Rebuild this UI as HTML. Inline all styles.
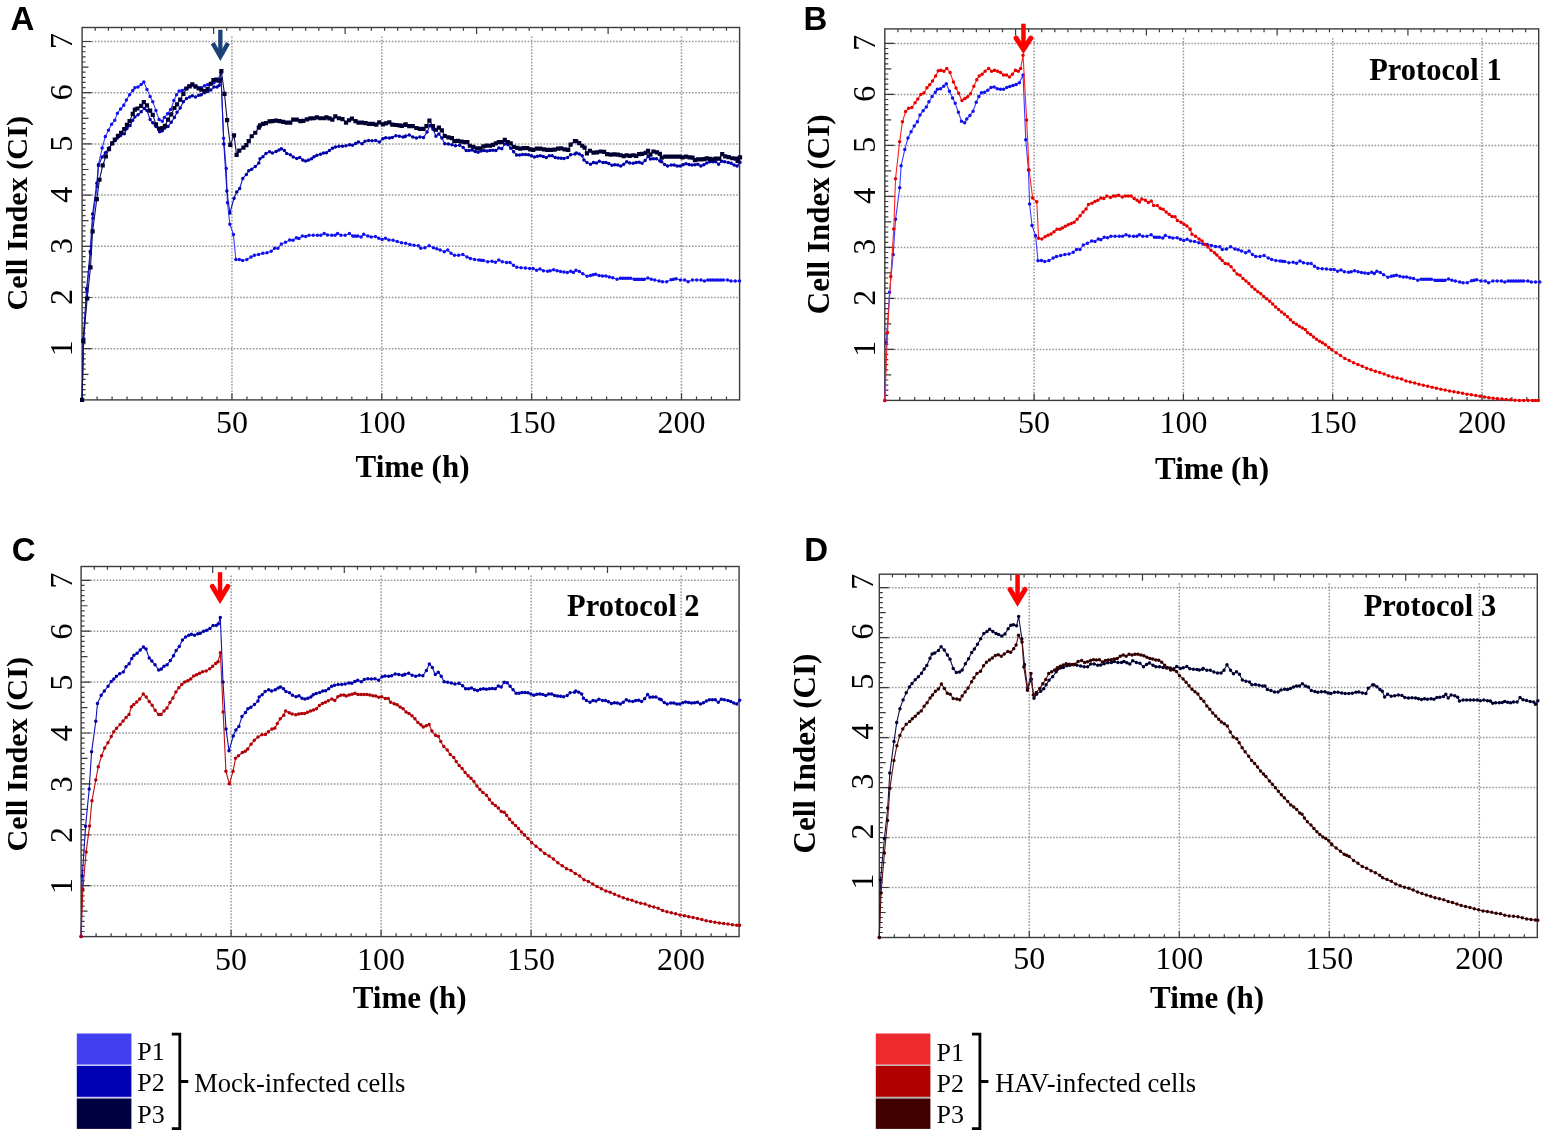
<!DOCTYPE html>
<html><head><meta charset="utf-8"><title>Cell Index</title>
<style>
html,body{margin:0;padding:0;background:#fff;width:1547px;height:1138px;overflow:hidden}
svg{display:block}
.tl{font-family:'Liberation Serif','Times New Roman',serif;fill:#000}
.al{font-family:'Liberation Serif','Times New Roman',serif;font-weight:bold;fill:#000}
.pl{font-family:'Liberation Sans',Arial,sans-serif;font-weight:bold;fill:#000}
.lg{font-family:'Liberation Serif','Times New Roman',serif;fill:#000}
</style></head><body>
<svg width="1547" height="1138" viewBox="0 0 1547 1138">
<rect width="1547" height="1138" fill="#fff"/>
<path d="M82.1 348.7H739.6M82.1 297.5H739.6M82.1 246.3H739.6M82.1 195.1H739.6M82.1 143.9H739.6M82.1 92.7H739.6M82.1 41.5H739.6M231.95 36.5V399.9M381.8 36.5V399.9M531.65 36.5V399.9M681.5 36.5V399.9" stroke="#989898" stroke-width="1.5" stroke-dasharray="1.6 1.56" fill="none"/>
<path d="M97.08 399.9v-3.3M112.07 399.9v-3.3M127.05 399.9v-3.3M142.04 399.9v-3.3M157.02 399.9v-3.3M172.01 399.9v-3.3M187 399.9v-3.3M201.98 399.9v-3.3M216.97 399.9v-3.3M231.95 399.9v-6.6M246.93 399.9v-3.3M261.92 399.9v-3.3M276.9 399.9v-3.3M291.89 399.9v-3.3M306.88 399.9v-3.3M321.86 399.9v-3.3M336.85 399.9v-3.3M351.83 399.9v-3.3M366.81 399.9v-3.3M381.8 399.9v-6.6M396.78 399.9v-3.3M411.77 399.9v-3.3M426.75 399.9v-3.3M441.74 399.9v-3.3M456.73 399.9v-3.3M471.71 399.9v-3.3M486.69 399.9v-3.3M501.68 399.9v-3.3M516.66 399.9v-3.3M531.65 399.9v-6.6M546.63 399.9v-3.3M561.62 399.9v-3.3M576.61 399.9v-3.3M591.59 399.9v-3.3M606.58 399.9v-3.3M621.56 399.9v-3.3M636.54 399.9v-3.3M651.53 399.9v-3.3M666.51 399.9v-3.3M681.5 399.9v-6.6M696.49 399.9v-3.3M711.47 399.9v-3.3M726.46 399.9v-3.3M82.1 394.78h3.5M82.1 389.66h3.5M82.1 384.54h3.5M82.1 379.42h3.5M82.1 374.3h6.4M82.1 369.18h3.5M82.1 364.06h3.5M82.1 358.94h3.5M82.1 353.82h3.5M82.1 348.7h9.5M82.1 343.58h3.5M82.1 338.46h3.5M82.1 333.34h3.5M82.1 328.22h3.5M82.1 323.1h6.4M82.1 317.98h3.5M82.1 312.86h3.5M82.1 307.74h3.5M82.1 302.62h3.5M82.1 297.5h9.5M82.1 292.38h3.5M82.1 287.26h3.5M82.1 282.14h3.5M82.1 277.02h3.5M82.1 271.9h6.4M82.1 266.78h3.5M82.1 261.66h3.5M82.1 256.54h3.5M82.1 251.42h3.5M82.1 246.3h9.5M82.1 241.18h3.5M82.1 236.06h3.5M82.1 230.94h3.5M82.1 225.82h3.5M82.1 220.7h6.4M82.1 215.58h3.5M82.1 210.46h3.5M82.1 205.34h3.5M82.1 200.22h3.5M82.1 195.1h9.5M82.1 189.98h3.5M82.1 184.86h3.5M82.1 179.74h3.5M82.1 174.62h3.5M82.1 169.5h6.4M82.1 164.38h3.5M82.1 159.26h3.5M82.1 154.14h3.5M82.1 149.02h3.5M82.1 143.9h9.5M82.1 138.78h3.5M82.1 133.66h3.5M82.1 128.54h3.5M82.1 123.42h3.5M82.1 118.3h6.4M82.1 113.18h3.5M82.1 108.06h3.5M82.1 102.94h3.5M82.1 97.82h3.5M82.1 92.7h9.5M82.1 87.58h3.5M82.1 82.46h3.5M82.1 77.34h3.5M82.1 72.22h3.5M82.1 67.1h6.4M82.1 61.98h3.5M82.1 56.86h3.5M82.1 51.74h3.5M82.1 46.62h3.5M82.1 41.5h9.5M95.25 27.5v3.3M108.4 27.5v3.3M121.55 27.5v3.3M134.7 27.5v3.3M147.85 27.5v3.3M161 27.5v3.3M174.15 27.5v3.3M187.3 27.5v3.3M200.45 27.5v3.3M213.6 27.5v6.6M226.75 27.5v3.3M239.9 27.5v3.3M253.05 27.5v3.3M266.2 27.5v3.3M279.35 27.5v3.3M292.5 27.5v3.3M305.65 27.5v3.3M318.8 27.5v3.3M331.95 27.5v3.3M345.1 27.5v6.6M358.25 27.5v3.3M371.4 27.5v3.3M384.55 27.5v3.3M397.7 27.5v3.3M410.85 27.5v3.3M424 27.5v3.3M437.15 27.5v3.3M450.3 27.5v3.3M463.45 27.5v3.3M476.6 27.5v6.6M489.75 27.5v3.3M502.9 27.5v3.3M516.05 27.5v3.3M529.2 27.5v3.3M542.35 27.5v3.3M555.5 27.5v3.3M568.65 27.5v3.3M581.8 27.5v3.3M594.95 27.5v3.3M608.1 27.5v6.6M621.25 27.5v3.3M634.4 27.5v3.3M647.55 27.5v3.3M660.7 27.5v3.3M673.85 27.5v3.3M687 27.5v3.3M700.15 27.5v3.3M713.3 27.5v3.3M726.45 27.5v3.3" stroke="#3a3a3a" stroke-width="1.2" fill="none"/>
<rect x="82.1" y="27.5" width="657.5" height="372.4" fill="none" stroke="#3c3c3c" stroke-width="1.4"/>
<polyline points="82.1,399.9 83.6,341.53 86.9,291.36 90.49,253.47 92.89,218.14 97.08,186.4 98.46,164.43 102.15,148.05 105.33,136.48 108.47,130.13 111.65,124.34 114.8,120.14 117.43,113.28 120.61,109.03 123.76,105.35 126.4,100.07 129.57,94.8 132.75,90.6 134.85,87.63 138.02,86.91 141.17,84.46 143.81,81.95 146.99,89.53 150.13,96.39 152.77,101.66 155.95,110.62 159.09,119.58 162.27,121.17 164.37,117.48 167.54,113.79 170.69,109.6 173.87,100.58 176.51,94.8 179.14,91.11 182.32,90.6 185.47,88.5 188.64,85.84 191.79,85.33 194.97,86.91 198.11,87.43 201.29,87.63 204.47,85.84 207.61,84.76 210.79,83.74 213.94,82.66 217.11,81.08 220.86,73.24 223.56,138.27 226.26,168.48 227.45,202.78 229.85,224.28 233.45,234.52 235.85,259.61 239.29,259.56 242.65,260.43 246.85,259.56 251.04,257.05 254.4,255.36 258.62,254.54 262.82,253.37 267.01,252.85 271.21,251.16 274.57,248.3 277.95,248.3 281.31,243.94 285.51,242.26 289.7,239.9 293.06,240.26 296.42,237.75 298.96,238.57 302.32,236.06 305.68,236.57 309.03,235.19 313.23,235.19 317.42,235.19 320.81,235.19 324.17,233.55 327.52,234.88 331.72,235.19 335.08,235.19 337.59,233.55 340.98,235.19 345.18,235.19 349.37,233.55 352.73,236.06 357.76,236.06 361.12,236.88 363.67,234.37 367.86,236.06 371.22,236.88 375.42,236.57 378.77,238.21 382.13,239.39 385.52,238.21 388.87,239.9 393.07,240.26 397.26,241.59 401.46,242.77 405.69,243.28 409.88,244.46 414.08,245.28 418.27,245.63 420.79,248.3 424.99,247.84 429.21,245.63 433.41,247.84 436.76,248.66 440.12,249.99 444.32,251.68 447.7,249.99 451.06,253.37 454.42,255.36 458.61,255.36 462.81,254.54 467,257.05 470.39,258.38 474.59,259.56 478.78,260.07 483.43,260.48 487.71,261.71 492,261.2 495.42,262.22 498.83,259.97 502.28,261.71 506.57,262.53 509.98,262.53 513.4,265.14 516.81,267.34 521.1,267.7 525.39,268.01 529.67,268.52 533.09,268.52 536.54,270.26 539.95,269.03 543.37,270.77 547.65,271.13 550.23,270.77 553.65,269.75 557.09,270.77 560.51,271.44 563.93,271.95 567.37,272.46 570.79,271.13 573.37,272.46 575.92,270.26 579.36,271.44 582.78,273.69 587.06,276.25 590.48,275.38 595.64,274.2 599.05,275.38 602.47,275.89 605.92,275.89 609.33,277.12 612.75,277.63 617.03,279.32 620.45,278.3 625.61,278.3 630.73,278.3 634.18,279.32 639.3,279.32 644.46,279.32 647.87,277.94 651.29,279.32 654.74,280.04 659.02,281.06 662.44,281.73 666.72,281.73 671.01,279.68 676.14,278.81 680.42,280.04 684.71,280.04 688.12,281.73 692.41,280.04 696.69,280.04 700.98,280.04 704.4,281.06 707.81,280.04 712.97,280.04 718.09,280.04 723.25,280.04 727.53,280.04 730.95,281.06 735.24,281.06 739.52,281.06" fill="none" stroke="#3a3aff" stroke-width="1.1" stroke-linejoin="round"/>
<path d="M80.35 399.9a1.75 1.75 0 1 0 3.5 0a1.75 1.75 0 1 0 -3.5 0zM81.85 341.53a1.75 1.75 0 1 0 3.5 0a1.75 1.75 0 1 0 -3.5 0zM85.15 291.36a1.75 1.75 0 1 0 3.5 0a1.75 1.75 0 1 0 -3.5 0zM88.74 253.47a1.75 1.75 0 1 0 3.5 0a1.75 1.75 0 1 0 -3.5 0zM91.14 218.14a1.75 1.75 0 1 0 3.5 0a1.75 1.75 0 1 0 -3.5 0zM95.33 186.4a1.75 1.75 0 1 0 3.5 0a1.75 1.75 0 1 0 -3.5 0zM96.71 164.43a1.75 1.75 0 1 0 3.5 0a1.75 1.75 0 1 0 -3.5 0zM100.4 148.05a1.75 1.75 0 1 0 3.5 0a1.75 1.75 0 1 0 -3.5 0zM103.58 136.48a1.75 1.75 0 1 0 3.5 0a1.75 1.75 0 1 0 -3.5 0zM106.72 130.13a1.75 1.75 0 1 0 3.5 0a1.75 1.75 0 1 0 -3.5 0zM109.9 124.34a1.75 1.75 0 1 0 3.5 0a1.75 1.75 0 1 0 -3.5 0zM113.05 120.14a1.75 1.75 0 1 0 3.5 0a1.75 1.75 0 1 0 -3.5 0zM115.68 113.28a1.75 1.75 0 1 0 3.5 0a1.75 1.75 0 1 0 -3.5 0zM118.86 109.03a1.75 1.75 0 1 0 3.5 0a1.75 1.75 0 1 0 -3.5 0zM122.01 105.35a1.75 1.75 0 1 0 3.5 0a1.75 1.75 0 1 0 -3.5 0zM124.65 100.07a1.75 1.75 0 1 0 3.5 0a1.75 1.75 0 1 0 -3.5 0zM127.82 94.8a1.75 1.75 0 1 0 3.5 0a1.75 1.75 0 1 0 -3.5 0zM131 90.6a1.75 1.75 0 1 0 3.5 0a1.75 1.75 0 1 0 -3.5 0zM133.1 87.63a1.75 1.75 0 1 0 3.5 0a1.75 1.75 0 1 0 -3.5 0zM136.27 86.91a1.75 1.75 0 1 0 3.5 0a1.75 1.75 0 1 0 -3.5 0zM139.42 84.46a1.75 1.75 0 1 0 3.5 0a1.75 1.75 0 1 0 -3.5 0zM142.06 81.95a1.75 1.75 0 1 0 3.5 0a1.75 1.75 0 1 0 -3.5 0zM145.24 89.53a1.75 1.75 0 1 0 3.5 0a1.75 1.75 0 1 0 -3.5 0zM148.38 96.39a1.75 1.75 0 1 0 3.5 0a1.75 1.75 0 1 0 -3.5 0zM151.02 101.66a1.75 1.75 0 1 0 3.5 0a1.75 1.75 0 1 0 -3.5 0zM154.2 110.62a1.75 1.75 0 1 0 3.5 0a1.75 1.75 0 1 0 -3.5 0zM157.34 119.58a1.75 1.75 0 1 0 3.5 0a1.75 1.75 0 1 0 -3.5 0zM160.52 121.17a1.75 1.75 0 1 0 3.5 0a1.75 1.75 0 1 0 -3.5 0zM162.62 117.48a1.75 1.75 0 1 0 3.5 0a1.75 1.75 0 1 0 -3.5 0zM165.79 113.79a1.75 1.75 0 1 0 3.5 0a1.75 1.75 0 1 0 -3.5 0zM168.94 109.6a1.75 1.75 0 1 0 3.5 0a1.75 1.75 0 1 0 -3.5 0zM172.12 100.58a1.75 1.75 0 1 0 3.5 0a1.75 1.75 0 1 0 -3.5 0zM174.76 94.8a1.75 1.75 0 1 0 3.5 0a1.75 1.75 0 1 0 -3.5 0zM177.39 91.11a1.75 1.75 0 1 0 3.5 0a1.75 1.75 0 1 0 -3.5 0zM180.57 90.6a1.75 1.75 0 1 0 3.5 0a1.75 1.75 0 1 0 -3.5 0zM183.72 88.5a1.75 1.75 0 1 0 3.5 0a1.75 1.75 0 1 0 -3.5 0zM186.89 85.84a1.75 1.75 0 1 0 3.5 0a1.75 1.75 0 1 0 -3.5 0zM190.04 85.33a1.75 1.75 0 1 0 3.5 0a1.75 1.75 0 1 0 -3.5 0zM193.22 86.91a1.75 1.75 0 1 0 3.5 0a1.75 1.75 0 1 0 -3.5 0zM196.36 87.43a1.75 1.75 0 1 0 3.5 0a1.75 1.75 0 1 0 -3.5 0zM199.54 87.63a1.75 1.75 0 1 0 3.5 0a1.75 1.75 0 1 0 -3.5 0zM202.72 85.84a1.75 1.75 0 1 0 3.5 0a1.75 1.75 0 1 0 -3.5 0zM205.86 84.76a1.75 1.75 0 1 0 3.5 0a1.75 1.75 0 1 0 -3.5 0zM209.04 83.74a1.75 1.75 0 1 0 3.5 0a1.75 1.75 0 1 0 -3.5 0zM212.19 82.66a1.75 1.75 0 1 0 3.5 0a1.75 1.75 0 1 0 -3.5 0zM215.36 81.08a1.75 1.75 0 1 0 3.5 0a1.75 1.75 0 1 0 -3.5 0zM219.11 73.24a1.75 1.75 0 1 0 3.5 0a1.75 1.75 0 1 0 -3.5 0zM221.81 138.27a1.75 1.75 0 1 0 3.5 0a1.75 1.75 0 1 0 -3.5 0zM224.51 168.48a1.75 1.75 0 1 0 3.5 0a1.75 1.75 0 1 0 -3.5 0zM225.7 202.78a1.75 1.75 0 1 0 3.5 0a1.75 1.75 0 1 0 -3.5 0zM228.1 224.28a1.75 1.75 0 1 0 3.5 0a1.75 1.75 0 1 0 -3.5 0zM231.7 234.52a1.75 1.75 0 1 0 3.5 0a1.75 1.75 0 1 0 -3.5 0zM234.1 259.61a1.75 1.75 0 1 0 3.5 0a1.75 1.75 0 1 0 -3.5 0zM237.54 259.56a1.75 1.75 0 1 0 3.5 0a1.75 1.75 0 1 0 -3.5 0zM240.9 260.43a1.75 1.75 0 1 0 3.5 0a1.75 1.75 0 1 0 -3.5 0zM245.1 259.56a1.75 1.75 0 1 0 3.5 0a1.75 1.75 0 1 0 -3.5 0zM249.29 257.05a1.75 1.75 0 1 0 3.5 0a1.75 1.75 0 1 0 -3.5 0zM252.65 255.36a1.75 1.75 0 1 0 3.5 0a1.75 1.75 0 1 0 -3.5 0zM256.87 254.54a1.75 1.75 0 1 0 3.5 0a1.75 1.75 0 1 0 -3.5 0zM261.07 253.37a1.75 1.75 0 1 0 3.5 0a1.75 1.75 0 1 0 -3.5 0zM265.26 252.85a1.75 1.75 0 1 0 3.5 0a1.75 1.75 0 1 0 -3.5 0zM269.46 251.16a1.75 1.75 0 1 0 3.5 0a1.75 1.75 0 1 0 -3.5 0zM272.82 248.3a1.75 1.75 0 1 0 3.5 0a1.75 1.75 0 1 0 -3.5 0zM276.2 248.3a1.75 1.75 0 1 0 3.5 0a1.75 1.75 0 1 0 -3.5 0zM279.56 243.94a1.75 1.75 0 1 0 3.5 0a1.75 1.75 0 1 0 -3.5 0zM283.76 242.26a1.75 1.75 0 1 0 3.5 0a1.75 1.75 0 1 0 -3.5 0zM287.95 239.9a1.75 1.75 0 1 0 3.5 0a1.75 1.75 0 1 0 -3.5 0zM291.31 240.26a1.75 1.75 0 1 0 3.5 0a1.75 1.75 0 1 0 -3.5 0zM294.67 237.75a1.75 1.75 0 1 0 3.5 0a1.75 1.75 0 1 0 -3.5 0zM297.21 238.57a1.75 1.75 0 1 0 3.5 0a1.75 1.75 0 1 0 -3.5 0zM300.57 236.06a1.75 1.75 0 1 0 3.5 0a1.75 1.75 0 1 0 -3.5 0zM303.93 236.57a1.75 1.75 0 1 0 3.5 0a1.75 1.75 0 1 0 -3.5 0zM307.28 235.19a1.75 1.75 0 1 0 3.5 0a1.75 1.75 0 1 0 -3.5 0zM311.48 235.19a1.75 1.75 0 1 0 3.5 0a1.75 1.75 0 1 0 -3.5 0zM315.67 235.19a1.75 1.75 0 1 0 3.5 0a1.75 1.75 0 1 0 -3.5 0zM319.06 235.19a1.75 1.75 0 1 0 3.5 0a1.75 1.75 0 1 0 -3.5 0zM322.42 233.55a1.75 1.75 0 1 0 3.5 0a1.75 1.75 0 1 0 -3.5 0zM325.77 234.88a1.75 1.75 0 1 0 3.5 0a1.75 1.75 0 1 0 -3.5 0zM329.97 235.19a1.75 1.75 0 1 0 3.5 0a1.75 1.75 0 1 0 -3.5 0zM333.33 235.19a1.75 1.75 0 1 0 3.5 0a1.75 1.75 0 1 0 -3.5 0zM335.84 233.55a1.75 1.75 0 1 0 3.5 0a1.75 1.75 0 1 0 -3.5 0zM339.23 235.19a1.75 1.75 0 1 0 3.5 0a1.75 1.75 0 1 0 -3.5 0zM343.43 235.19a1.75 1.75 0 1 0 3.5 0a1.75 1.75 0 1 0 -3.5 0zM347.62 233.55a1.75 1.75 0 1 0 3.5 0a1.75 1.75 0 1 0 -3.5 0zM350.98 236.06a1.75 1.75 0 1 0 3.5 0a1.75 1.75 0 1 0 -3.5 0zM353.5 236.06a1.75 1.75 0 1 0 3.5 0a1.75 1.75 0 1 0 -3.5 0zM356.01 236.06a1.75 1.75 0 1 0 3.5 0a1.75 1.75 0 1 0 -3.5 0zM359.37 236.88a1.75 1.75 0 1 0 3.5 0a1.75 1.75 0 1 0 -3.5 0zM361.92 234.37a1.75 1.75 0 1 0 3.5 0a1.75 1.75 0 1 0 -3.5 0zM366.11 236.06a1.75 1.75 0 1 0 3.5 0a1.75 1.75 0 1 0 -3.5 0zM369.47 236.88a1.75 1.75 0 1 0 3.5 0a1.75 1.75 0 1 0 -3.5 0zM373.67 236.57a1.75 1.75 0 1 0 3.5 0a1.75 1.75 0 1 0 -3.5 0zM377.02 238.21a1.75 1.75 0 1 0 3.5 0a1.75 1.75 0 1 0 -3.5 0zM380.38 239.39a1.75 1.75 0 1 0 3.5 0a1.75 1.75 0 1 0 -3.5 0zM383.77 238.21a1.75 1.75 0 1 0 3.5 0a1.75 1.75 0 1 0 -3.5 0zM387.12 239.9a1.75 1.75 0 1 0 3.5 0a1.75 1.75 0 1 0 -3.5 0zM391.32 240.26a1.75 1.75 0 1 0 3.5 0a1.75 1.75 0 1 0 -3.5 0zM395.51 241.59a1.75 1.75 0 1 0 3.5 0a1.75 1.75 0 1 0 -3.5 0zM399.71 242.77a1.75 1.75 0 1 0 3.5 0a1.75 1.75 0 1 0 -3.5 0zM403.94 243.28a1.75 1.75 0 1 0 3.5 0a1.75 1.75 0 1 0 -3.5 0zM408.13 244.46a1.75 1.75 0 1 0 3.5 0a1.75 1.75 0 1 0 -3.5 0zM412.33 245.28a1.75 1.75 0 1 0 3.5 0a1.75 1.75 0 1 0 -3.5 0zM416.52 245.63a1.75 1.75 0 1 0 3.5 0a1.75 1.75 0 1 0 -3.5 0zM419.04 248.3a1.75 1.75 0 1 0 3.5 0a1.75 1.75 0 1 0 -3.5 0zM423.24 247.84a1.75 1.75 0 1 0 3.5 0a1.75 1.75 0 1 0 -3.5 0zM427.46 245.63a1.75 1.75 0 1 0 3.5 0a1.75 1.75 0 1 0 -3.5 0zM431.66 247.84a1.75 1.75 0 1 0 3.5 0a1.75 1.75 0 1 0 -3.5 0zM435.01 248.66a1.75 1.75 0 1 0 3.5 0a1.75 1.75 0 1 0 -3.5 0zM438.37 249.99a1.75 1.75 0 1 0 3.5 0a1.75 1.75 0 1 0 -3.5 0zM442.57 251.68a1.75 1.75 0 1 0 3.5 0a1.75 1.75 0 1 0 -3.5 0zM445.95 249.99a1.75 1.75 0 1 0 3.5 0a1.75 1.75 0 1 0 -3.5 0zM449.31 253.37a1.75 1.75 0 1 0 3.5 0a1.75 1.75 0 1 0 -3.5 0zM452.67 255.36a1.75 1.75 0 1 0 3.5 0a1.75 1.75 0 1 0 -3.5 0zM456.86 255.36a1.75 1.75 0 1 0 3.5 0a1.75 1.75 0 1 0 -3.5 0zM461.06 254.54a1.75 1.75 0 1 0 3.5 0a1.75 1.75 0 1 0 -3.5 0zM465.25 257.05a1.75 1.75 0 1 0 3.5 0a1.75 1.75 0 1 0 -3.5 0zM468.64 258.38a1.75 1.75 0 1 0 3.5 0a1.75 1.75 0 1 0 -3.5 0zM472.84 259.56a1.75 1.75 0 1 0 3.5 0a1.75 1.75 0 1 0 -3.5 0zM477.03 260.07a1.75 1.75 0 1 0 3.5 0a1.75 1.75 0 1 0 -3.5 0zM479.36 260.28a1.75 1.75 0 1 0 3.5 0a1.75 1.75 0 1 0 -3.5 0zM481.68 260.48a1.75 1.75 0 1 0 3.5 0a1.75 1.75 0 1 0 -3.5 0zM485.96 261.71a1.75 1.75 0 1 0 3.5 0a1.75 1.75 0 1 0 -3.5 0zM490.25 261.2a1.75 1.75 0 1 0 3.5 0a1.75 1.75 0 1 0 -3.5 0zM493.67 262.22a1.75 1.75 0 1 0 3.5 0a1.75 1.75 0 1 0 -3.5 0zM497.08 259.97a1.75 1.75 0 1 0 3.5 0a1.75 1.75 0 1 0 -3.5 0zM500.53 261.71a1.75 1.75 0 1 0 3.5 0a1.75 1.75 0 1 0 -3.5 0zM504.82 262.53a1.75 1.75 0 1 0 3.5 0a1.75 1.75 0 1 0 -3.5 0zM508.23 262.53a1.75 1.75 0 1 0 3.5 0a1.75 1.75 0 1 0 -3.5 0zM511.65 265.14a1.75 1.75 0 1 0 3.5 0a1.75 1.75 0 1 0 -3.5 0zM515.06 267.34a1.75 1.75 0 1 0 3.5 0a1.75 1.75 0 1 0 -3.5 0zM519.35 267.7a1.75 1.75 0 1 0 3.5 0a1.75 1.75 0 1 0 -3.5 0zM523.64 268.01a1.75 1.75 0 1 0 3.5 0a1.75 1.75 0 1 0 -3.5 0zM527.92 268.52a1.75 1.75 0 1 0 3.5 0a1.75 1.75 0 1 0 -3.5 0zM531.34 268.52a1.75 1.75 0 1 0 3.5 0a1.75 1.75 0 1 0 -3.5 0zM534.79 270.26a1.75 1.75 0 1 0 3.5 0a1.75 1.75 0 1 0 -3.5 0zM538.2 269.03a1.75 1.75 0 1 0 3.5 0a1.75 1.75 0 1 0 -3.5 0zM541.62 270.77a1.75 1.75 0 1 0 3.5 0a1.75 1.75 0 1 0 -3.5 0zM545.9 271.13a1.75 1.75 0 1 0 3.5 0a1.75 1.75 0 1 0 -3.5 0zM548.48 270.77a1.75 1.75 0 1 0 3.5 0a1.75 1.75 0 1 0 -3.5 0zM551.9 269.75a1.75 1.75 0 1 0 3.5 0a1.75 1.75 0 1 0 -3.5 0zM555.34 270.77a1.75 1.75 0 1 0 3.5 0a1.75 1.75 0 1 0 -3.5 0zM558.76 271.44a1.75 1.75 0 1 0 3.5 0a1.75 1.75 0 1 0 -3.5 0zM562.18 271.95a1.75 1.75 0 1 0 3.5 0a1.75 1.75 0 1 0 -3.5 0zM565.62 272.46a1.75 1.75 0 1 0 3.5 0a1.75 1.75 0 1 0 -3.5 0zM569.04 271.13a1.75 1.75 0 1 0 3.5 0a1.75 1.75 0 1 0 -3.5 0zM571.62 272.46a1.75 1.75 0 1 0 3.5 0a1.75 1.75 0 1 0 -3.5 0zM574.17 270.26a1.75 1.75 0 1 0 3.5 0a1.75 1.75 0 1 0 -3.5 0zM577.61 271.44a1.75 1.75 0 1 0 3.5 0a1.75 1.75 0 1 0 -3.5 0zM581.03 273.69a1.75 1.75 0 1 0 3.5 0a1.75 1.75 0 1 0 -3.5 0zM585.31 276.25a1.75 1.75 0 1 0 3.5 0a1.75 1.75 0 1 0 -3.5 0zM588.73 275.38a1.75 1.75 0 1 0 3.5 0a1.75 1.75 0 1 0 -3.5 0zM591.31 274.79a1.75 1.75 0 1 0 3.5 0a1.75 1.75 0 1 0 -3.5 0zM593.89 274.2a1.75 1.75 0 1 0 3.5 0a1.75 1.75 0 1 0 -3.5 0zM597.3 275.38a1.75 1.75 0 1 0 3.5 0a1.75 1.75 0 1 0 -3.5 0zM600.72 275.89a1.75 1.75 0 1 0 3.5 0a1.75 1.75 0 1 0 -3.5 0zM604.17 275.89a1.75 1.75 0 1 0 3.5 0a1.75 1.75 0 1 0 -3.5 0zM607.58 277.12a1.75 1.75 0 1 0 3.5 0a1.75 1.75 0 1 0 -3.5 0zM611 277.63a1.75 1.75 0 1 0 3.5 0a1.75 1.75 0 1 0 -3.5 0zM615.28 279.32a1.75 1.75 0 1 0 3.5 0a1.75 1.75 0 1 0 -3.5 0zM618.7 278.3a1.75 1.75 0 1 0 3.5 0a1.75 1.75 0 1 0 -3.5 0zM621.28 278.3a1.75 1.75 0 1 0 3.5 0a1.75 1.75 0 1 0 -3.5 0zM623.86 278.3a1.75 1.75 0 1 0 3.5 0a1.75 1.75 0 1 0 -3.5 0zM626.42 278.3a1.75 1.75 0 1 0 3.5 0a1.75 1.75 0 1 0 -3.5 0zM628.98 278.3a1.75 1.75 0 1 0 3.5 0a1.75 1.75 0 1 0 -3.5 0zM632.43 279.32a1.75 1.75 0 1 0 3.5 0a1.75 1.75 0 1 0 -3.5 0zM634.99 279.32a1.75 1.75 0 1 0 3.5 0a1.75 1.75 0 1 0 -3.5 0zM637.55 279.32a1.75 1.75 0 1 0 3.5 0a1.75 1.75 0 1 0 -3.5 0zM640.13 279.32a1.75 1.75 0 1 0 3.5 0a1.75 1.75 0 1 0 -3.5 0zM642.71 279.32a1.75 1.75 0 1 0 3.5 0a1.75 1.75 0 1 0 -3.5 0zM646.12 277.94a1.75 1.75 0 1 0 3.5 0a1.75 1.75 0 1 0 -3.5 0zM649.54 279.32a1.75 1.75 0 1 0 3.5 0a1.75 1.75 0 1 0 -3.5 0zM652.99 280.04a1.75 1.75 0 1 0 3.5 0a1.75 1.75 0 1 0 -3.5 0zM657.27 281.06a1.75 1.75 0 1 0 3.5 0a1.75 1.75 0 1 0 -3.5 0zM660.69 281.73a1.75 1.75 0 1 0 3.5 0a1.75 1.75 0 1 0 -3.5 0zM664.97 281.73a1.75 1.75 0 1 0 3.5 0a1.75 1.75 0 1 0 -3.5 0zM669.26 279.68a1.75 1.75 0 1 0 3.5 0a1.75 1.75 0 1 0 -3.5 0zM671.82 279.25a1.75 1.75 0 1 0 3.5 0a1.75 1.75 0 1 0 -3.5 0zM674.39 278.81a1.75 1.75 0 1 0 3.5 0a1.75 1.75 0 1 0 -3.5 0zM678.67 280.04a1.75 1.75 0 1 0 3.5 0a1.75 1.75 0 1 0 -3.5 0zM682.96 280.04a1.75 1.75 0 1 0 3.5 0a1.75 1.75 0 1 0 -3.5 0zM686.37 281.73a1.75 1.75 0 1 0 3.5 0a1.75 1.75 0 1 0 -3.5 0zM690.66 280.04a1.75 1.75 0 1 0 3.5 0a1.75 1.75 0 1 0 -3.5 0zM694.94 280.04a1.75 1.75 0 1 0 3.5 0a1.75 1.75 0 1 0 -3.5 0zM699.23 280.04a1.75 1.75 0 1 0 3.5 0a1.75 1.75 0 1 0 -3.5 0zM702.65 281.06a1.75 1.75 0 1 0 3.5 0a1.75 1.75 0 1 0 -3.5 0zM706.06 280.04a1.75 1.75 0 1 0 3.5 0a1.75 1.75 0 1 0 -3.5 0zM708.64 280.04a1.75 1.75 0 1 0 3.5 0a1.75 1.75 0 1 0 -3.5 0zM711.22 280.04a1.75 1.75 0 1 0 3.5 0a1.75 1.75 0 1 0 -3.5 0zM713.78 280.04a1.75 1.75 0 1 0 3.5 0a1.75 1.75 0 1 0 -3.5 0zM716.34 280.04a1.75 1.75 0 1 0 3.5 0a1.75 1.75 0 1 0 -3.5 0zM718.92 280.04a1.75 1.75 0 1 0 3.5 0a1.75 1.75 0 1 0 -3.5 0zM721.5 280.04a1.75 1.75 0 1 0 3.5 0a1.75 1.75 0 1 0 -3.5 0zM725.78 280.04a1.75 1.75 0 1 0 3.5 0a1.75 1.75 0 1 0 -3.5 0zM729.2 281.06a1.75 1.75 0 1 0 3.5 0a1.75 1.75 0 1 0 -3.5 0zM733.49 281.06a1.75 1.75 0 1 0 3.5 0a1.75 1.75 0 1 0 -3.5 0zM737.77 281.06a1.75 1.75 0 1 0 3.5 0a1.75 1.75 0 1 0 -3.5 0z" fill="#1010f0"/>
<polyline points="82.1,399.9 83.3,338.97 86.6,288.8 90.19,251.42 92.59,214.04 96.79,183.32 98.46,165.46 102.15,157.06 105.33,152.81 109.01,148.05 112.16,143.34 114.8,140.67 117.43,138.06 120.61,135.4 124.3,133.81 126.94,128.54 130.11,125.42 132.75,120.14 134.85,116.97 138.02,114.87 141.17,111.7 144.35,108.52 146.99,110.62 150.13,119.58 152.77,122.75 155.95,126.44 159.63,131.71 162.27,130.69 164.91,128.03 168.05,126.44 171.23,122.24 174.41,117.48 177.04,112.21 180.19,108.01 183.37,101.66 186.52,98.49 189.69,96.9 192.33,95.87 195.48,96.9 198.65,95.31 201.29,94.8 204.47,92.7 207.61,91.62 210.79,90.04 213.94,86.91 217.11,86.91 219.21,85.33 221.16,78.88 223.86,143.9 226.86,191 229.85,213.02 234.05,198.17 236.75,192.03 239.74,188.44 242.8,178.41 246.37,174.47 248.73,170.68 251.7,169.24 255.27,166.53 258.8,163 260,158.8 262.97,156.7 265.94,153.47 269.5,151.68 272.47,152.91 276.04,151.48 279,149.94 281.37,148.71 284.34,150.5 286.71,153.47 290.27,154.65 293.24,157.06 296.78,158.59 299.74,157.62 302.71,160.03 305.68,160.95 308.64,160.03 311.61,158.8 313.98,156.7 316.94,155.27 320.51,154.29 323.48,152.91 326.45,152.66 329.41,150.5 332.38,148.15 335.35,146.97 338.91,146.36 342.48,146.36 346.02,145.74 349.58,144.82 352.55,145.18 355.52,143.39 358.48,141.95 362.05,143.64 365.02,141.24 368.58,140.42 372.12,140.78 375.69,140.42 379.25,141.95 382.82,138.63 385.79,137.7 389.35,138.06 392.29,137.45 395.86,135.66 399.42,136.27 402.99,136.89 405,136.53 405.69,136.02 409.25,135.09 412.79,136.89 416.36,138.06 419.92,136.89 423.49,137.45 427.02,132.12 429.99,125.62 432.96,129.15 435.93,136.27 438.89,133.92 441.86,138.06 444.83,143.64 448.39,144 451.96,144.82 455.53,145.74 459.66,145.18 463.23,147.54 466.2,150.5 469.16,150.5 472.13,149.94 475.1,151.48 478.06,152.3 481.03,151.12 484,150.5 486.96,151.12 489.93,150.5 492.9,150.3 495.87,150.5 498.83,147.89 501.8,148.71 504.77,144 507.73,144.57 510.7,148.15 513.67,151.68 516.64,155.01 519.6,155.01 522.57,154.45 525.51,154.45 528.47,154.65 531.44,155.83 534.41,157.06 537.37,156.19 540.34,155.83 543.31,156.44 546.28,157.42 549.24,155.83 552.21,155.83 555.18,157.42 558.14,157.88 561.11,158.24 564.08,158.59 567.64,157.42 570.61,154.65 574.99,154.09 576.28,152.91 579.24,154.09 582.21,155.83 583.98,160.03 586.94,162.38 590.51,164.18 593.48,162.38 596.45,163 599.41,161.21 602.98,162.38 605.95,162.38 608.91,163.56 611.88,165.35 614.85,164.74 617.81,164.99 620.78,165.92 623.75,164.18 626.71,161.77 629.68,163 633.22,163.3 636.19,162.38 639.15,162.13 642.12,163.3 645.09,160.59 648.05,156.44 650.42,159.06 653.39,158.8 656.36,158.8 659.92,160.95 661.69,161.77 664.66,164.53 667.62,165.92 671.19,164.99 674.16,164.99 677.12,165.92 680.09,165.92 683.06,164.74 686.03,163.82 688.99,164.53 691.96,164.99 694.93,164.74 697.89,164.18 700.86,165.92 703.83,164.74 706.79,163 709.76,161.77 712.73,161.77 715.7,161.77 718.66,164.18 721.63,161.21 724.6,161.77 728.16,162.38 731.13,163.3 734.1,164.99 737.06,165.92 740.03,162.13" fill="none" stroke="#1010c0" stroke-width="1.1" stroke-linejoin="round"/>
<path d="M80.35 399.9a1.75 1.75 0 1 0 3.5 0a1.75 1.75 0 1 0 -3.5 0zM81.55 338.97a1.75 1.75 0 1 0 3.5 0a1.75 1.75 0 1 0 -3.5 0zM84.85 288.8a1.75 1.75 0 1 0 3.5 0a1.75 1.75 0 1 0 -3.5 0zM88.44 251.42a1.75 1.75 0 1 0 3.5 0a1.75 1.75 0 1 0 -3.5 0zM90.84 214.04a1.75 1.75 0 1 0 3.5 0a1.75 1.75 0 1 0 -3.5 0zM95.04 183.32a1.75 1.75 0 1 0 3.5 0a1.75 1.75 0 1 0 -3.5 0zM96.71 165.46a1.75 1.75 0 1 0 3.5 0a1.75 1.75 0 1 0 -3.5 0zM100.4 157.06a1.75 1.75 0 1 0 3.5 0a1.75 1.75 0 1 0 -3.5 0zM103.58 152.81a1.75 1.75 0 1 0 3.5 0a1.75 1.75 0 1 0 -3.5 0zM107.26 148.05a1.75 1.75 0 1 0 3.5 0a1.75 1.75 0 1 0 -3.5 0zM110.41 143.34a1.75 1.75 0 1 0 3.5 0a1.75 1.75 0 1 0 -3.5 0zM113.05 140.67a1.75 1.75 0 1 0 3.5 0a1.75 1.75 0 1 0 -3.5 0zM115.68 138.06a1.75 1.75 0 1 0 3.5 0a1.75 1.75 0 1 0 -3.5 0zM118.86 135.4a1.75 1.75 0 1 0 3.5 0a1.75 1.75 0 1 0 -3.5 0zM122.55 133.81a1.75 1.75 0 1 0 3.5 0a1.75 1.75 0 1 0 -3.5 0zM125.19 128.54a1.75 1.75 0 1 0 3.5 0a1.75 1.75 0 1 0 -3.5 0zM128.36 125.42a1.75 1.75 0 1 0 3.5 0a1.75 1.75 0 1 0 -3.5 0zM131 120.14a1.75 1.75 0 1 0 3.5 0a1.75 1.75 0 1 0 -3.5 0zM133.1 116.97a1.75 1.75 0 1 0 3.5 0a1.75 1.75 0 1 0 -3.5 0zM136.27 114.87a1.75 1.75 0 1 0 3.5 0a1.75 1.75 0 1 0 -3.5 0zM139.42 111.7a1.75 1.75 0 1 0 3.5 0a1.75 1.75 0 1 0 -3.5 0zM142.6 108.52a1.75 1.75 0 1 0 3.5 0a1.75 1.75 0 1 0 -3.5 0zM145.24 110.62a1.75 1.75 0 1 0 3.5 0a1.75 1.75 0 1 0 -3.5 0zM148.38 119.58a1.75 1.75 0 1 0 3.5 0a1.75 1.75 0 1 0 -3.5 0zM151.02 122.75a1.75 1.75 0 1 0 3.5 0a1.75 1.75 0 1 0 -3.5 0zM154.2 126.44a1.75 1.75 0 1 0 3.5 0a1.75 1.75 0 1 0 -3.5 0zM157.88 131.71a1.75 1.75 0 1 0 3.5 0a1.75 1.75 0 1 0 -3.5 0zM160.52 130.69a1.75 1.75 0 1 0 3.5 0a1.75 1.75 0 1 0 -3.5 0zM163.16 128.03a1.75 1.75 0 1 0 3.5 0a1.75 1.75 0 1 0 -3.5 0zM166.3 126.44a1.75 1.75 0 1 0 3.5 0a1.75 1.75 0 1 0 -3.5 0zM169.48 122.24a1.75 1.75 0 1 0 3.5 0a1.75 1.75 0 1 0 -3.5 0zM172.66 117.48a1.75 1.75 0 1 0 3.5 0a1.75 1.75 0 1 0 -3.5 0zM175.29 112.21a1.75 1.75 0 1 0 3.5 0a1.75 1.75 0 1 0 -3.5 0zM178.44 108.01a1.75 1.75 0 1 0 3.5 0a1.75 1.75 0 1 0 -3.5 0zM181.62 101.66a1.75 1.75 0 1 0 3.5 0a1.75 1.75 0 1 0 -3.5 0zM184.77 98.49a1.75 1.75 0 1 0 3.5 0a1.75 1.75 0 1 0 -3.5 0zM187.94 96.9a1.75 1.75 0 1 0 3.5 0a1.75 1.75 0 1 0 -3.5 0zM190.58 95.87a1.75 1.75 0 1 0 3.5 0a1.75 1.75 0 1 0 -3.5 0zM193.73 96.9a1.75 1.75 0 1 0 3.5 0a1.75 1.75 0 1 0 -3.5 0zM196.9 95.31a1.75 1.75 0 1 0 3.5 0a1.75 1.75 0 1 0 -3.5 0zM199.54 94.8a1.75 1.75 0 1 0 3.5 0a1.75 1.75 0 1 0 -3.5 0zM202.72 92.7a1.75 1.75 0 1 0 3.5 0a1.75 1.75 0 1 0 -3.5 0zM205.86 91.62a1.75 1.75 0 1 0 3.5 0a1.75 1.75 0 1 0 -3.5 0zM209.04 90.04a1.75 1.75 0 1 0 3.5 0a1.75 1.75 0 1 0 -3.5 0zM212.19 86.91a1.75 1.75 0 1 0 3.5 0a1.75 1.75 0 1 0 -3.5 0zM215.36 86.91a1.75 1.75 0 1 0 3.5 0a1.75 1.75 0 1 0 -3.5 0zM217.46 85.33a1.75 1.75 0 1 0 3.5 0a1.75 1.75 0 1 0 -3.5 0zM219.41 78.88a1.75 1.75 0 1 0 3.5 0a1.75 1.75 0 1 0 -3.5 0zM222.11 143.9a1.75 1.75 0 1 0 3.5 0a1.75 1.75 0 1 0 -3.5 0zM225.11 191a1.75 1.75 0 1 0 3.5 0a1.75 1.75 0 1 0 -3.5 0zM228.1 213.02a1.75 1.75 0 1 0 3.5 0a1.75 1.75 0 1 0 -3.5 0zM232.3 198.17a1.75 1.75 0 1 0 3.5 0a1.75 1.75 0 1 0 -3.5 0zM235 192.03a1.75 1.75 0 1 0 3.5 0a1.75 1.75 0 1 0 -3.5 0zM237.99 188.44a1.75 1.75 0 1 0 3.5 0a1.75 1.75 0 1 0 -3.5 0zM241.05 178.41a1.75 1.75 0 1 0 3.5 0a1.75 1.75 0 1 0 -3.5 0zM244.62 174.47a1.75 1.75 0 1 0 3.5 0a1.75 1.75 0 1 0 -3.5 0zM246.98 170.68a1.75 1.75 0 1 0 3.5 0a1.75 1.75 0 1 0 -3.5 0zM249.95 169.24a1.75 1.75 0 1 0 3.5 0a1.75 1.75 0 1 0 -3.5 0zM253.52 166.53a1.75 1.75 0 1 0 3.5 0a1.75 1.75 0 1 0 -3.5 0zM257.05 163a1.75 1.75 0 1 0 3.5 0a1.75 1.75 0 1 0 -3.5 0zM258.25 158.8a1.75 1.75 0 1 0 3.5 0a1.75 1.75 0 1 0 -3.5 0zM261.22 156.7a1.75 1.75 0 1 0 3.5 0a1.75 1.75 0 1 0 -3.5 0zM264.19 153.47a1.75 1.75 0 1 0 3.5 0a1.75 1.75 0 1 0 -3.5 0zM267.75 151.68a1.75 1.75 0 1 0 3.5 0a1.75 1.75 0 1 0 -3.5 0zM270.72 152.91a1.75 1.75 0 1 0 3.5 0a1.75 1.75 0 1 0 -3.5 0zM274.29 151.48a1.75 1.75 0 1 0 3.5 0a1.75 1.75 0 1 0 -3.5 0zM277.25 149.94a1.75 1.75 0 1 0 3.5 0a1.75 1.75 0 1 0 -3.5 0zM279.62 148.71a1.75 1.75 0 1 0 3.5 0a1.75 1.75 0 1 0 -3.5 0zM282.59 150.5a1.75 1.75 0 1 0 3.5 0a1.75 1.75 0 1 0 -3.5 0zM284.96 153.47a1.75 1.75 0 1 0 3.5 0a1.75 1.75 0 1 0 -3.5 0zM288.52 154.65a1.75 1.75 0 1 0 3.5 0a1.75 1.75 0 1 0 -3.5 0zM291.49 157.06a1.75 1.75 0 1 0 3.5 0a1.75 1.75 0 1 0 -3.5 0zM295.03 158.59a1.75 1.75 0 1 0 3.5 0a1.75 1.75 0 1 0 -3.5 0zM297.99 157.62a1.75 1.75 0 1 0 3.5 0a1.75 1.75 0 1 0 -3.5 0zM300.96 160.03a1.75 1.75 0 1 0 3.5 0a1.75 1.75 0 1 0 -3.5 0zM303.93 160.95a1.75 1.75 0 1 0 3.5 0a1.75 1.75 0 1 0 -3.5 0zM306.89 160.03a1.75 1.75 0 1 0 3.5 0a1.75 1.75 0 1 0 -3.5 0zM309.86 158.8a1.75 1.75 0 1 0 3.5 0a1.75 1.75 0 1 0 -3.5 0zM312.23 156.7a1.75 1.75 0 1 0 3.5 0a1.75 1.75 0 1 0 -3.5 0zM315.19 155.27a1.75 1.75 0 1 0 3.5 0a1.75 1.75 0 1 0 -3.5 0zM318.76 154.29a1.75 1.75 0 1 0 3.5 0a1.75 1.75 0 1 0 -3.5 0zM321.73 152.91a1.75 1.75 0 1 0 3.5 0a1.75 1.75 0 1 0 -3.5 0zM324.7 152.66a1.75 1.75 0 1 0 3.5 0a1.75 1.75 0 1 0 -3.5 0zM327.66 150.5a1.75 1.75 0 1 0 3.5 0a1.75 1.75 0 1 0 -3.5 0zM330.63 148.15a1.75 1.75 0 1 0 3.5 0a1.75 1.75 0 1 0 -3.5 0zM333.6 146.97a1.75 1.75 0 1 0 3.5 0a1.75 1.75 0 1 0 -3.5 0zM337.16 146.36a1.75 1.75 0 1 0 3.5 0a1.75 1.75 0 1 0 -3.5 0zM340.73 146.36a1.75 1.75 0 1 0 3.5 0a1.75 1.75 0 1 0 -3.5 0zM344.27 145.74a1.75 1.75 0 1 0 3.5 0a1.75 1.75 0 1 0 -3.5 0zM347.83 144.82a1.75 1.75 0 1 0 3.5 0a1.75 1.75 0 1 0 -3.5 0zM350.8 145.18a1.75 1.75 0 1 0 3.5 0a1.75 1.75 0 1 0 -3.5 0zM353.77 143.39a1.75 1.75 0 1 0 3.5 0a1.75 1.75 0 1 0 -3.5 0zM356.73 141.95a1.75 1.75 0 1 0 3.5 0a1.75 1.75 0 1 0 -3.5 0zM360.3 143.64a1.75 1.75 0 1 0 3.5 0a1.75 1.75 0 1 0 -3.5 0zM363.27 141.24a1.75 1.75 0 1 0 3.5 0a1.75 1.75 0 1 0 -3.5 0zM366.83 140.42a1.75 1.75 0 1 0 3.5 0a1.75 1.75 0 1 0 -3.5 0zM370.37 140.78a1.75 1.75 0 1 0 3.5 0a1.75 1.75 0 1 0 -3.5 0zM373.94 140.42a1.75 1.75 0 1 0 3.5 0a1.75 1.75 0 1 0 -3.5 0zM377.5 141.95a1.75 1.75 0 1 0 3.5 0a1.75 1.75 0 1 0 -3.5 0zM381.07 138.63a1.75 1.75 0 1 0 3.5 0a1.75 1.75 0 1 0 -3.5 0zM384.04 137.7a1.75 1.75 0 1 0 3.5 0a1.75 1.75 0 1 0 -3.5 0zM387.6 138.06a1.75 1.75 0 1 0 3.5 0a1.75 1.75 0 1 0 -3.5 0zM390.54 137.45a1.75 1.75 0 1 0 3.5 0a1.75 1.75 0 1 0 -3.5 0zM394.11 135.66a1.75 1.75 0 1 0 3.5 0a1.75 1.75 0 1 0 -3.5 0zM397.67 136.27a1.75 1.75 0 1 0 3.5 0a1.75 1.75 0 1 0 -3.5 0zM401.24 136.89a1.75 1.75 0 1 0 3.5 0a1.75 1.75 0 1 0 -3.5 0zM403.25 136.53a1.75 1.75 0 1 0 3.5 0a1.75 1.75 0 1 0 -3.5 0zM403.94 136.02a1.75 1.75 0 1 0 3.5 0a1.75 1.75 0 1 0 -3.5 0zM407.5 135.09a1.75 1.75 0 1 0 3.5 0a1.75 1.75 0 1 0 -3.5 0zM411.04 136.89a1.75 1.75 0 1 0 3.5 0a1.75 1.75 0 1 0 -3.5 0zM414.61 138.06a1.75 1.75 0 1 0 3.5 0a1.75 1.75 0 1 0 -3.5 0zM418.17 136.89a1.75 1.75 0 1 0 3.5 0a1.75 1.75 0 1 0 -3.5 0zM421.74 137.45a1.75 1.75 0 1 0 3.5 0a1.75 1.75 0 1 0 -3.5 0zM425.27 132.12a1.75 1.75 0 1 0 3.5 0a1.75 1.75 0 1 0 -3.5 0zM428.24 125.62a1.75 1.75 0 1 0 3.5 0a1.75 1.75 0 1 0 -3.5 0zM431.21 129.15a1.75 1.75 0 1 0 3.5 0a1.75 1.75 0 1 0 -3.5 0zM434.18 136.27a1.75 1.75 0 1 0 3.5 0a1.75 1.75 0 1 0 -3.5 0zM437.14 133.92a1.75 1.75 0 1 0 3.5 0a1.75 1.75 0 1 0 -3.5 0zM440.11 138.06a1.75 1.75 0 1 0 3.5 0a1.75 1.75 0 1 0 -3.5 0zM443.08 143.64a1.75 1.75 0 1 0 3.5 0a1.75 1.75 0 1 0 -3.5 0zM446.64 144a1.75 1.75 0 1 0 3.5 0a1.75 1.75 0 1 0 -3.5 0zM450.21 144.82a1.75 1.75 0 1 0 3.5 0a1.75 1.75 0 1 0 -3.5 0zM453.78 145.74a1.75 1.75 0 1 0 3.5 0a1.75 1.75 0 1 0 -3.5 0zM457.91 145.18a1.75 1.75 0 1 0 3.5 0a1.75 1.75 0 1 0 -3.5 0zM461.48 147.54a1.75 1.75 0 1 0 3.5 0a1.75 1.75 0 1 0 -3.5 0zM464.45 150.5a1.75 1.75 0 1 0 3.5 0a1.75 1.75 0 1 0 -3.5 0zM467.41 150.5a1.75 1.75 0 1 0 3.5 0a1.75 1.75 0 1 0 -3.5 0zM470.38 149.94a1.75 1.75 0 1 0 3.5 0a1.75 1.75 0 1 0 -3.5 0zM473.35 151.48a1.75 1.75 0 1 0 3.5 0a1.75 1.75 0 1 0 -3.5 0zM476.31 152.3a1.75 1.75 0 1 0 3.5 0a1.75 1.75 0 1 0 -3.5 0zM479.28 151.12a1.75 1.75 0 1 0 3.5 0a1.75 1.75 0 1 0 -3.5 0zM482.25 150.5a1.75 1.75 0 1 0 3.5 0a1.75 1.75 0 1 0 -3.5 0zM485.21 151.12a1.75 1.75 0 1 0 3.5 0a1.75 1.75 0 1 0 -3.5 0zM488.18 150.5a1.75 1.75 0 1 0 3.5 0a1.75 1.75 0 1 0 -3.5 0zM491.15 150.3a1.75 1.75 0 1 0 3.5 0a1.75 1.75 0 1 0 -3.5 0zM494.12 150.5a1.75 1.75 0 1 0 3.5 0a1.75 1.75 0 1 0 -3.5 0zM497.08 147.89a1.75 1.75 0 1 0 3.5 0a1.75 1.75 0 1 0 -3.5 0zM500.05 148.71a1.75 1.75 0 1 0 3.5 0a1.75 1.75 0 1 0 -3.5 0zM503.02 144a1.75 1.75 0 1 0 3.5 0a1.75 1.75 0 1 0 -3.5 0zM505.98 144.57a1.75 1.75 0 1 0 3.5 0a1.75 1.75 0 1 0 -3.5 0zM508.95 148.15a1.75 1.75 0 1 0 3.5 0a1.75 1.75 0 1 0 -3.5 0zM511.92 151.68a1.75 1.75 0 1 0 3.5 0a1.75 1.75 0 1 0 -3.5 0zM514.89 155.01a1.75 1.75 0 1 0 3.5 0a1.75 1.75 0 1 0 -3.5 0zM517.85 155.01a1.75 1.75 0 1 0 3.5 0a1.75 1.75 0 1 0 -3.5 0zM520.82 154.45a1.75 1.75 0 1 0 3.5 0a1.75 1.75 0 1 0 -3.5 0zM523.76 154.45a1.75 1.75 0 1 0 3.5 0a1.75 1.75 0 1 0 -3.5 0zM526.72 154.65a1.75 1.75 0 1 0 3.5 0a1.75 1.75 0 1 0 -3.5 0zM529.69 155.83a1.75 1.75 0 1 0 3.5 0a1.75 1.75 0 1 0 -3.5 0zM532.66 157.06a1.75 1.75 0 1 0 3.5 0a1.75 1.75 0 1 0 -3.5 0zM535.62 156.19a1.75 1.75 0 1 0 3.5 0a1.75 1.75 0 1 0 -3.5 0zM538.59 155.83a1.75 1.75 0 1 0 3.5 0a1.75 1.75 0 1 0 -3.5 0zM541.56 156.44a1.75 1.75 0 1 0 3.5 0a1.75 1.75 0 1 0 -3.5 0zM544.53 157.42a1.75 1.75 0 1 0 3.5 0a1.75 1.75 0 1 0 -3.5 0zM547.49 155.83a1.75 1.75 0 1 0 3.5 0a1.75 1.75 0 1 0 -3.5 0zM550.46 155.83a1.75 1.75 0 1 0 3.5 0a1.75 1.75 0 1 0 -3.5 0zM553.43 157.42a1.75 1.75 0 1 0 3.5 0a1.75 1.75 0 1 0 -3.5 0zM556.39 157.88a1.75 1.75 0 1 0 3.5 0a1.75 1.75 0 1 0 -3.5 0zM559.36 158.24a1.75 1.75 0 1 0 3.5 0a1.75 1.75 0 1 0 -3.5 0zM562.33 158.59a1.75 1.75 0 1 0 3.5 0a1.75 1.75 0 1 0 -3.5 0zM565.89 157.42a1.75 1.75 0 1 0 3.5 0a1.75 1.75 0 1 0 -3.5 0zM568.86 154.65a1.75 1.75 0 1 0 3.5 0a1.75 1.75 0 1 0 -3.5 0zM573.24 154.09a1.75 1.75 0 1 0 3.5 0a1.75 1.75 0 1 0 -3.5 0zM574.53 152.91a1.75 1.75 0 1 0 3.5 0a1.75 1.75 0 1 0 -3.5 0zM577.49 154.09a1.75 1.75 0 1 0 3.5 0a1.75 1.75 0 1 0 -3.5 0zM580.46 155.83a1.75 1.75 0 1 0 3.5 0a1.75 1.75 0 1 0 -3.5 0zM582.23 160.03a1.75 1.75 0 1 0 3.5 0a1.75 1.75 0 1 0 -3.5 0zM585.19 162.38a1.75 1.75 0 1 0 3.5 0a1.75 1.75 0 1 0 -3.5 0zM588.76 164.18a1.75 1.75 0 1 0 3.5 0a1.75 1.75 0 1 0 -3.5 0zM591.73 162.38a1.75 1.75 0 1 0 3.5 0a1.75 1.75 0 1 0 -3.5 0zM594.7 163a1.75 1.75 0 1 0 3.5 0a1.75 1.75 0 1 0 -3.5 0zM597.66 161.21a1.75 1.75 0 1 0 3.5 0a1.75 1.75 0 1 0 -3.5 0zM601.23 162.38a1.75 1.75 0 1 0 3.5 0a1.75 1.75 0 1 0 -3.5 0zM604.2 162.38a1.75 1.75 0 1 0 3.5 0a1.75 1.75 0 1 0 -3.5 0zM607.16 163.56a1.75 1.75 0 1 0 3.5 0a1.75 1.75 0 1 0 -3.5 0zM610.13 165.35a1.75 1.75 0 1 0 3.5 0a1.75 1.75 0 1 0 -3.5 0zM613.1 164.74a1.75 1.75 0 1 0 3.5 0a1.75 1.75 0 1 0 -3.5 0zM616.06 164.99a1.75 1.75 0 1 0 3.5 0a1.75 1.75 0 1 0 -3.5 0zM619.03 165.92a1.75 1.75 0 1 0 3.5 0a1.75 1.75 0 1 0 -3.5 0zM622 164.18a1.75 1.75 0 1 0 3.5 0a1.75 1.75 0 1 0 -3.5 0zM624.96 161.77a1.75 1.75 0 1 0 3.5 0a1.75 1.75 0 1 0 -3.5 0zM627.93 163a1.75 1.75 0 1 0 3.5 0a1.75 1.75 0 1 0 -3.5 0zM631.47 163.3a1.75 1.75 0 1 0 3.5 0a1.75 1.75 0 1 0 -3.5 0zM634.44 162.38a1.75 1.75 0 1 0 3.5 0a1.75 1.75 0 1 0 -3.5 0zM637.4 162.13a1.75 1.75 0 1 0 3.5 0a1.75 1.75 0 1 0 -3.5 0zM640.37 163.3a1.75 1.75 0 1 0 3.5 0a1.75 1.75 0 1 0 -3.5 0zM643.34 160.59a1.75 1.75 0 1 0 3.5 0a1.75 1.75 0 1 0 -3.5 0zM646.3 156.44a1.75 1.75 0 1 0 3.5 0a1.75 1.75 0 1 0 -3.5 0zM648.67 159.06a1.75 1.75 0 1 0 3.5 0a1.75 1.75 0 1 0 -3.5 0zM651.64 158.8a1.75 1.75 0 1 0 3.5 0a1.75 1.75 0 1 0 -3.5 0zM654.61 158.8a1.75 1.75 0 1 0 3.5 0a1.75 1.75 0 1 0 -3.5 0zM658.17 160.95a1.75 1.75 0 1 0 3.5 0a1.75 1.75 0 1 0 -3.5 0zM659.94 161.77a1.75 1.75 0 1 0 3.5 0a1.75 1.75 0 1 0 -3.5 0zM662.91 164.53a1.75 1.75 0 1 0 3.5 0a1.75 1.75 0 1 0 -3.5 0zM665.87 165.92a1.75 1.75 0 1 0 3.5 0a1.75 1.75 0 1 0 -3.5 0zM669.44 164.99a1.75 1.75 0 1 0 3.5 0a1.75 1.75 0 1 0 -3.5 0zM672.41 164.99a1.75 1.75 0 1 0 3.5 0a1.75 1.75 0 1 0 -3.5 0zM675.37 165.92a1.75 1.75 0 1 0 3.5 0a1.75 1.75 0 1 0 -3.5 0zM678.34 165.92a1.75 1.75 0 1 0 3.5 0a1.75 1.75 0 1 0 -3.5 0zM681.31 164.74a1.75 1.75 0 1 0 3.5 0a1.75 1.75 0 1 0 -3.5 0zM684.28 163.82a1.75 1.75 0 1 0 3.5 0a1.75 1.75 0 1 0 -3.5 0zM687.24 164.53a1.75 1.75 0 1 0 3.5 0a1.75 1.75 0 1 0 -3.5 0zM690.21 164.99a1.75 1.75 0 1 0 3.5 0a1.75 1.75 0 1 0 -3.5 0zM693.18 164.74a1.75 1.75 0 1 0 3.5 0a1.75 1.75 0 1 0 -3.5 0zM696.14 164.18a1.75 1.75 0 1 0 3.5 0a1.75 1.75 0 1 0 -3.5 0zM699.11 165.92a1.75 1.75 0 1 0 3.5 0a1.75 1.75 0 1 0 -3.5 0zM702.08 164.74a1.75 1.75 0 1 0 3.5 0a1.75 1.75 0 1 0 -3.5 0zM705.04 163a1.75 1.75 0 1 0 3.5 0a1.75 1.75 0 1 0 -3.5 0zM708.01 161.77a1.75 1.75 0 1 0 3.5 0a1.75 1.75 0 1 0 -3.5 0zM710.98 161.77a1.75 1.75 0 1 0 3.5 0a1.75 1.75 0 1 0 -3.5 0zM713.95 161.77a1.75 1.75 0 1 0 3.5 0a1.75 1.75 0 1 0 -3.5 0zM716.91 164.18a1.75 1.75 0 1 0 3.5 0a1.75 1.75 0 1 0 -3.5 0zM719.88 161.21a1.75 1.75 0 1 0 3.5 0a1.75 1.75 0 1 0 -3.5 0zM722.85 161.77a1.75 1.75 0 1 0 3.5 0a1.75 1.75 0 1 0 -3.5 0zM726.41 162.38a1.75 1.75 0 1 0 3.5 0a1.75 1.75 0 1 0 -3.5 0zM729.38 163.3a1.75 1.75 0 1 0 3.5 0a1.75 1.75 0 1 0 -3.5 0zM732.35 164.99a1.75 1.75 0 1 0 3.5 0a1.75 1.75 0 1 0 -3.5 0zM735.31 165.92a1.75 1.75 0 1 0 3.5 0a1.75 1.75 0 1 0 -3.5 0zM738.28 162.13a1.75 1.75 0 1 0 3.5 0a1.75 1.75 0 1 0 -3.5 0z" fill="#0000a8"/>
<polyline points="82.1,399.9 83.3,341.02 87.19,298.52 90.49,267.29 92.59,231.45 96.79,199.2 99.48,179.74 102.69,165.46 105.84,156.5 109.01,149.12 112.16,143.34 114.8,139.65 117.97,135.96 121.12,132.79 124.3,129.1 126.94,124.85 129.57,121.17 132.75,113.79 134.85,109.6 137.48,108.52 141.17,105.86 143.81,102.17 146.99,105.35 150.13,110.62 152.77,114.87 155.95,124.34 159.09,128.54 162.27,128.03 164.91,125.93 168.05,119.58 171.23,114.31 174.41,108.01 177.04,104.32 180.19,99.56 183.37,93.78 186.52,88.5 189.69,86.35 192.33,84.25 195.48,86.35 198.65,88.5 201.29,89.53 204.47,91.11 207.61,89.01 210.79,83.74 213.43,80.05 216.07,79.49 219.21,80.57 221.34,71.09 224.49,93.78 227.12,120.14 230.3,144.92 233.99,135.4 236.63,154.91 239.26,150.71 243.4,147.54 246.37,145.18 248.73,141.03 251.7,136.27 255.27,132.74 258.8,127.72 260,125.37 262.97,123.83 265.94,123.22 269.5,121.42 272.47,121.06 276.04,120.6 279.57,121.06 283.14,121.78 286.71,122.65 290.27,122.65 293.24,119.68 296.78,119.68 300.34,121.06 303.31,120.86 306.88,119.43 310.44,118.45 313.98,118.25 316.94,117.28 320.51,118.25 324.08,118.25 326.45,117.28 329.41,118.45 332.38,119.68 335.35,116.35 338.91,118.25 342.48,119.07 346.02,122.65 348.98,120.25 351.95,118.71 355.52,121.06 358.48,122.65 362.05,122.65 365.62,123.22 369.15,123.83 372.72,123.83 376.29,124.65 379.25,122.29 382.82,124.39 385.79,123.47 389.35,122.29 392.29,124.65 395.86,125.01 399.42,125.37 401.79,125.93 405,125.01 405.69,124.39 409.25,126.18 412.79,126.18 416.36,127.98 419.92,128.9 423.49,128.9 426.46,126.18 429.42,120.6 432.96,126.18 435.93,129.77 438.89,127.72 441.86,130.33 444.83,136.02 448.39,137.45 451.96,138.06 454.33,141.03 457.89,140.78 461.46,141.6 465,142.21 467.39,142.21 469.76,145.74 473.3,146.97 476.86,148.35 480.43,148.35 483.4,146.36 486.96,145.54 489.93,145.74 492.9,144.82 495.87,143.39 498.83,142.21 501.8,142.21 504.77,139.86 507.73,142.21 510.7,143.39 513.67,146.97 517.2,147.89 520.17,148.71 523.74,148.15 527.3,148.15 530.27,149.33 533.24,149.94 536.8,148.71 540.34,148.71 543.91,149.33 547.47,149.94 551.04,149.94 554.58,149.58 558.14,148.71 561.11,148.35 564.68,149.33 568.24,149.94 570.61,144.57 574.99,141.03 576.28,141.24 579.24,143.13 582.21,145.74 584.58,147.54 586.94,153.47 589.91,150.76 593.48,152.66 597.04,152.3 600.61,151.48 604.15,151.94 607.11,154.09 610.68,154.65 614.25,154.29 617.81,154.65 620.78,155.27 623.75,156.19 626.71,155.27 629.68,155.83 633.22,155.27 636.19,155.83 639.15,154.09 642.12,153.83 645.69,152.91 648.05,150.76 650.42,154.65 653.39,151.48 656.95,152.3 659.92,153.83 661.69,157.62 665.26,156.7 668.82,156.7 672.39,156.7 675.96,156.7 679.49,156.7 682.46,157.42 686.03,156.7 689.59,157.42 692.56,157.62 694.93,160.03 697.89,159.41 701.46,159.41 704.43,159.06 706.79,158.24 709.76,158.8 712.73,159.41 715.7,158.59 719.26,158.59 722.23,154.09 725.2,156.44 728.73,157.06 732.3,158.24 735.87,158.59 737.63,160.95 740.03,157.42" fill="none" stroke="#10104a" stroke-width="1.1" stroke-linejoin="round"/>
<path d="M80 397.8h4.2v4.2h-4.2zM81.2 338.92h4.2v4.2h-4.2zM85.09 296.42h4.2v4.2h-4.2zM88.39 265.19h4.2v4.2h-4.2zM90.49 229.35h4.2v4.2h-4.2zM94.69 197.1h4.2v4.2h-4.2zM97.38 177.64h4.2v4.2h-4.2zM100.59 163.36h4.2v4.2h-4.2zM103.74 154.4h4.2v4.2h-4.2zM106.91 147.02h4.2v4.2h-4.2zM110.06 141.24h4.2v4.2h-4.2zM112.7 137.55h4.2v4.2h-4.2zM115.87 133.86h4.2v4.2h-4.2zM119.02 130.69h4.2v4.2h-4.2zM122.2 127h4.2v4.2h-4.2zM124.84 122.75h4.2v4.2h-4.2zM127.47 119.07h4.2v4.2h-4.2zM130.65 111.69h4.2v4.2h-4.2zM132.75 107.5h4.2v4.2h-4.2zM135.38 106.42h4.2v4.2h-4.2zM139.07 103.76h4.2v4.2h-4.2zM141.71 100.07h4.2v4.2h-4.2zM144.89 103.25h4.2v4.2h-4.2zM148.03 108.52h4.2v4.2h-4.2zM150.67 112.77h4.2v4.2h-4.2zM153.85 122.24h4.2v4.2h-4.2zM156.99 126.44h4.2v4.2h-4.2zM160.17 125.93h4.2v4.2h-4.2zM162.81 123.83h4.2v4.2h-4.2zM165.95 117.48h4.2v4.2h-4.2zM169.13 112.21h4.2v4.2h-4.2zM172.31 105.91h4.2v4.2h-4.2zM174.94 102.22h4.2v4.2h-4.2zM178.09 97.46h4.2v4.2h-4.2zM181.27 91.68h4.2v4.2h-4.2zM184.42 86.4h4.2v4.2h-4.2zM187.59 84.25h4.2v4.2h-4.2zM190.23 82.15h4.2v4.2h-4.2zM193.38 84.25h4.2v4.2h-4.2zM196.55 86.4h4.2v4.2h-4.2zM199.19 87.43h4.2v4.2h-4.2zM202.37 89.01h4.2v4.2h-4.2zM205.51 86.91h4.2v4.2h-4.2zM208.69 81.64h4.2v4.2h-4.2zM211.33 77.95h4.2v4.2h-4.2zM213.97 77.39h4.2v4.2h-4.2zM217.11 78.47h4.2v4.2h-4.2zM219.24 68.99h4.2v4.2h-4.2zM222.39 91.68h4.2v4.2h-4.2zM225.02 118.04h4.2v4.2h-4.2zM228.2 142.82h4.2v4.2h-4.2zM231.89 133.3h4.2v4.2h-4.2zM234.53 152.81h4.2v4.2h-4.2zM237.16 148.61h4.2v4.2h-4.2zM241.3 145.44h4.2v4.2h-4.2zM244.27 143.08h4.2v4.2h-4.2zM246.63 138.93h4.2v4.2h-4.2zM249.6 134.17h4.2v4.2h-4.2zM253.17 130.64h4.2v4.2h-4.2zM256.7 125.62h4.2v4.2h-4.2zM257.9 123.27h4.2v4.2h-4.2zM260.87 121.73h4.2v4.2h-4.2zM263.84 121.12h4.2v4.2h-4.2zM267.4 119.32h4.2v4.2h-4.2zM270.37 118.96h4.2v4.2h-4.2zM273.94 118.5h4.2v4.2h-4.2zM277.47 118.96h4.2v4.2h-4.2zM281.04 119.68h4.2v4.2h-4.2zM284.61 120.55h4.2v4.2h-4.2zM288.17 120.55h4.2v4.2h-4.2zM291.14 117.58h4.2v4.2h-4.2zM294.68 117.58h4.2v4.2h-4.2zM298.24 118.96h4.2v4.2h-4.2zM301.21 118.76h4.2v4.2h-4.2zM304.77 117.33h4.2v4.2h-4.2zM308.34 116.35h4.2v4.2h-4.2zM311.88 116.15h4.2v4.2h-4.2zM314.84 115.18h4.2v4.2h-4.2zM318.41 116.15h4.2v4.2h-4.2zM321.98 116.15h4.2v4.2h-4.2zM324.35 115.18h4.2v4.2h-4.2zM327.31 116.35h4.2v4.2h-4.2zM330.28 117.58h4.2v4.2h-4.2zM333.25 114.25h4.2v4.2h-4.2zM336.81 116.15h4.2v4.2h-4.2zM340.38 116.97h4.2v4.2h-4.2zM343.92 120.55h4.2v4.2h-4.2zM346.88 118.15h4.2v4.2h-4.2zM349.85 116.61h4.2v4.2h-4.2zM353.42 118.96h4.2v4.2h-4.2zM356.38 120.55h4.2v4.2h-4.2zM359.95 120.55h4.2v4.2h-4.2zM363.52 121.12h4.2v4.2h-4.2zM367.05 121.73h4.2v4.2h-4.2zM370.62 121.73h4.2v4.2h-4.2zM374.19 122.55h4.2v4.2h-4.2zM377.15 120.19h4.2v4.2h-4.2zM380.72 122.29h4.2v4.2h-4.2zM383.69 121.37h4.2v4.2h-4.2zM387.25 120.19h4.2v4.2h-4.2zM390.19 122.55h4.2v4.2h-4.2zM393.76 122.91h4.2v4.2h-4.2zM397.32 123.27h4.2v4.2h-4.2zM399.69 123.83h4.2v4.2h-4.2zM402.9 122.91h4.2v4.2h-4.2zM403.59 122.29h4.2v4.2h-4.2zM407.15 124.08h4.2v4.2h-4.2zM410.69 124.08h4.2v4.2h-4.2zM414.26 125.88h4.2v4.2h-4.2zM417.82 126.8h4.2v4.2h-4.2zM421.39 126.8h4.2v4.2h-4.2zM424.36 124.08h4.2v4.2h-4.2zM427.32 118.5h4.2v4.2h-4.2zM430.86 124.08h4.2v4.2h-4.2zM433.83 127.67h4.2v4.2h-4.2zM436.79 125.62h4.2v4.2h-4.2zM439.76 128.23h4.2v4.2h-4.2zM442.73 133.92h4.2v4.2h-4.2zM446.29 135.35h4.2v4.2h-4.2zM449.86 135.96h4.2v4.2h-4.2zM452.23 138.93h4.2v4.2h-4.2zM455.79 138.68h4.2v4.2h-4.2zM459.36 139.5h4.2v4.2h-4.2zM462.9 140.11h4.2v4.2h-4.2zM465.29 140.11h4.2v4.2h-4.2zM467.66 143.64h4.2v4.2h-4.2zM471.2 144.87h4.2v4.2h-4.2zM474.76 146.25h4.2v4.2h-4.2zM478.33 146.25h4.2v4.2h-4.2zM481.3 144.26h4.2v4.2h-4.2zM484.86 143.44h4.2v4.2h-4.2zM487.83 143.64h4.2v4.2h-4.2zM490.8 142.72h4.2v4.2h-4.2zM493.77 141.29h4.2v4.2h-4.2zM496.73 140.11h4.2v4.2h-4.2zM499.7 140.11h4.2v4.2h-4.2zM502.67 137.76h4.2v4.2h-4.2zM505.63 140.11h4.2v4.2h-4.2zM508.6 141.29h4.2v4.2h-4.2zM511.57 144.87h4.2v4.2h-4.2zM515.1 145.79h4.2v4.2h-4.2zM518.07 146.61h4.2v4.2h-4.2zM521.64 146.05h4.2v4.2h-4.2zM525.2 146.05h4.2v4.2h-4.2zM528.17 147.23h4.2v4.2h-4.2zM531.14 147.84h4.2v4.2h-4.2zM534.7 146.61h4.2v4.2h-4.2zM538.24 146.61h4.2v4.2h-4.2zM541.81 147.23h4.2v4.2h-4.2zM545.37 147.84h4.2v4.2h-4.2zM548.94 147.84h4.2v4.2h-4.2zM552.48 147.48h4.2v4.2h-4.2zM556.04 146.61h4.2v4.2h-4.2zM559.01 146.25h4.2v4.2h-4.2zM562.58 147.23h4.2v4.2h-4.2zM566.14 147.84h4.2v4.2h-4.2zM568.51 142.47h4.2v4.2h-4.2zM572.89 138.93h4.2v4.2h-4.2zM574.18 139.14h4.2v4.2h-4.2zM577.14 141.03h4.2v4.2h-4.2zM580.11 143.64h4.2v4.2h-4.2zM582.48 145.44h4.2v4.2h-4.2zM584.84 151.37h4.2v4.2h-4.2zM587.81 148.66h4.2v4.2h-4.2zM591.38 150.56h4.2v4.2h-4.2zM594.94 150.2h4.2v4.2h-4.2zM598.51 149.38h4.2v4.2h-4.2zM602.05 149.84h4.2v4.2h-4.2zM605.01 151.99h4.2v4.2h-4.2zM608.58 152.55h4.2v4.2h-4.2zM612.15 152.19h4.2v4.2h-4.2zM615.71 152.55h4.2v4.2h-4.2zM618.68 153.17h4.2v4.2h-4.2zM621.65 154.09h4.2v4.2h-4.2zM624.61 153.17h4.2v4.2h-4.2zM627.58 153.73h4.2v4.2h-4.2zM631.12 153.17h4.2v4.2h-4.2zM634.09 153.73h4.2v4.2h-4.2zM637.05 151.99h4.2v4.2h-4.2zM640.02 151.73h4.2v4.2h-4.2zM643.59 150.81h4.2v4.2h-4.2zM645.95 148.66h4.2v4.2h-4.2zM648.32 152.55h4.2v4.2h-4.2zM651.29 149.38h4.2v4.2h-4.2zM654.85 150.2h4.2v4.2h-4.2zM657.82 151.73h4.2v4.2h-4.2zM659.59 155.52h4.2v4.2h-4.2zM663.16 154.6h4.2v4.2h-4.2zM666.72 154.6h4.2v4.2h-4.2zM670.29 154.6h4.2v4.2h-4.2zM673.86 154.6h4.2v4.2h-4.2zM677.39 154.6h4.2v4.2h-4.2zM680.36 155.32h4.2v4.2h-4.2zM683.93 154.6h4.2v4.2h-4.2zM687.49 155.32h4.2v4.2h-4.2zM690.46 155.52h4.2v4.2h-4.2zM692.83 157.93h4.2v4.2h-4.2zM695.79 157.31h4.2v4.2h-4.2zM699.36 157.31h4.2v4.2h-4.2zM702.33 156.96h4.2v4.2h-4.2zM704.69 156.14h4.2v4.2h-4.2zM707.66 156.7h4.2v4.2h-4.2zM710.63 157.31h4.2v4.2h-4.2zM713.6 156.49h4.2v4.2h-4.2zM717.16 156.49h4.2v4.2h-4.2zM720.13 151.99h4.2v4.2h-4.2zM723.1 154.34h4.2v4.2h-4.2zM726.63 154.96h4.2v4.2h-4.2zM730.2 156.14h4.2v4.2h-4.2zM733.77 156.49h4.2v4.2h-4.2zM735.53 158.85h4.2v4.2h-4.2zM737.93 155.32h4.2v4.2h-4.2z" fill="#000030"/>
<path d="M220.35 29.75V56.49" stroke="#1a4278" stroke-width="4.3" fill="none"/><path d="M212.69 43.19L220.35 56.49L228.01 43.19" stroke="#1a4278" stroke-width="4.4" fill="none" stroke-linejoin="miter" stroke-miterlimit="20" stroke-linecap="butt"/>
<path d="M884.8 349.4H1538.7M884.8 298.4H1538.7M884.8 247.4H1538.7M884.8 196.4H1538.7M884.8 145.4H1538.7M884.8 94.4H1538.7M884.8 43.4H1538.7M1034.1 37.9V400.4M1183.4 37.9V400.4M1332.7 37.9V400.4M1482 37.9V400.4" stroke="#989898" stroke-width="1.5" stroke-dasharray="1.6 1.56" fill="none"/>
<path d="M899.73 400.4v-3.3M914.66 400.4v-3.3M929.59 400.4v-3.3M944.52 400.4v-3.3M959.45 400.4v-3.3M974.38 400.4v-3.3M989.31 400.4v-3.3M1004.24 400.4v-3.3M1019.17 400.4v-3.3M1034.1 400.4v-6.6M1049.03 400.4v-3.3M1063.96 400.4v-3.3M1078.89 400.4v-3.3M1093.82 400.4v-3.3M1108.75 400.4v-3.3M1123.68 400.4v-3.3M1138.61 400.4v-3.3M1153.54 400.4v-3.3M1168.47 400.4v-3.3M1183.4 400.4v-6.6M1198.33 400.4v-3.3M1213.26 400.4v-3.3M1228.19 400.4v-3.3M1243.12 400.4v-3.3M1258.05 400.4v-3.3M1272.98 400.4v-3.3M1287.91 400.4v-3.3M1302.84 400.4v-3.3M1317.77 400.4v-3.3M1332.7 400.4v-6.6M1347.63 400.4v-3.3M1362.56 400.4v-3.3M1377.49 400.4v-3.3M1392.42 400.4v-3.3M1407.35 400.4v-3.3M1422.28 400.4v-3.3M1437.21 400.4v-3.3M1452.14 400.4v-3.3M1467.07 400.4v-3.3M1482 400.4v-6.6M1496.93 400.4v-3.3M1511.86 400.4v-3.3M1526.79 400.4v-3.3M884.8 395.3h3.5M884.8 390.2h3.5M884.8 385.1h3.5M884.8 380h3.5M884.8 374.9h6.4M884.8 369.8h3.5M884.8 364.7h3.5M884.8 359.6h3.5M884.8 354.5h3.5M884.8 349.4h9.5M884.8 344.3h3.5M884.8 339.2h3.5M884.8 334.1h3.5M884.8 329h3.5M884.8 323.9h6.4M884.8 318.8h3.5M884.8 313.7h3.5M884.8 308.6h3.5M884.8 303.5h3.5M884.8 298.4h9.5M884.8 293.3h3.5M884.8 288.2h3.5M884.8 283.1h3.5M884.8 278h3.5M884.8 272.9h6.4M884.8 267.8h3.5M884.8 262.7h3.5M884.8 257.6h3.5M884.8 252.5h3.5M884.8 247.4h9.5M884.8 242.3h3.5M884.8 237.2h3.5M884.8 232.1h3.5M884.8 227h3.5M884.8 221.9h6.4M884.8 216.8h3.5M884.8 211.7h3.5M884.8 206.6h3.5M884.8 201.5h3.5M884.8 196.4h9.5M884.8 191.3h3.5M884.8 186.2h3.5M884.8 181.1h3.5M884.8 176h3.5M884.8 170.9h6.4M884.8 165.8h3.5M884.8 160.7h3.5M884.8 155.6h3.5M884.8 150.5h3.5M884.8 145.4h9.5M884.8 140.3h3.5M884.8 135.2h3.5M884.8 130.1h3.5M884.8 125h3.5M884.8 119.9h6.4M884.8 114.8h3.5M884.8 109.7h3.5M884.8 104.6h3.5M884.8 99.5h3.5M884.8 94.4h9.5M884.8 89.3h3.5M884.8 84.2h3.5M884.8 79.1h3.5M884.8 74h3.5M884.8 68.9h6.4M884.8 63.8h3.5M884.8 58.7h3.5M884.8 53.6h3.5M884.8 48.5h3.5M884.8 43.4h9.5M897.88 28.9v3.3M910.96 28.9v3.3M924.03 28.9v3.3M937.11 28.9v3.3M950.19 28.9v3.3M963.27 28.9v3.3M976.35 28.9v3.3M989.42 28.9v3.3M1002.5 28.9v3.3M1015.58 28.9v6.6M1028.66 28.9v3.3M1041.74 28.9v3.3M1054.81 28.9v3.3M1067.89 28.9v3.3M1080.97 28.9v3.3M1094.05 28.9v3.3M1107.13 28.9v3.3M1120.2 28.9v3.3M1133.28 28.9v3.3M1146.36 28.9v6.6M1159.44 28.9v3.3M1172.52 28.9v3.3M1185.59 28.9v3.3M1198.67 28.9v3.3M1211.75 28.9v3.3M1224.83 28.9v3.3M1237.91 28.9v3.3M1250.98 28.9v3.3M1264.06 28.9v3.3M1277.14 28.9v6.6M1290.22 28.9v3.3M1303.3 28.9v3.3M1316.37 28.9v3.3M1329.45 28.9v3.3M1342.53 28.9v3.3M1355.61 28.9v3.3M1368.69 28.9v3.3M1381.76 28.9v3.3M1394.84 28.9v3.3M1407.92 28.9v6.6M1421 28.9v3.3M1434.08 28.9v3.3M1447.15 28.9v3.3M1460.23 28.9v3.3M1473.31 28.9v3.3M1486.39 28.9v3.3M1499.47 28.9v3.3M1512.54 28.9v3.3M1525.62 28.9v3.3" stroke="#3a3a3a" stroke-width="1.2" fill="none"/>
<rect x="884.8" y="28.9" width="653.9" height="371.5" fill="none" stroke="#3c3c3c" stroke-width="1.4"/>
<polyline points="884.8,400.4 886.29,342.26 889.58,292.28 893.16,254.54 895.55,219.35 899.73,187.73 901.1,165.85 904.78,149.53 907.94,138 911.08,131.68 914.24,125.92 917.38,121.74 920,114.9 923.17,110.67 926.31,107 928.93,101.74 932.1,96.49 935.26,92.31 937.35,89.35 940.52,88.64 943.65,86.19 946.28,83.69 949.45,91.24 952.58,98.07 955.21,103.32 958.38,112.25 961.51,121.18 964.68,122.76 966.77,119.08 969.93,115.41 973.07,111.23 976.23,102.25 978.86,96.49 981.49,92.82 984.65,92.31 987.79,90.22 990.95,87.57 994.09,87.06 997.25,88.64 1000.39,89.15 1003.55,89.35 1006.72,87.57 1009.85,86.49 1013.02,85.47 1016.15,84.4 1019.32,82.82 1023.05,75.02 1025.74,139.79 1028.43,169.88 1029.62,204.05 1032.01,225.47 1035.59,235.67 1037.98,260.66 1041.42,260.61 1044.76,261.48 1048.94,260.61 1053.12,258.11 1056.47,256.43 1060.68,255.61 1064.86,254.44 1069.04,253.93 1073.22,252.24 1076.56,249.39 1079.94,249.39 1083.28,245.05 1087.46,243.37 1091.64,241.02 1094.98,241.38 1098.33,238.88 1100.87,239.7 1104.21,237.2 1107.56,237.71 1110.9,236.33 1115.08,236.33 1119.26,236.33 1122.63,236.33 1125.98,234.7 1129.32,236.03 1133.5,236.33 1136.85,236.33 1139.36,234.7 1142.73,236.33 1146.91,236.33 1151.09,234.7 1154.44,237.2 1159.45,237.2 1162.8,238.02 1165.33,235.52 1169.52,237.2 1172.86,238.02 1177.04,237.71 1180.38,239.34 1183.73,240.51 1187.1,239.34 1190.45,241.02 1194.63,241.38 1198.81,242.71 1202.99,243.88 1207.2,244.39 1211.38,245.56 1215.56,246.38 1219.74,246.74 1222.25,249.39 1226.43,248.93 1230.64,246.74 1234.82,248.93 1238.16,249.75 1241.51,251.07 1245.69,252.75 1249.06,251.07 1252.41,254.44 1255.75,256.43 1259.93,256.43 1264.11,255.61 1268.29,258.11 1271.67,259.44 1275.85,260.61 1280.03,261.12 1284.66,261.53 1288.93,262.75 1293.2,262.24 1296.6,263.26 1300,261.02 1303.44,262.75 1307.71,263.57 1311.11,263.57 1314.52,266.17 1317.92,268.36 1322.19,268.72 1326.46,269.02 1330.73,269.53 1334.13,269.53 1337.57,271.27 1340.97,270.04 1344.38,271.78 1348.65,272.13 1351.21,271.78 1354.62,270.76 1358.05,271.78 1361.46,272.44 1364.86,272.95 1368.29,273.46 1371.7,272.13 1374.27,273.46 1376.8,271.27 1380.24,272.44 1383.64,274.69 1387.91,277.23 1391.32,276.37 1396.45,275.19 1399.86,276.37 1403.26,276.88 1406.69,276.88 1410.1,278.1 1413.5,278.61 1417.77,280.29 1421.18,279.27 1426.31,279.27 1431.42,279.27 1434.85,280.29 1439.96,280.29 1445.09,280.29 1448.5,278.92 1451.9,280.29 1455.34,281.01 1459.61,282.03 1463.01,282.69 1467.28,282.69 1471.55,280.65 1476.66,279.78 1480.93,281.01 1485.2,281.01 1488.6,282.69 1492.87,281.01 1497.14,281.01 1501.41,281.01 1504.81,282.03 1508.22,281.01 1513.35,281.01 1518.46,281.01 1523.59,281.01 1527.86,281.01 1531.27,282.03 1535.54,282.03 1539.81,282.03" fill="none" stroke="#3a3aff" stroke-width="1.1" stroke-linejoin="round"/>
<path d="M883.05 400.4a1.75 1.75 0 1 0 3.5 0a1.75 1.75 0 1 0 -3.5 0zM884.54 342.26a1.75 1.75 0 1 0 3.5 0a1.75 1.75 0 1 0 -3.5 0zM887.83 292.28a1.75 1.75 0 1 0 3.5 0a1.75 1.75 0 1 0 -3.5 0zM891.41 254.54a1.75 1.75 0 1 0 3.5 0a1.75 1.75 0 1 0 -3.5 0zM893.8 219.35a1.75 1.75 0 1 0 3.5 0a1.75 1.75 0 1 0 -3.5 0zM897.98 187.73a1.75 1.75 0 1 0 3.5 0a1.75 1.75 0 1 0 -3.5 0zM899.35 165.85a1.75 1.75 0 1 0 3.5 0a1.75 1.75 0 1 0 -3.5 0zM903.03 149.53a1.75 1.75 0 1 0 3.5 0a1.75 1.75 0 1 0 -3.5 0zM906.19 138a1.75 1.75 0 1 0 3.5 0a1.75 1.75 0 1 0 -3.5 0zM909.33 131.68a1.75 1.75 0 1 0 3.5 0a1.75 1.75 0 1 0 -3.5 0zM912.49 125.92a1.75 1.75 0 1 0 3.5 0a1.75 1.75 0 1 0 -3.5 0zM915.63 121.74a1.75 1.75 0 1 0 3.5 0a1.75 1.75 0 1 0 -3.5 0zM918.25 114.9a1.75 1.75 0 1 0 3.5 0a1.75 1.75 0 1 0 -3.5 0zM921.42 110.67a1.75 1.75 0 1 0 3.5 0a1.75 1.75 0 1 0 -3.5 0zM924.56 107a1.75 1.75 0 1 0 3.5 0a1.75 1.75 0 1 0 -3.5 0zM927.18 101.74a1.75 1.75 0 1 0 3.5 0a1.75 1.75 0 1 0 -3.5 0zM930.35 96.49a1.75 1.75 0 1 0 3.5 0a1.75 1.75 0 1 0 -3.5 0zM933.51 92.31a1.75 1.75 0 1 0 3.5 0a1.75 1.75 0 1 0 -3.5 0zM935.6 89.35a1.75 1.75 0 1 0 3.5 0a1.75 1.75 0 1 0 -3.5 0zM938.77 88.64a1.75 1.75 0 1 0 3.5 0a1.75 1.75 0 1 0 -3.5 0zM941.9 86.19a1.75 1.75 0 1 0 3.5 0a1.75 1.75 0 1 0 -3.5 0zM944.53 83.69a1.75 1.75 0 1 0 3.5 0a1.75 1.75 0 1 0 -3.5 0zM947.7 91.24a1.75 1.75 0 1 0 3.5 0a1.75 1.75 0 1 0 -3.5 0zM950.83 98.07a1.75 1.75 0 1 0 3.5 0a1.75 1.75 0 1 0 -3.5 0zM953.46 103.32a1.75 1.75 0 1 0 3.5 0a1.75 1.75 0 1 0 -3.5 0zM956.63 112.25a1.75 1.75 0 1 0 3.5 0a1.75 1.75 0 1 0 -3.5 0zM959.76 121.18a1.75 1.75 0 1 0 3.5 0a1.75 1.75 0 1 0 -3.5 0zM962.93 122.76a1.75 1.75 0 1 0 3.5 0a1.75 1.75 0 1 0 -3.5 0zM965.02 119.08a1.75 1.75 0 1 0 3.5 0a1.75 1.75 0 1 0 -3.5 0zM968.18 115.41a1.75 1.75 0 1 0 3.5 0a1.75 1.75 0 1 0 -3.5 0zM971.32 111.23a1.75 1.75 0 1 0 3.5 0a1.75 1.75 0 1 0 -3.5 0zM974.48 102.25a1.75 1.75 0 1 0 3.5 0a1.75 1.75 0 1 0 -3.5 0zM977.11 96.49a1.75 1.75 0 1 0 3.5 0a1.75 1.75 0 1 0 -3.5 0zM979.74 92.82a1.75 1.75 0 1 0 3.5 0a1.75 1.75 0 1 0 -3.5 0zM982.9 92.31a1.75 1.75 0 1 0 3.5 0a1.75 1.75 0 1 0 -3.5 0zM986.04 90.22a1.75 1.75 0 1 0 3.5 0a1.75 1.75 0 1 0 -3.5 0zM989.2 87.57a1.75 1.75 0 1 0 3.5 0a1.75 1.75 0 1 0 -3.5 0zM992.34 87.06a1.75 1.75 0 1 0 3.5 0a1.75 1.75 0 1 0 -3.5 0zM995.5 88.64a1.75 1.75 0 1 0 3.5 0a1.75 1.75 0 1 0 -3.5 0zM998.64 89.15a1.75 1.75 0 1 0 3.5 0a1.75 1.75 0 1 0 -3.5 0zM1001.8 89.35a1.75 1.75 0 1 0 3.5 0a1.75 1.75 0 1 0 -3.5 0zM1004.97 87.57a1.75 1.75 0 1 0 3.5 0a1.75 1.75 0 1 0 -3.5 0zM1008.1 86.49a1.75 1.75 0 1 0 3.5 0a1.75 1.75 0 1 0 -3.5 0zM1011.27 85.47a1.75 1.75 0 1 0 3.5 0a1.75 1.75 0 1 0 -3.5 0zM1014.4 84.4a1.75 1.75 0 1 0 3.5 0a1.75 1.75 0 1 0 -3.5 0zM1017.57 82.82a1.75 1.75 0 1 0 3.5 0a1.75 1.75 0 1 0 -3.5 0zM1021.3 75.02a1.75 1.75 0 1 0 3.5 0a1.75 1.75 0 1 0 -3.5 0zM1023.99 139.79a1.75 1.75 0 1 0 3.5 0a1.75 1.75 0 1 0 -3.5 0zM1026.68 169.88a1.75 1.75 0 1 0 3.5 0a1.75 1.75 0 1 0 -3.5 0zM1027.87 204.05a1.75 1.75 0 1 0 3.5 0a1.75 1.75 0 1 0 -3.5 0zM1030.26 225.47a1.75 1.75 0 1 0 3.5 0a1.75 1.75 0 1 0 -3.5 0zM1033.84 235.67a1.75 1.75 0 1 0 3.5 0a1.75 1.75 0 1 0 -3.5 0zM1036.23 260.66a1.75 1.75 0 1 0 3.5 0a1.75 1.75 0 1 0 -3.5 0zM1039.67 260.61a1.75 1.75 0 1 0 3.5 0a1.75 1.75 0 1 0 -3.5 0zM1043.01 261.48a1.75 1.75 0 1 0 3.5 0a1.75 1.75 0 1 0 -3.5 0zM1047.19 260.61a1.75 1.75 0 1 0 3.5 0a1.75 1.75 0 1 0 -3.5 0zM1051.37 258.11a1.75 1.75 0 1 0 3.5 0a1.75 1.75 0 1 0 -3.5 0zM1054.72 256.43a1.75 1.75 0 1 0 3.5 0a1.75 1.75 0 1 0 -3.5 0zM1058.93 255.61a1.75 1.75 0 1 0 3.5 0a1.75 1.75 0 1 0 -3.5 0zM1063.11 254.44a1.75 1.75 0 1 0 3.5 0a1.75 1.75 0 1 0 -3.5 0zM1067.29 253.93a1.75 1.75 0 1 0 3.5 0a1.75 1.75 0 1 0 -3.5 0zM1071.47 252.24a1.75 1.75 0 1 0 3.5 0a1.75 1.75 0 1 0 -3.5 0zM1074.81 249.39a1.75 1.75 0 1 0 3.5 0a1.75 1.75 0 1 0 -3.5 0zM1078.19 249.39a1.75 1.75 0 1 0 3.5 0a1.75 1.75 0 1 0 -3.5 0zM1081.53 245.05a1.75 1.75 0 1 0 3.5 0a1.75 1.75 0 1 0 -3.5 0zM1085.71 243.37a1.75 1.75 0 1 0 3.5 0a1.75 1.75 0 1 0 -3.5 0zM1089.89 241.02a1.75 1.75 0 1 0 3.5 0a1.75 1.75 0 1 0 -3.5 0zM1093.23 241.38a1.75 1.75 0 1 0 3.5 0a1.75 1.75 0 1 0 -3.5 0zM1096.58 238.88a1.75 1.75 0 1 0 3.5 0a1.75 1.75 0 1 0 -3.5 0zM1099.12 239.7a1.75 1.75 0 1 0 3.5 0a1.75 1.75 0 1 0 -3.5 0zM1102.46 237.2a1.75 1.75 0 1 0 3.5 0a1.75 1.75 0 1 0 -3.5 0zM1105.81 237.71a1.75 1.75 0 1 0 3.5 0a1.75 1.75 0 1 0 -3.5 0zM1109.15 236.33a1.75 1.75 0 1 0 3.5 0a1.75 1.75 0 1 0 -3.5 0zM1113.33 236.33a1.75 1.75 0 1 0 3.5 0a1.75 1.75 0 1 0 -3.5 0zM1117.51 236.33a1.75 1.75 0 1 0 3.5 0a1.75 1.75 0 1 0 -3.5 0zM1120.88 236.33a1.75 1.75 0 1 0 3.5 0a1.75 1.75 0 1 0 -3.5 0zM1124.23 234.7a1.75 1.75 0 1 0 3.5 0a1.75 1.75 0 1 0 -3.5 0zM1127.57 236.03a1.75 1.75 0 1 0 3.5 0a1.75 1.75 0 1 0 -3.5 0zM1131.75 236.33a1.75 1.75 0 1 0 3.5 0a1.75 1.75 0 1 0 -3.5 0zM1135.1 236.33a1.75 1.75 0 1 0 3.5 0a1.75 1.75 0 1 0 -3.5 0zM1137.61 234.7a1.75 1.75 0 1 0 3.5 0a1.75 1.75 0 1 0 -3.5 0zM1140.98 236.33a1.75 1.75 0 1 0 3.5 0a1.75 1.75 0 1 0 -3.5 0zM1145.16 236.33a1.75 1.75 0 1 0 3.5 0a1.75 1.75 0 1 0 -3.5 0zM1149.34 234.7a1.75 1.75 0 1 0 3.5 0a1.75 1.75 0 1 0 -3.5 0zM1152.69 237.2a1.75 1.75 0 1 0 3.5 0a1.75 1.75 0 1 0 -3.5 0zM1155.19 237.2a1.75 1.75 0 1 0 3.5 0a1.75 1.75 0 1 0 -3.5 0zM1157.7 237.2a1.75 1.75 0 1 0 3.5 0a1.75 1.75 0 1 0 -3.5 0zM1161.05 238.02a1.75 1.75 0 1 0 3.5 0a1.75 1.75 0 1 0 -3.5 0zM1163.58 235.52a1.75 1.75 0 1 0 3.5 0a1.75 1.75 0 1 0 -3.5 0zM1167.77 237.2a1.75 1.75 0 1 0 3.5 0a1.75 1.75 0 1 0 -3.5 0zM1171.11 238.02a1.75 1.75 0 1 0 3.5 0a1.75 1.75 0 1 0 -3.5 0zM1175.29 237.71a1.75 1.75 0 1 0 3.5 0a1.75 1.75 0 1 0 -3.5 0zM1178.63 239.34a1.75 1.75 0 1 0 3.5 0a1.75 1.75 0 1 0 -3.5 0zM1181.98 240.51a1.75 1.75 0 1 0 3.5 0a1.75 1.75 0 1 0 -3.5 0zM1185.35 239.34a1.75 1.75 0 1 0 3.5 0a1.75 1.75 0 1 0 -3.5 0zM1188.7 241.02a1.75 1.75 0 1 0 3.5 0a1.75 1.75 0 1 0 -3.5 0zM1192.88 241.38a1.75 1.75 0 1 0 3.5 0a1.75 1.75 0 1 0 -3.5 0zM1197.06 242.71a1.75 1.75 0 1 0 3.5 0a1.75 1.75 0 1 0 -3.5 0zM1201.24 243.88a1.75 1.75 0 1 0 3.5 0a1.75 1.75 0 1 0 -3.5 0zM1205.45 244.39a1.75 1.75 0 1 0 3.5 0a1.75 1.75 0 1 0 -3.5 0zM1209.63 245.56a1.75 1.75 0 1 0 3.5 0a1.75 1.75 0 1 0 -3.5 0zM1213.81 246.38a1.75 1.75 0 1 0 3.5 0a1.75 1.75 0 1 0 -3.5 0zM1217.99 246.74a1.75 1.75 0 1 0 3.5 0a1.75 1.75 0 1 0 -3.5 0zM1220.5 249.39a1.75 1.75 0 1 0 3.5 0a1.75 1.75 0 1 0 -3.5 0zM1224.68 248.93a1.75 1.75 0 1 0 3.5 0a1.75 1.75 0 1 0 -3.5 0zM1228.89 246.74a1.75 1.75 0 1 0 3.5 0a1.75 1.75 0 1 0 -3.5 0zM1233.07 248.93a1.75 1.75 0 1 0 3.5 0a1.75 1.75 0 1 0 -3.5 0zM1236.41 249.75a1.75 1.75 0 1 0 3.5 0a1.75 1.75 0 1 0 -3.5 0zM1239.76 251.07a1.75 1.75 0 1 0 3.5 0a1.75 1.75 0 1 0 -3.5 0zM1243.94 252.75a1.75 1.75 0 1 0 3.5 0a1.75 1.75 0 1 0 -3.5 0zM1247.31 251.07a1.75 1.75 0 1 0 3.5 0a1.75 1.75 0 1 0 -3.5 0zM1250.66 254.44a1.75 1.75 0 1 0 3.5 0a1.75 1.75 0 1 0 -3.5 0zM1254 256.43a1.75 1.75 0 1 0 3.5 0a1.75 1.75 0 1 0 -3.5 0zM1258.18 256.43a1.75 1.75 0 1 0 3.5 0a1.75 1.75 0 1 0 -3.5 0zM1262.36 255.61a1.75 1.75 0 1 0 3.5 0a1.75 1.75 0 1 0 -3.5 0zM1266.54 258.11a1.75 1.75 0 1 0 3.5 0a1.75 1.75 0 1 0 -3.5 0zM1269.92 259.44a1.75 1.75 0 1 0 3.5 0a1.75 1.75 0 1 0 -3.5 0zM1274.1 260.61a1.75 1.75 0 1 0 3.5 0a1.75 1.75 0 1 0 -3.5 0zM1278.28 261.12a1.75 1.75 0 1 0 3.5 0a1.75 1.75 0 1 0 -3.5 0zM1280.59 261.32a1.75 1.75 0 1 0 3.5 0a1.75 1.75 0 1 0 -3.5 0zM1282.91 261.53a1.75 1.75 0 1 0 3.5 0a1.75 1.75 0 1 0 -3.5 0zM1287.18 262.75a1.75 1.75 0 1 0 3.5 0a1.75 1.75 0 1 0 -3.5 0zM1291.45 262.24a1.75 1.75 0 1 0 3.5 0a1.75 1.75 0 1 0 -3.5 0zM1294.85 263.26a1.75 1.75 0 1 0 3.5 0a1.75 1.75 0 1 0 -3.5 0zM1298.25 261.02a1.75 1.75 0 1 0 3.5 0a1.75 1.75 0 1 0 -3.5 0zM1301.69 262.75a1.75 1.75 0 1 0 3.5 0a1.75 1.75 0 1 0 -3.5 0zM1305.96 263.57a1.75 1.75 0 1 0 3.5 0a1.75 1.75 0 1 0 -3.5 0zM1309.36 263.57a1.75 1.75 0 1 0 3.5 0a1.75 1.75 0 1 0 -3.5 0zM1312.77 266.17a1.75 1.75 0 1 0 3.5 0a1.75 1.75 0 1 0 -3.5 0zM1316.17 268.36a1.75 1.75 0 1 0 3.5 0a1.75 1.75 0 1 0 -3.5 0zM1320.44 268.72a1.75 1.75 0 1 0 3.5 0a1.75 1.75 0 1 0 -3.5 0zM1324.71 269.02a1.75 1.75 0 1 0 3.5 0a1.75 1.75 0 1 0 -3.5 0zM1328.98 269.53a1.75 1.75 0 1 0 3.5 0a1.75 1.75 0 1 0 -3.5 0zM1332.38 269.53a1.75 1.75 0 1 0 3.5 0a1.75 1.75 0 1 0 -3.5 0zM1335.82 271.27a1.75 1.75 0 1 0 3.5 0a1.75 1.75 0 1 0 -3.5 0zM1339.22 270.04a1.75 1.75 0 1 0 3.5 0a1.75 1.75 0 1 0 -3.5 0zM1342.63 271.78a1.75 1.75 0 1 0 3.5 0a1.75 1.75 0 1 0 -3.5 0zM1346.9 272.13a1.75 1.75 0 1 0 3.5 0a1.75 1.75 0 1 0 -3.5 0zM1349.46 271.78a1.75 1.75 0 1 0 3.5 0a1.75 1.75 0 1 0 -3.5 0zM1352.87 270.76a1.75 1.75 0 1 0 3.5 0a1.75 1.75 0 1 0 -3.5 0zM1356.3 271.78a1.75 1.75 0 1 0 3.5 0a1.75 1.75 0 1 0 -3.5 0zM1359.71 272.44a1.75 1.75 0 1 0 3.5 0a1.75 1.75 0 1 0 -3.5 0zM1363.11 272.95a1.75 1.75 0 1 0 3.5 0a1.75 1.75 0 1 0 -3.5 0zM1366.54 273.46a1.75 1.75 0 1 0 3.5 0a1.75 1.75 0 1 0 -3.5 0zM1369.95 272.13a1.75 1.75 0 1 0 3.5 0a1.75 1.75 0 1 0 -3.5 0zM1372.52 273.46a1.75 1.75 0 1 0 3.5 0a1.75 1.75 0 1 0 -3.5 0zM1375.05 271.27a1.75 1.75 0 1 0 3.5 0a1.75 1.75 0 1 0 -3.5 0zM1378.49 272.44a1.75 1.75 0 1 0 3.5 0a1.75 1.75 0 1 0 -3.5 0zM1381.89 274.69a1.75 1.75 0 1 0 3.5 0a1.75 1.75 0 1 0 -3.5 0zM1386.16 277.23a1.75 1.75 0 1 0 3.5 0a1.75 1.75 0 1 0 -3.5 0zM1389.57 276.37a1.75 1.75 0 1 0 3.5 0a1.75 1.75 0 1 0 -3.5 0zM1392.13 275.78a1.75 1.75 0 1 0 3.5 0a1.75 1.75 0 1 0 -3.5 0zM1394.7 275.19a1.75 1.75 0 1 0 3.5 0a1.75 1.75 0 1 0 -3.5 0zM1398.11 276.37a1.75 1.75 0 1 0 3.5 0a1.75 1.75 0 1 0 -3.5 0zM1401.51 276.88a1.75 1.75 0 1 0 3.5 0a1.75 1.75 0 1 0 -3.5 0zM1404.94 276.88a1.75 1.75 0 1 0 3.5 0a1.75 1.75 0 1 0 -3.5 0zM1408.35 278.1a1.75 1.75 0 1 0 3.5 0a1.75 1.75 0 1 0 -3.5 0zM1411.75 278.61a1.75 1.75 0 1 0 3.5 0a1.75 1.75 0 1 0 -3.5 0zM1416.02 280.29a1.75 1.75 0 1 0 3.5 0a1.75 1.75 0 1 0 -3.5 0zM1419.43 279.27a1.75 1.75 0 1 0 3.5 0a1.75 1.75 0 1 0 -3.5 0zM1421.99 279.27a1.75 1.75 0 1 0 3.5 0a1.75 1.75 0 1 0 -3.5 0zM1424.56 279.27a1.75 1.75 0 1 0 3.5 0a1.75 1.75 0 1 0 -3.5 0zM1427.11 279.27a1.75 1.75 0 1 0 3.5 0a1.75 1.75 0 1 0 -3.5 0zM1429.67 279.27a1.75 1.75 0 1 0 3.5 0a1.75 1.75 0 1 0 -3.5 0zM1433.1 280.29a1.75 1.75 0 1 0 3.5 0a1.75 1.75 0 1 0 -3.5 0zM1435.65 280.29a1.75 1.75 0 1 0 3.5 0a1.75 1.75 0 1 0 -3.5 0zM1438.21 280.29a1.75 1.75 0 1 0 3.5 0a1.75 1.75 0 1 0 -3.5 0zM1440.78 280.29a1.75 1.75 0 1 0 3.5 0a1.75 1.75 0 1 0 -3.5 0zM1443.34 280.29a1.75 1.75 0 1 0 3.5 0a1.75 1.75 0 1 0 -3.5 0zM1446.75 278.92a1.75 1.75 0 1 0 3.5 0a1.75 1.75 0 1 0 -3.5 0zM1450.15 280.29a1.75 1.75 0 1 0 3.5 0a1.75 1.75 0 1 0 -3.5 0zM1453.59 281.01a1.75 1.75 0 1 0 3.5 0a1.75 1.75 0 1 0 -3.5 0zM1457.86 282.03a1.75 1.75 0 1 0 3.5 0a1.75 1.75 0 1 0 -3.5 0zM1461.26 282.69a1.75 1.75 0 1 0 3.5 0a1.75 1.75 0 1 0 -3.5 0zM1465.53 282.69a1.75 1.75 0 1 0 3.5 0a1.75 1.75 0 1 0 -3.5 0zM1469.8 280.65a1.75 1.75 0 1 0 3.5 0a1.75 1.75 0 1 0 -3.5 0zM1472.35 280.22a1.75 1.75 0 1 0 3.5 0a1.75 1.75 0 1 0 -3.5 0zM1474.91 279.78a1.75 1.75 0 1 0 3.5 0a1.75 1.75 0 1 0 -3.5 0zM1479.18 281.01a1.75 1.75 0 1 0 3.5 0a1.75 1.75 0 1 0 -3.5 0zM1483.45 281.01a1.75 1.75 0 1 0 3.5 0a1.75 1.75 0 1 0 -3.5 0zM1486.85 282.69a1.75 1.75 0 1 0 3.5 0a1.75 1.75 0 1 0 -3.5 0zM1491.12 281.01a1.75 1.75 0 1 0 3.5 0a1.75 1.75 0 1 0 -3.5 0zM1495.39 281.01a1.75 1.75 0 1 0 3.5 0a1.75 1.75 0 1 0 -3.5 0zM1499.66 281.01a1.75 1.75 0 1 0 3.5 0a1.75 1.75 0 1 0 -3.5 0zM1503.06 282.03a1.75 1.75 0 1 0 3.5 0a1.75 1.75 0 1 0 -3.5 0zM1506.47 281.01a1.75 1.75 0 1 0 3.5 0a1.75 1.75 0 1 0 -3.5 0zM1509.04 281.01a1.75 1.75 0 1 0 3.5 0a1.75 1.75 0 1 0 -3.5 0zM1511.6 281.01a1.75 1.75 0 1 0 3.5 0a1.75 1.75 0 1 0 -3.5 0zM1514.16 281.01a1.75 1.75 0 1 0 3.5 0a1.75 1.75 0 1 0 -3.5 0zM1516.71 281.01a1.75 1.75 0 1 0 3.5 0a1.75 1.75 0 1 0 -3.5 0zM1519.28 281.01a1.75 1.75 0 1 0 3.5 0a1.75 1.75 0 1 0 -3.5 0zM1521.84 281.01a1.75 1.75 0 1 0 3.5 0a1.75 1.75 0 1 0 -3.5 0zM1526.11 281.01a1.75 1.75 0 1 0 3.5 0a1.75 1.75 0 1 0 -3.5 0zM1529.52 282.03a1.75 1.75 0 1 0 3.5 0a1.75 1.75 0 1 0 -3.5 0zM1533.79 282.03a1.75 1.75 0 1 0 3.5 0a1.75 1.75 0 1 0 -3.5 0zM1538.06 282.03a1.75 1.75 0 1 0 3.5 0a1.75 1.75 0 1 0 -3.5 0z" fill="#1010f0"/>
<polyline points="884.8,400.4 887.49,332.57 890.77,276.47 893.76,229.04 895.52,178.75 899.67,141.63 902.42,121.79 905.61,111.48 908.57,108.37 911.91,107.56 915.11,102.81 917.83,98.89 920.81,94.5 924.01,92.72 926.96,87.72 929.71,84.66 932.55,81.09 935.62,75.89 938.25,70.79 940.85,70.18 943.92,71.35 946.79,68.39 950.1,72.52 953.42,82.06 956.05,87.97 958.64,93.33 961.96,100.42 964.94,98.43 967.66,96.85 970.53,93.69 973.84,86.19 976.8,79.66 979.19,75.89 982.14,74.31 985.1,71.14 988.68,68.39 991.64,71.14 994.6,70.18 997.58,71.35 1000.54,72.52 1003.49,74.92 1006.48,74.92 1009.44,77.06 1012.39,74.31 1015.38,70.18 1018.33,71.35 1020.69,68.39 1023.05,55.13 1026.63,119.9 1029.08,169.98 1032.64,197.88 1036.79,201.81 1038.58,238.22 1041.89,239.04 1045.09,236.69 1048.07,235.26 1051.03,234.09 1054.02,231.69 1056.97,229.35 1059.93,229.35 1062.32,228.12 1065.27,226.34 1068.23,224.81 1071.22,223.38 1074.17,222.21 1077.13,219.25 1080.11,215.68 1083.07,212.11 1086.03,208.89 1088.42,204.41 1091.97,203.23 1094.92,201.45 1097.91,200.28 1100.87,197.88 1103.82,198.49 1106.81,195.89 1110.36,197.52 1113.32,196.09 1115.71,196.09 1118.66,195.18 1122.22,197.06 1125.2,196.09 1128.16,196.09 1131.12,196.09 1134.1,198.49 1137.06,200.28 1139.45,202.06 1141.81,199.05 1145.36,200.28 1148.34,202.62 1151.3,201.09 1153.66,205.58 1157.24,205.58 1160.2,208.23 1163.15,209.15 1166.14,212.11 1169.1,214.15 1172.05,216.49 1175.04,216.85 1177.4,220.42 1180.95,222.21 1183.94,224.35 1186.89,225.98 1190.09,229.55 1190.18,228.99 1191.97,234.34 1195.52,236.33 1199.08,239.09 1202.06,241.08 1205.02,244.39 1207.97,247.04 1210.96,250.36 1214.51,252.7 1216.87,255.1 1219.86,258.06 1222.22,260.4 1225.17,263.41 1228.16,263.98 1231.12,266.73 1234.1,270.5 1237.06,274.07 1240.01,275.25 1243,278.56 1245.96,280.96 1248.91,283.56 1251.9,286.87 1254.85,289.27 1257.81,291.87 1260.8,293.66 1263.75,296.61 1266.71,298.76 1269.7,301.36 1272.65,303.96 1275.61,307.07 1278.59,309.42 1281.55,312.07 1284.51,314.16 1287.49,316.81 1290.45,319.77 1293.4,322.47 1296.39,324.15 1299.35,326.3 1302.3,328.08 1305.29,329.61 1307.65,332.82 1310.63,334.61 1313.59,336.96 1316.55,339.35 1319.53,341.14 1322.49,342.87 1325.44,344.66 1328.82,347.46 1331.74,349.65 1336.1,352.82 1340.46,355.47 1344.82,358.38 1349.18,360.52 1353.54,362.71 1357.9,364.44 1362.29,366.33 1366.65,368.27 1371.01,369.7 1375.37,371.18 1379.73,372.6 1384.09,374.08 1388.45,375.82 1392.81,376.99 1397.2,378.01 1401.56,379.03 1405.92,380.92 1410.28,381.94 1414.64,383.06 1419,384.23 1423.35,385.25 1427.71,386.27 1432.1,387.14 1436.46,388.16 1440.82,389.18 1445.18,390.05 1449.54,391.07 1453.9,391.83 1458.26,392.55 1462.62,393.26 1467.01,394.13 1471.37,394.74 1475.73,395.61 1480.09,396.17 1484.45,396.88 1488.81,397.65 1493.17,398.36 1497.53,398.77 1501.92,399.07 1506.28,399.38 1510.64,399.79 1515,400.25 1519.35,400.4 1523.71,400.4 1528.07,400.4 1532.43,400.4 1538.26,400.4" fill="none" stroke="#ff2020" stroke-width="1.1" stroke-linejoin="round"/>
<path d="M883.05 400.4a1.75 1.75 0 1 0 3.5 0a1.75 1.75 0 1 0 -3.5 0zM885.74 332.57a1.75 1.75 0 1 0 3.5 0a1.75 1.75 0 1 0 -3.5 0zM889.02 276.47a1.75 1.75 0 1 0 3.5 0a1.75 1.75 0 1 0 -3.5 0zM892.01 229.04a1.75 1.75 0 1 0 3.5 0a1.75 1.75 0 1 0 -3.5 0zM893.77 178.75a1.75 1.75 0 1 0 3.5 0a1.75 1.75 0 1 0 -3.5 0zM897.92 141.63a1.75 1.75 0 1 0 3.5 0a1.75 1.75 0 1 0 -3.5 0zM900.67 121.79a1.75 1.75 0 1 0 3.5 0a1.75 1.75 0 1 0 -3.5 0zM903.86 111.48a1.75 1.75 0 1 0 3.5 0a1.75 1.75 0 1 0 -3.5 0zM906.82 108.37a1.75 1.75 0 1 0 3.5 0a1.75 1.75 0 1 0 -3.5 0zM910.16 107.56a1.75 1.75 0 1 0 3.5 0a1.75 1.75 0 1 0 -3.5 0zM913.36 102.81a1.75 1.75 0 1 0 3.5 0a1.75 1.75 0 1 0 -3.5 0zM916.08 98.89a1.75 1.75 0 1 0 3.5 0a1.75 1.75 0 1 0 -3.5 0zM919.06 94.5a1.75 1.75 0 1 0 3.5 0a1.75 1.75 0 1 0 -3.5 0zM922.26 92.72a1.75 1.75 0 1 0 3.5 0a1.75 1.75 0 1 0 -3.5 0zM925.21 87.72a1.75 1.75 0 1 0 3.5 0a1.75 1.75 0 1 0 -3.5 0zM927.96 84.66a1.75 1.75 0 1 0 3.5 0a1.75 1.75 0 1 0 -3.5 0zM930.8 81.09a1.75 1.75 0 1 0 3.5 0a1.75 1.75 0 1 0 -3.5 0zM933.87 75.89a1.75 1.75 0 1 0 3.5 0a1.75 1.75 0 1 0 -3.5 0zM936.5 70.79a1.75 1.75 0 1 0 3.5 0a1.75 1.75 0 1 0 -3.5 0zM939.1 70.18a1.75 1.75 0 1 0 3.5 0a1.75 1.75 0 1 0 -3.5 0zM942.17 71.35a1.75 1.75 0 1 0 3.5 0a1.75 1.75 0 1 0 -3.5 0zM945.04 68.39a1.75 1.75 0 1 0 3.5 0a1.75 1.75 0 1 0 -3.5 0zM948.35 72.52a1.75 1.75 0 1 0 3.5 0a1.75 1.75 0 1 0 -3.5 0zM951.67 82.06a1.75 1.75 0 1 0 3.5 0a1.75 1.75 0 1 0 -3.5 0zM954.3 87.97a1.75 1.75 0 1 0 3.5 0a1.75 1.75 0 1 0 -3.5 0zM956.89 93.33a1.75 1.75 0 1 0 3.5 0a1.75 1.75 0 1 0 -3.5 0zM960.21 100.42a1.75 1.75 0 1 0 3.5 0a1.75 1.75 0 1 0 -3.5 0zM963.19 98.43a1.75 1.75 0 1 0 3.5 0a1.75 1.75 0 1 0 -3.5 0zM965.91 96.85a1.75 1.75 0 1 0 3.5 0a1.75 1.75 0 1 0 -3.5 0zM968.78 93.69a1.75 1.75 0 1 0 3.5 0a1.75 1.75 0 1 0 -3.5 0zM972.09 86.19a1.75 1.75 0 1 0 3.5 0a1.75 1.75 0 1 0 -3.5 0zM975.05 79.66a1.75 1.75 0 1 0 3.5 0a1.75 1.75 0 1 0 -3.5 0zM977.44 75.89a1.75 1.75 0 1 0 3.5 0a1.75 1.75 0 1 0 -3.5 0zM980.39 74.31a1.75 1.75 0 1 0 3.5 0a1.75 1.75 0 1 0 -3.5 0zM983.35 71.14a1.75 1.75 0 1 0 3.5 0a1.75 1.75 0 1 0 -3.5 0zM986.93 68.39a1.75 1.75 0 1 0 3.5 0a1.75 1.75 0 1 0 -3.5 0zM989.89 71.14a1.75 1.75 0 1 0 3.5 0a1.75 1.75 0 1 0 -3.5 0zM992.85 70.18a1.75 1.75 0 1 0 3.5 0a1.75 1.75 0 1 0 -3.5 0zM995.83 71.35a1.75 1.75 0 1 0 3.5 0a1.75 1.75 0 1 0 -3.5 0zM998.79 72.52a1.75 1.75 0 1 0 3.5 0a1.75 1.75 0 1 0 -3.5 0zM1001.74 74.92a1.75 1.75 0 1 0 3.5 0a1.75 1.75 0 1 0 -3.5 0zM1004.73 74.92a1.75 1.75 0 1 0 3.5 0a1.75 1.75 0 1 0 -3.5 0zM1007.69 77.06a1.75 1.75 0 1 0 3.5 0a1.75 1.75 0 1 0 -3.5 0zM1010.64 74.31a1.75 1.75 0 1 0 3.5 0a1.75 1.75 0 1 0 -3.5 0zM1013.63 70.18a1.75 1.75 0 1 0 3.5 0a1.75 1.75 0 1 0 -3.5 0zM1016.58 71.35a1.75 1.75 0 1 0 3.5 0a1.75 1.75 0 1 0 -3.5 0zM1018.94 68.39a1.75 1.75 0 1 0 3.5 0a1.75 1.75 0 1 0 -3.5 0zM1021.3 55.13a1.75 1.75 0 1 0 3.5 0a1.75 1.75 0 1 0 -3.5 0zM1024.88 119.9a1.75 1.75 0 1 0 3.5 0a1.75 1.75 0 1 0 -3.5 0zM1027.33 169.98a1.75 1.75 0 1 0 3.5 0a1.75 1.75 0 1 0 -3.5 0zM1030.89 197.88a1.75 1.75 0 1 0 3.5 0a1.75 1.75 0 1 0 -3.5 0zM1035.04 201.81a1.75 1.75 0 1 0 3.5 0a1.75 1.75 0 1 0 -3.5 0zM1036.83 238.22a1.75 1.75 0 1 0 3.5 0a1.75 1.75 0 1 0 -3.5 0zM1040.14 239.04a1.75 1.75 0 1 0 3.5 0a1.75 1.75 0 1 0 -3.5 0zM1043.34 236.69a1.75 1.75 0 1 0 3.5 0a1.75 1.75 0 1 0 -3.5 0zM1046.32 235.26a1.75 1.75 0 1 0 3.5 0a1.75 1.75 0 1 0 -3.5 0zM1049.28 234.09a1.75 1.75 0 1 0 3.5 0a1.75 1.75 0 1 0 -3.5 0zM1052.27 231.69a1.75 1.75 0 1 0 3.5 0a1.75 1.75 0 1 0 -3.5 0zM1055.22 229.35a1.75 1.75 0 1 0 3.5 0a1.75 1.75 0 1 0 -3.5 0zM1058.18 229.35a1.75 1.75 0 1 0 3.5 0a1.75 1.75 0 1 0 -3.5 0zM1060.57 228.12a1.75 1.75 0 1 0 3.5 0a1.75 1.75 0 1 0 -3.5 0zM1063.52 226.34a1.75 1.75 0 1 0 3.5 0a1.75 1.75 0 1 0 -3.5 0zM1066.48 224.81a1.75 1.75 0 1 0 3.5 0a1.75 1.75 0 1 0 -3.5 0zM1069.47 223.38a1.75 1.75 0 1 0 3.5 0a1.75 1.75 0 1 0 -3.5 0zM1072.42 222.21a1.75 1.75 0 1 0 3.5 0a1.75 1.75 0 1 0 -3.5 0zM1075.38 219.25a1.75 1.75 0 1 0 3.5 0a1.75 1.75 0 1 0 -3.5 0zM1078.36 215.68a1.75 1.75 0 1 0 3.5 0a1.75 1.75 0 1 0 -3.5 0zM1081.32 212.11a1.75 1.75 0 1 0 3.5 0a1.75 1.75 0 1 0 -3.5 0zM1084.28 208.89a1.75 1.75 0 1 0 3.5 0a1.75 1.75 0 1 0 -3.5 0zM1086.67 204.41a1.75 1.75 0 1 0 3.5 0a1.75 1.75 0 1 0 -3.5 0zM1090.22 203.23a1.75 1.75 0 1 0 3.5 0a1.75 1.75 0 1 0 -3.5 0zM1093.17 201.45a1.75 1.75 0 1 0 3.5 0a1.75 1.75 0 1 0 -3.5 0zM1096.16 200.28a1.75 1.75 0 1 0 3.5 0a1.75 1.75 0 1 0 -3.5 0zM1099.12 197.88a1.75 1.75 0 1 0 3.5 0a1.75 1.75 0 1 0 -3.5 0zM1102.07 198.49a1.75 1.75 0 1 0 3.5 0a1.75 1.75 0 1 0 -3.5 0zM1105.06 195.89a1.75 1.75 0 1 0 3.5 0a1.75 1.75 0 1 0 -3.5 0zM1108.61 197.52a1.75 1.75 0 1 0 3.5 0a1.75 1.75 0 1 0 -3.5 0zM1111.57 196.09a1.75 1.75 0 1 0 3.5 0a1.75 1.75 0 1 0 -3.5 0zM1113.96 196.09a1.75 1.75 0 1 0 3.5 0a1.75 1.75 0 1 0 -3.5 0zM1116.91 195.18a1.75 1.75 0 1 0 3.5 0a1.75 1.75 0 1 0 -3.5 0zM1120.47 197.06a1.75 1.75 0 1 0 3.5 0a1.75 1.75 0 1 0 -3.5 0zM1123.45 196.09a1.75 1.75 0 1 0 3.5 0a1.75 1.75 0 1 0 -3.5 0zM1126.41 196.09a1.75 1.75 0 1 0 3.5 0a1.75 1.75 0 1 0 -3.5 0zM1129.37 196.09a1.75 1.75 0 1 0 3.5 0a1.75 1.75 0 1 0 -3.5 0zM1132.35 198.49a1.75 1.75 0 1 0 3.5 0a1.75 1.75 0 1 0 -3.5 0zM1135.31 200.28a1.75 1.75 0 1 0 3.5 0a1.75 1.75 0 1 0 -3.5 0zM1137.7 202.06a1.75 1.75 0 1 0 3.5 0a1.75 1.75 0 1 0 -3.5 0zM1140.06 199.05a1.75 1.75 0 1 0 3.5 0a1.75 1.75 0 1 0 -3.5 0zM1143.61 200.28a1.75 1.75 0 1 0 3.5 0a1.75 1.75 0 1 0 -3.5 0zM1146.59 202.62a1.75 1.75 0 1 0 3.5 0a1.75 1.75 0 1 0 -3.5 0zM1149.55 201.09a1.75 1.75 0 1 0 3.5 0a1.75 1.75 0 1 0 -3.5 0zM1151.91 205.58a1.75 1.75 0 1 0 3.5 0a1.75 1.75 0 1 0 -3.5 0zM1155.49 205.58a1.75 1.75 0 1 0 3.5 0a1.75 1.75 0 1 0 -3.5 0zM1158.45 208.23a1.75 1.75 0 1 0 3.5 0a1.75 1.75 0 1 0 -3.5 0zM1161.4 209.15a1.75 1.75 0 1 0 3.5 0a1.75 1.75 0 1 0 -3.5 0zM1164.39 212.11a1.75 1.75 0 1 0 3.5 0a1.75 1.75 0 1 0 -3.5 0zM1167.35 214.15a1.75 1.75 0 1 0 3.5 0a1.75 1.75 0 1 0 -3.5 0zM1170.3 216.49a1.75 1.75 0 1 0 3.5 0a1.75 1.75 0 1 0 -3.5 0zM1173.29 216.85a1.75 1.75 0 1 0 3.5 0a1.75 1.75 0 1 0 -3.5 0zM1175.65 220.42a1.75 1.75 0 1 0 3.5 0a1.75 1.75 0 1 0 -3.5 0zM1179.2 222.21a1.75 1.75 0 1 0 3.5 0a1.75 1.75 0 1 0 -3.5 0zM1182.19 224.35a1.75 1.75 0 1 0 3.5 0a1.75 1.75 0 1 0 -3.5 0zM1185.14 225.98a1.75 1.75 0 1 0 3.5 0a1.75 1.75 0 1 0 -3.5 0zM1188.34 229.55a1.75 1.75 0 1 0 3.5 0a1.75 1.75 0 1 0 -3.5 0zM1188.43 228.99a1.75 1.75 0 1 0 3.5 0a1.75 1.75 0 1 0 -3.5 0zM1190.22 234.34a1.75 1.75 0 1 0 3.5 0a1.75 1.75 0 1 0 -3.5 0zM1193.77 236.33a1.75 1.75 0 1 0 3.5 0a1.75 1.75 0 1 0 -3.5 0zM1197.33 239.09a1.75 1.75 0 1 0 3.5 0a1.75 1.75 0 1 0 -3.5 0zM1200.31 241.08a1.75 1.75 0 1 0 3.5 0a1.75 1.75 0 1 0 -3.5 0zM1203.27 244.39a1.75 1.75 0 1 0 3.5 0a1.75 1.75 0 1 0 -3.5 0zM1206.22 247.04a1.75 1.75 0 1 0 3.5 0a1.75 1.75 0 1 0 -3.5 0zM1209.21 250.36a1.75 1.75 0 1 0 3.5 0a1.75 1.75 0 1 0 -3.5 0zM1212.76 252.7a1.75 1.75 0 1 0 3.5 0a1.75 1.75 0 1 0 -3.5 0zM1215.12 255.1a1.75 1.75 0 1 0 3.5 0a1.75 1.75 0 1 0 -3.5 0zM1218.11 258.06a1.75 1.75 0 1 0 3.5 0a1.75 1.75 0 1 0 -3.5 0zM1220.47 260.4a1.75 1.75 0 1 0 3.5 0a1.75 1.75 0 1 0 -3.5 0zM1223.42 263.41a1.75 1.75 0 1 0 3.5 0a1.75 1.75 0 1 0 -3.5 0zM1226.41 263.98a1.75 1.75 0 1 0 3.5 0a1.75 1.75 0 1 0 -3.5 0zM1229.37 266.73a1.75 1.75 0 1 0 3.5 0a1.75 1.75 0 1 0 -3.5 0zM1232.35 270.5a1.75 1.75 0 1 0 3.5 0a1.75 1.75 0 1 0 -3.5 0zM1235.31 274.07a1.75 1.75 0 1 0 3.5 0a1.75 1.75 0 1 0 -3.5 0zM1238.26 275.25a1.75 1.75 0 1 0 3.5 0a1.75 1.75 0 1 0 -3.5 0zM1241.25 278.56a1.75 1.75 0 1 0 3.5 0a1.75 1.75 0 1 0 -3.5 0zM1244.21 280.96a1.75 1.75 0 1 0 3.5 0a1.75 1.75 0 1 0 -3.5 0zM1247.16 283.56a1.75 1.75 0 1 0 3.5 0a1.75 1.75 0 1 0 -3.5 0zM1250.15 286.87a1.75 1.75 0 1 0 3.5 0a1.75 1.75 0 1 0 -3.5 0zM1253.1 289.27a1.75 1.75 0 1 0 3.5 0a1.75 1.75 0 1 0 -3.5 0zM1256.06 291.87a1.75 1.75 0 1 0 3.5 0a1.75 1.75 0 1 0 -3.5 0zM1259.05 293.66a1.75 1.75 0 1 0 3.5 0a1.75 1.75 0 1 0 -3.5 0zM1262 296.61a1.75 1.75 0 1 0 3.5 0a1.75 1.75 0 1 0 -3.5 0zM1264.96 298.76a1.75 1.75 0 1 0 3.5 0a1.75 1.75 0 1 0 -3.5 0zM1267.95 301.36a1.75 1.75 0 1 0 3.5 0a1.75 1.75 0 1 0 -3.5 0zM1270.9 303.96a1.75 1.75 0 1 0 3.5 0a1.75 1.75 0 1 0 -3.5 0zM1273.86 307.07a1.75 1.75 0 1 0 3.5 0a1.75 1.75 0 1 0 -3.5 0zM1276.84 309.42a1.75 1.75 0 1 0 3.5 0a1.75 1.75 0 1 0 -3.5 0zM1279.8 312.07a1.75 1.75 0 1 0 3.5 0a1.75 1.75 0 1 0 -3.5 0zM1282.76 314.16a1.75 1.75 0 1 0 3.5 0a1.75 1.75 0 1 0 -3.5 0zM1285.74 316.81a1.75 1.75 0 1 0 3.5 0a1.75 1.75 0 1 0 -3.5 0zM1288.7 319.77a1.75 1.75 0 1 0 3.5 0a1.75 1.75 0 1 0 -3.5 0zM1291.65 322.47a1.75 1.75 0 1 0 3.5 0a1.75 1.75 0 1 0 -3.5 0zM1294.64 324.15a1.75 1.75 0 1 0 3.5 0a1.75 1.75 0 1 0 -3.5 0zM1297.6 326.3a1.75 1.75 0 1 0 3.5 0a1.75 1.75 0 1 0 -3.5 0zM1300.55 328.08a1.75 1.75 0 1 0 3.5 0a1.75 1.75 0 1 0 -3.5 0zM1303.54 329.61a1.75 1.75 0 1 0 3.5 0a1.75 1.75 0 1 0 -3.5 0zM1305.9 332.82a1.75 1.75 0 1 0 3.5 0a1.75 1.75 0 1 0 -3.5 0zM1308.88 334.61a1.75 1.75 0 1 0 3.5 0a1.75 1.75 0 1 0 -3.5 0zM1311.84 336.96a1.75 1.75 0 1 0 3.5 0a1.75 1.75 0 1 0 -3.5 0zM1314.8 339.35a1.75 1.75 0 1 0 3.5 0a1.75 1.75 0 1 0 -3.5 0zM1317.78 341.14a1.75 1.75 0 1 0 3.5 0a1.75 1.75 0 1 0 -3.5 0zM1320.74 342.87a1.75 1.75 0 1 0 3.5 0a1.75 1.75 0 1 0 -3.5 0zM1323.69 344.66a1.75 1.75 0 1 0 3.5 0a1.75 1.75 0 1 0 -3.5 0zM1327.07 347.46a1.75 1.75 0 1 0 3.5 0a1.75 1.75 0 1 0 -3.5 0zM1329.99 349.65a1.75 1.75 0 1 0 3.5 0a1.75 1.75 0 1 0 -3.5 0zM1334.35 352.82a1.75 1.75 0 1 0 3.5 0a1.75 1.75 0 1 0 -3.5 0zM1338.71 355.47a1.75 1.75 0 1 0 3.5 0a1.75 1.75 0 1 0 -3.5 0zM1343.07 358.38a1.75 1.75 0 1 0 3.5 0a1.75 1.75 0 1 0 -3.5 0zM1347.43 360.52a1.75 1.75 0 1 0 3.5 0a1.75 1.75 0 1 0 -3.5 0zM1351.79 362.71a1.75 1.75 0 1 0 3.5 0a1.75 1.75 0 1 0 -3.5 0zM1356.15 364.44a1.75 1.75 0 1 0 3.5 0a1.75 1.75 0 1 0 -3.5 0zM1360.54 366.33a1.75 1.75 0 1 0 3.5 0a1.75 1.75 0 1 0 -3.5 0zM1364.9 368.27a1.75 1.75 0 1 0 3.5 0a1.75 1.75 0 1 0 -3.5 0zM1369.26 369.7a1.75 1.75 0 1 0 3.5 0a1.75 1.75 0 1 0 -3.5 0zM1373.62 371.18a1.75 1.75 0 1 0 3.5 0a1.75 1.75 0 1 0 -3.5 0zM1377.98 372.6a1.75 1.75 0 1 0 3.5 0a1.75 1.75 0 1 0 -3.5 0zM1382.34 374.08a1.75 1.75 0 1 0 3.5 0a1.75 1.75 0 1 0 -3.5 0zM1386.7 375.82a1.75 1.75 0 1 0 3.5 0a1.75 1.75 0 1 0 -3.5 0zM1391.06 376.99a1.75 1.75 0 1 0 3.5 0a1.75 1.75 0 1 0 -3.5 0zM1395.45 378.01a1.75 1.75 0 1 0 3.5 0a1.75 1.75 0 1 0 -3.5 0zM1399.81 379.03a1.75 1.75 0 1 0 3.5 0a1.75 1.75 0 1 0 -3.5 0zM1404.17 380.92a1.75 1.75 0 1 0 3.5 0a1.75 1.75 0 1 0 -3.5 0zM1408.53 381.94a1.75 1.75 0 1 0 3.5 0a1.75 1.75 0 1 0 -3.5 0zM1412.89 383.06a1.75 1.75 0 1 0 3.5 0a1.75 1.75 0 1 0 -3.5 0zM1417.25 384.23a1.75 1.75 0 1 0 3.5 0a1.75 1.75 0 1 0 -3.5 0zM1421.6 385.25a1.75 1.75 0 1 0 3.5 0a1.75 1.75 0 1 0 -3.5 0zM1425.96 386.27a1.75 1.75 0 1 0 3.5 0a1.75 1.75 0 1 0 -3.5 0zM1430.35 387.14a1.75 1.75 0 1 0 3.5 0a1.75 1.75 0 1 0 -3.5 0zM1434.71 388.16a1.75 1.75 0 1 0 3.5 0a1.75 1.75 0 1 0 -3.5 0zM1439.07 389.18a1.75 1.75 0 1 0 3.5 0a1.75 1.75 0 1 0 -3.5 0zM1443.43 390.05a1.75 1.75 0 1 0 3.5 0a1.75 1.75 0 1 0 -3.5 0zM1447.79 391.07a1.75 1.75 0 1 0 3.5 0a1.75 1.75 0 1 0 -3.5 0zM1452.15 391.83a1.75 1.75 0 1 0 3.5 0a1.75 1.75 0 1 0 -3.5 0zM1456.51 392.55a1.75 1.75 0 1 0 3.5 0a1.75 1.75 0 1 0 -3.5 0zM1460.87 393.26a1.75 1.75 0 1 0 3.5 0a1.75 1.75 0 1 0 -3.5 0zM1465.26 394.13a1.75 1.75 0 1 0 3.5 0a1.75 1.75 0 1 0 -3.5 0zM1469.62 394.74a1.75 1.75 0 1 0 3.5 0a1.75 1.75 0 1 0 -3.5 0zM1473.98 395.61a1.75 1.75 0 1 0 3.5 0a1.75 1.75 0 1 0 -3.5 0zM1478.34 396.17a1.75 1.75 0 1 0 3.5 0a1.75 1.75 0 1 0 -3.5 0zM1482.7 396.88a1.75 1.75 0 1 0 3.5 0a1.75 1.75 0 1 0 -3.5 0zM1487.06 397.65a1.75 1.75 0 1 0 3.5 0a1.75 1.75 0 1 0 -3.5 0zM1491.42 398.36a1.75 1.75 0 1 0 3.5 0a1.75 1.75 0 1 0 -3.5 0zM1495.78 398.77a1.75 1.75 0 1 0 3.5 0a1.75 1.75 0 1 0 -3.5 0zM1500.17 399.07a1.75 1.75 0 1 0 3.5 0a1.75 1.75 0 1 0 -3.5 0zM1504.53 399.38a1.75 1.75 0 1 0 3.5 0a1.75 1.75 0 1 0 -3.5 0zM1508.89 399.79a1.75 1.75 0 1 0 3.5 0a1.75 1.75 0 1 0 -3.5 0zM1513.25 400.25a1.75 1.75 0 1 0 3.5 0a1.75 1.75 0 1 0 -3.5 0zM1517.6 400.4a1.75 1.75 0 1 0 3.5 0a1.75 1.75 0 1 0 -3.5 0zM1521.96 400.4a1.75 1.75 0 1 0 3.5 0a1.75 1.75 0 1 0 -3.5 0zM1526.32 400.4a1.75 1.75 0 1 0 3.5 0a1.75 1.75 0 1 0 -3.5 0zM1530.68 400.4a1.75 1.75 0 1 0 3.5 0a1.75 1.75 0 1 0 -3.5 0zM1533.59 400.4a1.75 1.75 0 1 0 3.5 0a1.75 1.75 0 1 0 -3.5 0zM1536.51 400.4a1.75 1.75 0 1 0 3.5 0a1.75 1.75 0 1 0 -3.5 0z" fill="#e80000"/>
<path d="M1023.45 23.7V49.44" stroke="#ff0000" stroke-width="4.5" fill="none"/><path d="M1016.08 38.17L1023.45 49.44L1030.83 38.17" stroke="#ff0000" stroke-width="5.0" fill="none" stroke-linejoin="miter" stroke-miterlimit="20" stroke-linecap="round"/>
<path d="M81.1 885.7H739.1M81.1 834.8H739.1M81.1 783.9H739.1M81.1 733H739.1M81.1 682.1H739.1M81.1 631.2H739.1M81.1 580.3H739.1M231.1 575.5V936.6M381.1 575.5V936.6M531.1 575.5V936.6M681.1 575.5V936.6" stroke="#989898" stroke-width="1.5" stroke-dasharray="1.6 1.56" fill="none"/>
<path d="M96.1 936.6v-3.3M111.1 936.6v-3.3M126.1 936.6v-3.3M141.1 936.6v-3.3M156.1 936.6v-3.3M171.1 936.6v-3.3M186.1 936.6v-3.3M201.1 936.6v-3.3M216.1 936.6v-3.3M231.1 936.6v-6.6M246.1 936.6v-3.3M261.1 936.6v-3.3M276.1 936.6v-3.3M291.1 936.6v-3.3M306.1 936.6v-3.3M321.1 936.6v-3.3M336.1 936.6v-3.3M351.1 936.6v-3.3M366.1 936.6v-3.3M381.1 936.6v-6.6M396.1 936.6v-3.3M411.1 936.6v-3.3M426.1 936.6v-3.3M441.1 936.6v-3.3M456.1 936.6v-3.3M471.1 936.6v-3.3M486.1 936.6v-3.3M501.1 936.6v-3.3M516.1 936.6v-3.3M531.1 936.6v-6.6M546.1 936.6v-3.3M561.1 936.6v-3.3M576.1 936.6v-3.3M591.1 936.6v-3.3M606.1 936.6v-3.3M621.1 936.6v-3.3M636.1 936.6v-3.3M651.1 936.6v-3.3M666.1 936.6v-3.3M681.1 936.6v-6.6M696.1 936.6v-3.3M711.1 936.6v-3.3M726.1 936.6v-3.3M81.1 931.51h3.5M81.1 926.42h3.5M81.1 921.33h3.5M81.1 916.24h3.5M81.1 911.15h6.4M81.1 906.06h3.5M81.1 900.97h3.5M81.1 895.88h3.5M81.1 890.79h3.5M81.1 885.7h9.5M81.1 880.61h3.5M81.1 875.52h3.5M81.1 870.43h3.5M81.1 865.34h3.5M81.1 860.25h6.4M81.1 855.16h3.5M81.1 850.07h3.5M81.1 844.98h3.5M81.1 839.89h3.5M81.1 834.8h9.5M81.1 829.71h3.5M81.1 824.62h3.5M81.1 819.53h3.5M81.1 814.44h3.5M81.1 809.35h6.4M81.1 804.26h3.5M81.1 799.17h3.5M81.1 794.08h3.5M81.1 788.99h3.5M81.1 783.9h9.5M81.1 778.81h3.5M81.1 773.72h3.5M81.1 768.63h3.5M81.1 763.54h3.5M81.1 758.45h6.4M81.1 753.36h3.5M81.1 748.27h3.5M81.1 743.18h3.5M81.1 738.09h3.5M81.1 733h9.5M81.1 727.91h3.5M81.1 722.82h3.5M81.1 717.73h3.5M81.1 712.64h3.5M81.1 707.55h6.4M81.1 702.46h3.5M81.1 697.37h3.5M81.1 692.28h3.5M81.1 687.19h3.5M81.1 682.1h9.5M81.1 677.01h3.5M81.1 671.92h3.5M81.1 666.83h3.5M81.1 661.74h3.5M81.1 656.65h6.4M81.1 651.56h3.5M81.1 646.47h3.5M81.1 641.38h3.5M81.1 636.29h3.5M81.1 631.2h9.5M81.1 626.11h3.5M81.1 621.02h3.5M81.1 615.93h3.5M81.1 610.84h3.5M81.1 605.75h6.4M81.1 600.66h3.5M81.1 595.57h3.5M81.1 590.48h3.5M81.1 585.39h3.5M81.1 580.3h9.5M94.26 566.5v3.3M107.42 566.5v3.3M120.58 566.5v3.3M133.74 566.5v3.3M146.9 566.5v3.3M160.06 566.5v3.3M173.22 566.5v3.3M186.38 566.5v3.3M199.54 566.5v3.3M212.7 566.5v6.6M225.86 566.5v3.3M239.02 566.5v3.3M252.18 566.5v3.3M265.34 566.5v3.3M278.5 566.5v3.3M291.66 566.5v3.3M304.82 566.5v3.3M317.98 566.5v3.3M331.14 566.5v3.3M344.3 566.5v6.6M357.46 566.5v3.3M370.62 566.5v3.3M383.78 566.5v3.3M396.94 566.5v3.3M410.1 566.5v3.3M423.26 566.5v3.3M436.42 566.5v3.3M449.58 566.5v3.3M462.74 566.5v3.3M475.9 566.5v6.6M489.06 566.5v3.3M502.22 566.5v3.3M515.38 566.5v3.3M528.54 566.5v3.3M541.7 566.5v3.3M554.86 566.5v3.3M568.02 566.5v3.3M581.18 566.5v3.3M594.34 566.5v3.3M607.5 566.5v6.6M620.66 566.5v3.3M633.82 566.5v3.3M646.98 566.5v3.3M660.14 566.5v3.3M673.3 566.5v3.3M686.46 566.5v3.3M699.62 566.5v3.3M712.78 566.5v3.3M725.94 566.5v3.3" stroke="#3a3a3a" stroke-width="1.2" fill="none"/>
<rect x="81.1" y="566.5" width="658" height="370.1" fill="none" stroke="#3c3c3c" stroke-width="1.4"/>
<polyline points="81.1,936.6 82.3,876.03 85.6,826.15 89.2,788.99 91.6,751.83 95.8,721.29 97.48,703.53 101.17,695.18 104.35,690.96 108.04,686.22 111.19,681.54 113.83,678.89 116.47,676.3 119.65,673.65 123.34,672.07 125.98,666.83 129.16,663.73 131.8,658.48 133.9,655.33 137.08,653.24 140.23,650.08 143.41,646.93 146.05,649.01 149.2,657.92 151.84,661.08 155.02,664.74 158.71,669.99 161.35,668.97 163.99,666.32 167.14,664.74 170.32,660.57 173.5,655.84 176.14,650.59 179.29,646.42 182.47,640.11 185.62,636.95 188.8,635.37 191.44,634.36 194.59,635.37 197.77,633.8 200.41,633.29 203.59,631.2 206.74,630.13 209.92,628.55 213.07,625.45 216.25,625.45 218.35,623.87 220.3,617.46 223,682.1 226,728.93 229,750.82 233.2,736.05 235.9,729.95 238.9,726.38 241.96,716.41 245.53,712.49 247.9,708.72 250.87,707.3 254.44,704.6 257.98,701.09 259.18,696.91 262.15,694.83 265.12,691.62 268.69,689.84 271.66,691.06 275.23,689.63 278.2,688.11 280.57,686.88 283.54,688.67 285.91,691.62 289.48,692.79 292.45,695.18 295.99,696.71 298.96,695.74 301.93,698.13 304.9,699.05 307.87,698.13 310.84,696.91 313.21,694.83 316.18,693.4 319.75,692.43 322.72,691.06 325.69,690.8 328.66,688.67 331.63,686.32 334.6,685.15 338.17,684.54 341.74,684.54 345.28,683.93 348.85,683.02 351.82,683.37 354.79,681.59 357.76,680.17 361.33,681.85 364.3,679.45 367.87,678.64 371.41,679 374.98,678.64 378.55,680.17 382.12,676.86 385.09,675.94 388.66,676.3 391.6,675.69 395.17,673.91 398.74,674.52 402.31,675.13 404.32,674.77 405.01,674.26 408.58,673.35 412.12,675.13 415.69,676.3 419.26,675.13 422.83,675.69 426.37,670.39 429.34,663.93 432.31,667.44 435.28,674.52 438.25,672.17 441.22,676.3 444.19,681.85 447.76,682.2 451.33,683.02 454.9,683.93 459.04,683.37 462.61,685.71 465.58,688.67 468.55,688.67 471.52,688.11 474.49,689.63 477.46,690.45 480.43,689.28 483.4,688.67 486.37,689.28 489.34,688.67 492.31,688.46 495.28,688.67 498.25,686.07 501.22,686.88 504.19,682.2 507.16,682.76 510.13,686.32 513.1,689.84 516.07,693.15 519.04,693.15 522.01,692.59 524.95,692.59 527.92,692.79 530.89,693.96 533.86,695.18 536.83,694.32 539.8,693.96 542.77,694.57 545.74,695.54 548.71,693.96 551.68,693.96 554.65,695.54 557.62,696 560.59,696.35 563.56,696.71 567.13,695.54 570.1,692.79 574.48,692.23 575.77,691.06 578.74,692.23 581.71,693.96 583.48,698.13 586.45,700.47 590.02,702.26 592.99,700.47 595.96,701.09 598.93,699.3 602.5,700.47 605.47,700.47 608.44,701.65 611.41,703.43 614.38,702.82 617.35,703.07 620.32,703.99 623.29,702.26 626.26,699.86 629.23,701.09 632.77,701.39 635.74,700.47 638.71,700.22 641.68,701.39 644.65,698.69 647.62,694.57 649.99,697.17 652.96,696.91 655.93,696.91 659.5,699.05 661.27,699.86 664.24,702.61 667.21,703.99 670.78,703.07 673.75,703.07 676.72,703.99 679.69,703.99 682.66,702.82 685.63,701.9 688.6,702.61 691.57,703.07 694.54,702.82 697.51,702.26 700.48,703.99 703.45,702.82 706.42,701.09 709.39,699.86 712.36,699.86 715.33,699.86 718.3,702.26 721.27,699.3 724.24,699.86 727.81,700.47 730.78,701.39 733.75,703.07 736.72,703.99 739.69,700.22" fill="none" stroke="#1010c0" stroke-width="1.1" stroke-linejoin="round"/>
<path d="M79.35 936.6a1.75 1.75 0 1 0 3.5 0a1.75 1.75 0 1 0 -3.5 0zM80.55 876.03a1.75 1.75 0 1 0 3.5 0a1.75 1.75 0 1 0 -3.5 0zM83.85 826.15a1.75 1.75 0 1 0 3.5 0a1.75 1.75 0 1 0 -3.5 0zM87.45 788.99a1.75 1.75 0 1 0 3.5 0a1.75 1.75 0 1 0 -3.5 0zM89.85 751.83a1.75 1.75 0 1 0 3.5 0a1.75 1.75 0 1 0 -3.5 0zM94.05 721.29a1.75 1.75 0 1 0 3.5 0a1.75 1.75 0 1 0 -3.5 0zM95.73 703.53a1.75 1.75 0 1 0 3.5 0a1.75 1.75 0 1 0 -3.5 0zM99.42 695.18a1.75 1.75 0 1 0 3.5 0a1.75 1.75 0 1 0 -3.5 0zM102.6 690.96a1.75 1.75 0 1 0 3.5 0a1.75 1.75 0 1 0 -3.5 0zM106.29 686.22a1.75 1.75 0 1 0 3.5 0a1.75 1.75 0 1 0 -3.5 0zM109.44 681.54a1.75 1.75 0 1 0 3.5 0a1.75 1.75 0 1 0 -3.5 0zM112.08 678.89a1.75 1.75 0 1 0 3.5 0a1.75 1.75 0 1 0 -3.5 0zM114.72 676.3a1.75 1.75 0 1 0 3.5 0a1.75 1.75 0 1 0 -3.5 0zM117.9 673.65a1.75 1.75 0 1 0 3.5 0a1.75 1.75 0 1 0 -3.5 0zM121.59 672.07a1.75 1.75 0 1 0 3.5 0a1.75 1.75 0 1 0 -3.5 0zM124.23 666.83a1.75 1.75 0 1 0 3.5 0a1.75 1.75 0 1 0 -3.5 0zM127.41 663.73a1.75 1.75 0 1 0 3.5 0a1.75 1.75 0 1 0 -3.5 0zM130.05 658.48a1.75 1.75 0 1 0 3.5 0a1.75 1.75 0 1 0 -3.5 0zM132.15 655.33a1.75 1.75 0 1 0 3.5 0a1.75 1.75 0 1 0 -3.5 0zM135.33 653.24a1.75 1.75 0 1 0 3.5 0a1.75 1.75 0 1 0 -3.5 0zM138.48 650.08a1.75 1.75 0 1 0 3.5 0a1.75 1.75 0 1 0 -3.5 0zM141.66 646.93a1.75 1.75 0 1 0 3.5 0a1.75 1.75 0 1 0 -3.5 0zM144.3 649.01a1.75 1.75 0 1 0 3.5 0a1.75 1.75 0 1 0 -3.5 0zM147.45 657.92a1.75 1.75 0 1 0 3.5 0a1.75 1.75 0 1 0 -3.5 0zM150.09 661.08a1.75 1.75 0 1 0 3.5 0a1.75 1.75 0 1 0 -3.5 0zM153.27 664.74a1.75 1.75 0 1 0 3.5 0a1.75 1.75 0 1 0 -3.5 0zM156.96 669.99a1.75 1.75 0 1 0 3.5 0a1.75 1.75 0 1 0 -3.5 0zM159.6 668.97a1.75 1.75 0 1 0 3.5 0a1.75 1.75 0 1 0 -3.5 0zM162.24 666.32a1.75 1.75 0 1 0 3.5 0a1.75 1.75 0 1 0 -3.5 0zM165.39 664.74a1.75 1.75 0 1 0 3.5 0a1.75 1.75 0 1 0 -3.5 0zM168.57 660.57a1.75 1.75 0 1 0 3.5 0a1.75 1.75 0 1 0 -3.5 0zM171.75 655.84a1.75 1.75 0 1 0 3.5 0a1.75 1.75 0 1 0 -3.5 0zM174.39 650.59a1.75 1.75 0 1 0 3.5 0a1.75 1.75 0 1 0 -3.5 0zM177.54 646.42a1.75 1.75 0 1 0 3.5 0a1.75 1.75 0 1 0 -3.5 0zM180.72 640.11a1.75 1.75 0 1 0 3.5 0a1.75 1.75 0 1 0 -3.5 0zM183.87 636.95a1.75 1.75 0 1 0 3.5 0a1.75 1.75 0 1 0 -3.5 0zM187.05 635.37a1.75 1.75 0 1 0 3.5 0a1.75 1.75 0 1 0 -3.5 0zM189.69 634.36a1.75 1.75 0 1 0 3.5 0a1.75 1.75 0 1 0 -3.5 0zM192.84 635.37a1.75 1.75 0 1 0 3.5 0a1.75 1.75 0 1 0 -3.5 0zM196.02 633.8a1.75 1.75 0 1 0 3.5 0a1.75 1.75 0 1 0 -3.5 0zM198.66 633.29a1.75 1.75 0 1 0 3.5 0a1.75 1.75 0 1 0 -3.5 0zM201.84 631.2a1.75 1.75 0 1 0 3.5 0a1.75 1.75 0 1 0 -3.5 0zM204.99 630.13a1.75 1.75 0 1 0 3.5 0a1.75 1.75 0 1 0 -3.5 0zM208.17 628.55a1.75 1.75 0 1 0 3.5 0a1.75 1.75 0 1 0 -3.5 0zM211.32 625.45a1.75 1.75 0 1 0 3.5 0a1.75 1.75 0 1 0 -3.5 0zM214.5 625.45a1.75 1.75 0 1 0 3.5 0a1.75 1.75 0 1 0 -3.5 0zM216.6 623.87a1.75 1.75 0 1 0 3.5 0a1.75 1.75 0 1 0 -3.5 0zM218.55 617.46a1.75 1.75 0 1 0 3.5 0a1.75 1.75 0 1 0 -3.5 0zM221.25 682.1a1.75 1.75 0 1 0 3.5 0a1.75 1.75 0 1 0 -3.5 0zM224.25 728.93a1.75 1.75 0 1 0 3.5 0a1.75 1.75 0 1 0 -3.5 0zM227.25 750.82a1.75 1.75 0 1 0 3.5 0a1.75 1.75 0 1 0 -3.5 0zM231.45 736.05a1.75 1.75 0 1 0 3.5 0a1.75 1.75 0 1 0 -3.5 0zM234.15 729.95a1.75 1.75 0 1 0 3.5 0a1.75 1.75 0 1 0 -3.5 0zM237.15 726.38a1.75 1.75 0 1 0 3.5 0a1.75 1.75 0 1 0 -3.5 0zM240.21 716.41a1.75 1.75 0 1 0 3.5 0a1.75 1.75 0 1 0 -3.5 0zM243.78 712.49a1.75 1.75 0 1 0 3.5 0a1.75 1.75 0 1 0 -3.5 0zM246.15 708.72a1.75 1.75 0 1 0 3.5 0a1.75 1.75 0 1 0 -3.5 0zM249.12 707.3a1.75 1.75 0 1 0 3.5 0a1.75 1.75 0 1 0 -3.5 0zM252.69 704.6a1.75 1.75 0 1 0 3.5 0a1.75 1.75 0 1 0 -3.5 0zM256.23 701.09a1.75 1.75 0 1 0 3.5 0a1.75 1.75 0 1 0 -3.5 0zM257.43 696.91a1.75 1.75 0 1 0 3.5 0a1.75 1.75 0 1 0 -3.5 0zM260.4 694.83a1.75 1.75 0 1 0 3.5 0a1.75 1.75 0 1 0 -3.5 0zM263.37 691.62a1.75 1.75 0 1 0 3.5 0a1.75 1.75 0 1 0 -3.5 0zM266.94 689.84a1.75 1.75 0 1 0 3.5 0a1.75 1.75 0 1 0 -3.5 0zM269.91 691.06a1.75 1.75 0 1 0 3.5 0a1.75 1.75 0 1 0 -3.5 0zM273.48 689.63a1.75 1.75 0 1 0 3.5 0a1.75 1.75 0 1 0 -3.5 0zM276.45 688.11a1.75 1.75 0 1 0 3.5 0a1.75 1.75 0 1 0 -3.5 0zM278.82 686.88a1.75 1.75 0 1 0 3.5 0a1.75 1.75 0 1 0 -3.5 0zM281.79 688.67a1.75 1.75 0 1 0 3.5 0a1.75 1.75 0 1 0 -3.5 0zM284.16 691.62a1.75 1.75 0 1 0 3.5 0a1.75 1.75 0 1 0 -3.5 0zM287.73 692.79a1.75 1.75 0 1 0 3.5 0a1.75 1.75 0 1 0 -3.5 0zM290.7 695.18a1.75 1.75 0 1 0 3.5 0a1.75 1.75 0 1 0 -3.5 0zM294.24 696.71a1.75 1.75 0 1 0 3.5 0a1.75 1.75 0 1 0 -3.5 0zM297.21 695.74a1.75 1.75 0 1 0 3.5 0a1.75 1.75 0 1 0 -3.5 0zM300.18 698.13a1.75 1.75 0 1 0 3.5 0a1.75 1.75 0 1 0 -3.5 0zM303.15 699.05a1.75 1.75 0 1 0 3.5 0a1.75 1.75 0 1 0 -3.5 0zM306.12 698.13a1.75 1.75 0 1 0 3.5 0a1.75 1.75 0 1 0 -3.5 0zM309.09 696.91a1.75 1.75 0 1 0 3.5 0a1.75 1.75 0 1 0 -3.5 0zM311.46 694.83a1.75 1.75 0 1 0 3.5 0a1.75 1.75 0 1 0 -3.5 0zM314.43 693.4a1.75 1.75 0 1 0 3.5 0a1.75 1.75 0 1 0 -3.5 0zM318 692.43a1.75 1.75 0 1 0 3.5 0a1.75 1.75 0 1 0 -3.5 0zM320.97 691.06a1.75 1.75 0 1 0 3.5 0a1.75 1.75 0 1 0 -3.5 0zM323.94 690.8a1.75 1.75 0 1 0 3.5 0a1.75 1.75 0 1 0 -3.5 0zM326.91 688.67a1.75 1.75 0 1 0 3.5 0a1.75 1.75 0 1 0 -3.5 0zM329.88 686.32a1.75 1.75 0 1 0 3.5 0a1.75 1.75 0 1 0 -3.5 0zM332.85 685.15a1.75 1.75 0 1 0 3.5 0a1.75 1.75 0 1 0 -3.5 0zM336.42 684.54a1.75 1.75 0 1 0 3.5 0a1.75 1.75 0 1 0 -3.5 0zM339.99 684.54a1.75 1.75 0 1 0 3.5 0a1.75 1.75 0 1 0 -3.5 0zM343.53 683.93a1.75 1.75 0 1 0 3.5 0a1.75 1.75 0 1 0 -3.5 0zM347.1 683.02a1.75 1.75 0 1 0 3.5 0a1.75 1.75 0 1 0 -3.5 0zM350.07 683.37a1.75 1.75 0 1 0 3.5 0a1.75 1.75 0 1 0 -3.5 0zM353.04 681.59a1.75 1.75 0 1 0 3.5 0a1.75 1.75 0 1 0 -3.5 0zM356.01 680.17a1.75 1.75 0 1 0 3.5 0a1.75 1.75 0 1 0 -3.5 0zM359.58 681.85a1.75 1.75 0 1 0 3.5 0a1.75 1.75 0 1 0 -3.5 0zM362.55 679.45a1.75 1.75 0 1 0 3.5 0a1.75 1.75 0 1 0 -3.5 0zM366.12 678.64a1.75 1.75 0 1 0 3.5 0a1.75 1.75 0 1 0 -3.5 0zM369.66 679a1.75 1.75 0 1 0 3.5 0a1.75 1.75 0 1 0 -3.5 0zM373.23 678.64a1.75 1.75 0 1 0 3.5 0a1.75 1.75 0 1 0 -3.5 0zM376.8 680.17a1.75 1.75 0 1 0 3.5 0a1.75 1.75 0 1 0 -3.5 0zM380.37 676.86a1.75 1.75 0 1 0 3.5 0a1.75 1.75 0 1 0 -3.5 0zM383.34 675.94a1.75 1.75 0 1 0 3.5 0a1.75 1.75 0 1 0 -3.5 0zM386.91 676.3a1.75 1.75 0 1 0 3.5 0a1.75 1.75 0 1 0 -3.5 0zM389.85 675.69a1.75 1.75 0 1 0 3.5 0a1.75 1.75 0 1 0 -3.5 0zM393.42 673.91a1.75 1.75 0 1 0 3.5 0a1.75 1.75 0 1 0 -3.5 0zM396.99 674.52a1.75 1.75 0 1 0 3.5 0a1.75 1.75 0 1 0 -3.5 0zM400.56 675.13a1.75 1.75 0 1 0 3.5 0a1.75 1.75 0 1 0 -3.5 0zM402.57 674.77a1.75 1.75 0 1 0 3.5 0a1.75 1.75 0 1 0 -3.5 0zM403.26 674.26a1.75 1.75 0 1 0 3.5 0a1.75 1.75 0 1 0 -3.5 0zM406.83 673.35a1.75 1.75 0 1 0 3.5 0a1.75 1.75 0 1 0 -3.5 0zM410.37 675.13a1.75 1.75 0 1 0 3.5 0a1.75 1.75 0 1 0 -3.5 0zM413.94 676.3a1.75 1.75 0 1 0 3.5 0a1.75 1.75 0 1 0 -3.5 0zM417.51 675.13a1.75 1.75 0 1 0 3.5 0a1.75 1.75 0 1 0 -3.5 0zM421.08 675.69a1.75 1.75 0 1 0 3.5 0a1.75 1.75 0 1 0 -3.5 0zM424.62 670.39a1.75 1.75 0 1 0 3.5 0a1.75 1.75 0 1 0 -3.5 0zM427.59 663.93a1.75 1.75 0 1 0 3.5 0a1.75 1.75 0 1 0 -3.5 0zM430.56 667.44a1.75 1.75 0 1 0 3.5 0a1.75 1.75 0 1 0 -3.5 0zM433.53 674.52a1.75 1.75 0 1 0 3.5 0a1.75 1.75 0 1 0 -3.5 0zM436.5 672.17a1.75 1.75 0 1 0 3.5 0a1.75 1.75 0 1 0 -3.5 0zM439.47 676.3a1.75 1.75 0 1 0 3.5 0a1.75 1.75 0 1 0 -3.5 0zM442.44 681.85a1.75 1.75 0 1 0 3.5 0a1.75 1.75 0 1 0 -3.5 0zM446.01 682.2a1.75 1.75 0 1 0 3.5 0a1.75 1.75 0 1 0 -3.5 0zM449.58 683.02a1.75 1.75 0 1 0 3.5 0a1.75 1.75 0 1 0 -3.5 0zM453.15 683.93a1.75 1.75 0 1 0 3.5 0a1.75 1.75 0 1 0 -3.5 0zM457.29 683.37a1.75 1.75 0 1 0 3.5 0a1.75 1.75 0 1 0 -3.5 0zM460.86 685.71a1.75 1.75 0 1 0 3.5 0a1.75 1.75 0 1 0 -3.5 0zM463.83 688.67a1.75 1.75 0 1 0 3.5 0a1.75 1.75 0 1 0 -3.5 0zM466.8 688.67a1.75 1.75 0 1 0 3.5 0a1.75 1.75 0 1 0 -3.5 0zM469.77 688.11a1.75 1.75 0 1 0 3.5 0a1.75 1.75 0 1 0 -3.5 0zM472.74 689.63a1.75 1.75 0 1 0 3.5 0a1.75 1.75 0 1 0 -3.5 0zM475.71 690.45a1.75 1.75 0 1 0 3.5 0a1.75 1.75 0 1 0 -3.5 0zM478.68 689.28a1.75 1.75 0 1 0 3.5 0a1.75 1.75 0 1 0 -3.5 0zM481.65 688.67a1.75 1.75 0 1 0 3.5 0a1.75 1.75 0 1 0 -3.5 0zM484.62 689.28a1.75 1.75 0 1 0 3.5 0a1.75 1.75 0 1 0 -3.5 0zM487.59 688.67a1.75 1.75 0 1 0 3.5 0a1.75 1.75 0 1 0 -3.5 0zM490.56 688.46a1.75 1.75 0 1 0 3.5 0a1.75 1.75 0 1 0 -3.5 0zM493.53 688.67a1.75 1.75 0 1 0 3.5 0a1.75 1.75 0 1 0 -3.5 0zM496.5 686.07a1.75 1.75 0 1 0 3.5 0a1.75 1.75 0 1 0 -3.5 0zM499.47 686.88a1.75 1.75 0 1 0 3.5 0a1.75 1.75 0 1 0 -3.5 0zM502.44 682.2a1.75 1.75 0 1 0 3.5 0a1.75 1.75 0 1 0 -3.5 0zM505.41 682.76a1.75 1.75 0 1 0 3.5 0a1.75 1.75 0 1 0 -3.5 0zM508.38 686.32a1.75 1.75 0 1 0 3.5 0a1.75 1.75 0 1 0 -3.5 0zM511.35 689.84a1.75 1.75 0 1 0 3.5 0a1.75 1.75 0 1 0 -3.5 0zM514.32 693.15a1.75 1.75 0 1 0 3.5 0a1.75 1.75 0 1 0 -3.5 0zM517.29 693.15a1.75 1.75 0 1 0 3.5 0a1.75 1.75 0 1 0 -3.5 0zM520.26 692.59a1.75 1.75 0 1 0 3.5 0a1.75 1.75 0 1 0 -3.5 0zM523.2 692.59a1.75 1.75 0 1 0 3.5 0a1.75 1.75 0 1 0 -3.5 0zM526.17 692.79a1.75 1.75 0 1 0 3.5 0a1.75 1.75 0 1 0 -3.5 0zM529.14 693.96a1.75 1.75 0 1 0 3.5 0a1.75 1.75 0 1 0 -3.5 0zM532.11 695.18a1.75 1.75 0 1 0 3.5 0a1.75 1.75 0 1 0 -3.5 0zM535.08 694.32a1.75 1.75 0 1 0 3.5 0a1.75 1.75 0 1 0 -3.5 0zM538.05 693.96a1.75 1.75 0 1 0 3.5 0a1.75 1.75 0 1 0 -3.5 0zM541.02 694.57a1.75 1.75 0 1 0 3.5 0a1.75 1.75 0 1 0 -3.5 0zM543.99 695.54a1.75 1.75 0 1 0 3.5 0a1.75 1.75 0 1 0 -3.5 0zM546.96 693.96a1.75 1.75 0 1 0 3.5 0a1.75 1.75 0 1 0 -3.5 0zM549.93 693.96a1.75 1.75 0 1 0 3.5 0a1.75 1.75 0 1 0 -3.5 0zM552.9 695.54a1.75 1.75 0 1 0 3.5 0a1.75 1.75 0 1 0 -3.5 0zM555.87 696a1.75 1.75 0 1 0 3.5 0a1.75 1.75 0 1 0 -3.5 0zM558.84 696.35a1.75 1.75 0 1 0 3.5 0a1.75 1.75 0 1 0 -3.5 0zM561.81 696.71a1.75 1.75 0 1 0 3.5 0a1.75 1.75 0 1 0 -3.5 0zM565.38 695.54a1.75 1.75 0 1 0 3.5 0a1.75 1.75 0 1 0 -3.5 0zM568.35 692.79a1.75 1.75 0 1 0 3.5 0a1.75 1.75 0 1 0 -3.5 0zM572.73 692.23a1.75 1.75 0 1 0 3.5 0a1.75 1.75 0 1 0 -3.5 0zM574.02 691.06a1.75 1.75 0 1 0 3.5 0a1.75 1.75 0 1 0 -3.5 0zM576.99 692.23a1.75 1.75 0 1 0 3.5 0a1.75 1.75 0 1 0 -3.5 0zM579.96 693.96a1.75 1.75 0 1 0 3.5 0a1.75 1.75 0 1 0 -3.5 0zM581.73 698.13a1.75 1.75 0 1 0 3.5 0a1.75 1.75 0 1 0 -3.5 0zM584.7 700.47a1.75 1.75 0 1 0 3.5 0a1.75 1.75 0 1 0 -3.5 0zM588.27 702.26a1.75 1.75 0 1 0 3.5 0a1.75 1.75 0 1 0 -3.5 0zM591.24 700.47a1.75 1.75 0 1 0 3.5 0a1.75 1.75 0 1 0 -3.5 0zM594.21 701.09a1.75 1.75 0 1 0 3.5 0a1.75 1.75 0 1 0 -3.5 0zM597.18 699.3a1.75 1.75 0 1 0 3.5 0a1.75 1.75 0 1 0 -3.5 0zM600.75 700.47a1.75 1.75 0 1 0 3.5 0a1.75 1.75 0 1 0 -3.5 0zM603.72 700.47a1.75 1.75 0 1 0 3.5 0a1.75 1.75 0 1 0 -3.5 0zM606.69 701.65a1.75 1.75 0 1 0 3.5 0a1.75 1.75 0 1 0 -3.5 0zM609.66 703.43a1.75 1.75 0 1 0 3.5 0a1.75 1.75 0 1 0 -3.5 0zM612.63 702.82a1.75 1.75 0 1 0 3.5 0a1.75 1.75 0 1 0 -3.5 0zM615.6 703.07a1.75 1.75 0 1 0 3.5 0a1.75 1.75 0 1 0 -3.5 0zM618.57 703.99a1.75 1.75 0 1 0 3.5 0a1.75 1.75 0 1 0 -3.5 0zM621.54 702.26a1.75 1.75 0 1 0 3.5 0a1.75 1.75 0 1 0 -3.5 0zM624.51 699.86a1.75 1.75 0 1 0 3.5 0a1.75 1.75 0 1 0 -3.5 0zM627.48 701.09a1.75 1.75 0 1 0 3.5 0a1.75 1.75 0 1 0 -3.5 0zM631.02 701.39a1.75 1.75 0 1 0 3.5 0a1.75 1.75 0 1 0 -3.5 0zM633.99 700.47a1.75 1.75 0 1 0 3.5 0a1.75 1.75 0 1 0 -3.5 0zM636.96 700.22a1.75 1.75 0 1 0 3.5 0a1.75 1.75 0 1 0 -3.5 0zM639.93 701.39a1.75 1.75 0 1 0 3.5 0a1.75 1.75 0 1 0 -3.5 0zM642.9 698.69a1.75 1.75 0 1 0 3.5 0a1.75 1.75 0 1 0 -3.5 0zM645.87 694.57a1.75 1.75 0 1 0 3.5 0a1.75 1.75 0 1 0 -3.5 0zM648.24 697.17a1.75 1.75 0 1 0 3.5 0a1.75 1.75 0 1 0 -3.5 0zM651.21 696.91a1.75 1.75 0 1 0 3.5 0a1.75 1.75 0 1 0 -3.5 0zM654.18 696.91a1.75 1.75 0 1 0 3.5 0a1.75 1.75 0 1 0 -3.5 0zM657.75 699.05a1.75 1.75 0 1 0 3.5 0a1.75 1.75 0 1 0 -3.5 0zM659.52 699.86a1.75 1.75 0 1 0 3.5 0a1.75 1.75 0 1 0 -3.5 0zM662.49 702.61a1.75 1.75 0 1 0 3.5 0a1.75 1.75 0 1 0 -3.5 0zM665.46 703.99a1.75 1.75 0 1 0 3.5 0a1.75 1.75 0 1 0 -3.5 0zM669.03 703.07a1.75 1.75 0 1 0 3.5 0a1.75 1.75 0 1 0 -3.5 0zM672 703.07a1.75 1.75 0 1 0 3.5 0a1.75 1.75 0 1 0 -3.5 0zM674.97 703.99a1.75 1.75 0 1 0 3.5 0a1.75 1.75 0 1 0 -3.5 0zM677.94 703.99a1.75 1.75 0 1 0 3.5 0a1.75 1.75 0 1 0 -3.5 0zM680.91 702.82a1.75 1.75 0 1 0 3.5 0a1.75 1.75 0 1 0 -3.5 0zM683.88 701.9a1.75 1.75 0 1 0 3.5 0a1.75 1.75 0 1 0 -3.5 0zM686.85 702.61a1.75 1.75 0 1 0 3.5 0a1.75 1.75 0 1 0 -3.5 0zM689.82 703.07a1.75 1.75 0 1 0 3.5 0a1.75 1.75 0 1 0 -3.5 0zM692.79 702.82a1.75 1.75 0 1 0 3.5 0a1.75 1.75 0 1 0 -3.5 0zM695.76 702.26a1.75 1.75 0 1 0 3.5 0a1.75 1.75 0 1 0 -3.5 0zM698.73 703.99a1.75 1.75 0 1 0 3.5 0a1.75 1.75 0 1 0 -3.5 0zM701.7 702.82a1.75 1.75 0 1 0 3.5 0a1.75 1.75 0 1 0 -3.5 0zM704.67 701.09a1.75 1.75 0 1 0 3.5 0a1.75 1.75 0 1 0 -3.5 0zM707.64 699.86a1.75 1.75 0 1 0 3.5 0a1.75 1.75 0 1 0 -3.5 0zM710.61 699.86a1.75 1.75 0 1 0 3.5 0a1.75 1.75 0 1 0 -3.5 0zM713.58 699.86a1.75 1.75 0 1 0 3.5 0a1.75 1.75 0 1 0 -3.5 0zM716.55 702.26a1.75 1.75 0 1 0 3.5 0a1.75 1.75 0 1 0 -3.5 0zM719.52 699.3a1.75 1.75 0 1 0 3.5 0a1.75 1.75 0 1 0 -3.5 0zM722.49 699.86a1.75 1.75 0 1 0 3.5 0a1.75 1.75 0 1 0 -3.5 0zM726.06 700.47a1.75 1.75 0 1 0 3.5 0a1.75 1.75 0 1 0 -3.5 0zM729.03 701.39a1.75 1.75 0 1 0 3.5 0a1.75 1.75 0 1 0 -3.5 0zM732 703.07a1.75 1.75 0 1 0 3.5 0a1.75 1.75 0 1 0 -3.5 0zM734.97 703.99a1.75 1.75 0 1 0 3.5 0a1.75 1.75 0 1 0 -3.5 0zM737.94 700.22a1.75 1.75 0 1 0 3.5 0a1.75 1.75 0 1 0 -3.5 0z" fill="#0000a8"/>
<polyline points="81.1,936.6 82.84,889.16 86.11,852.06 89.59,825.94 91.93,800.8 95.8,779.93 98.29,766.8 101.59,755.75 104.68,748.02 107.98,742.82 111.25,736.41 113.77,731.63 116.56,728.16 120.13,724.6 123.1,721.04 126.07,717.48 129.01,714.52 131.38,706.79 133.78,704.39 136.72,702.05 139.69,699.1 143.26,693.96 146.23,697.06 149.2,701.44 152.17,705.36 155.14,710.35 158.68,714.52 161.05,714.52 164.02,710.96 166.99,707.96 169.96,702.61 172.93,697.88 175.9,691.97 178.87,687.8 181.81,684.49 184.78,681.9 187.75,680.67 190.72,678.89 193.69,675.94 196.66,674.77 199.63,673.35 202.6,671.77 206.14,670.95 209.71,668.82 212.68,666.22 215.65,663.47 218.02,661.69 220.39,652.78 225.91,771.23 229.39,783.8 233.05,771.23 235.57,758.3 238.48,755.75 242.35,752.49 245.23,751.32 247.75,748.98 251.05,744.15 254.32,740.28 258.01,737.02 261.88,734.83 265.42,734.48 268.39,731.63 271.96,728.93 274.93,728.06 277.3,723.58 280.27,718.8 283.81,715.24 285.61,711.11 289.15,712.64 292.12,714.07 295.69,714.68 298.66,714.07 301.63,713.51 304.57,713.51 307.54,712.28 310.51,711.11 313.48,709.94 316.45,708.72 319.42,705.51 322.39,703.38 325.36,702.21 328.3,700.78 331.87,698.9 334.84,700.42 337.81,696.86 340.78,695.33 343.75,695.08 346.12,696.05 349.09,694.88 352.03,694.16 355,693.3 357.97,694.52 360.94,694.52 363.91,694.52 366.88,694.52 369.85,695.08 372.82,695.69 375.76,696.05 378.73,697.22 381.7,696.86 385.27,698.39 388.24,698.39 390.61,702.21 394.18,703.63 397.12,704.8 400.09,706.94 403.06,708.72 406.03,711.93 409,713.51 411.97,715.85 414.94,718.8 417.91,722.62 420.85,724.75 423.25,726.89 426.19,725.72 429.16,724.5 431.86,731.07 435.43,735.34 438.4,736.21 440.77,741.55 443.74,746.49 447.28,750.05 450.25,754.58 453.82,757.53 456.19,761.45 459.16,765.47 462.13,768.58 465.1,772.4 468.07,775.71 471.01,778.3 473.98,781.61 476.95,786.04 479.92,789.6 482.89,792.55 486.46,795.15 489.4,799.42 492.37,803.24 495.34,805.58 498.31,807.98 501.28,811.54 504.25,812.15 506.62,815.36 509.59,819.22 512.56,822.79 515.53,825.54 518.47,828.39 521.44,831.95 524.41,834.7 524.35,834.9 528.01,838.57 531.64,842.49 535.99,846.25 540.37,849.76 544.72,853.53 549.1,855.97 553.45,858.93 557.83,862.85 562.18,865.75 566.53,868.65 570.91,870.53 575.26,873.43 579.64,875.93 583.99,879.69 588.37,881.42 592.72,884.07 597.07,886.51 601.45,888.7 605.8,890.89 610.18,892.37 614.53,894.25 618.91,895.98 623.26,897.71 627.64,899.19 631.99,900.36 636.34,902.09 640.72,903.26 645.07,903.97 649.45,905.91 653.8,906.93 658.18,908.35 662.53,910.54 666.91,911.71 671.26,912.73 675.61,913.75 679.99,914.92 684.34,915.63 688.72,916.65 693.07,917.51 697.45,918.53 701.8,919.55 706.18,920.72 710.53,921.43 714.88,922.2 719.26,922.91 723.61,923.62 727.99,923.93 732.34,924.79 736.72,925.35 739.63,925.35" fill="none" stroke="#bb1010" stroke-width="1.1" stroke-linejoin="round"/>
<path d="M79.35 936.6a1.75 1.75 0 1 0 3.5 0a1.75 1.75 0 1 0 -3.5 0zM81.09 889.16a1.75 1.75 0 1 0 3.5 0a1.75 1.75 0 1 0 -3.5 0zM84.36 852.06a1.75 1.75 0 1 0 3.5 0a1.75 1.75 0 1 0 -3.5 0zM87.84 825.94a1.75 1.75 0 1 0 3.5 0a1.75 1.75 0 1 0 -3.5 0zM90.18 800.8a1.75 1.75 0 1 0 3.5 0a1.75 1.75 0 1 0 -3.5 0zM94.05 779.93a1.75 1.75 0 1 0 3.5 0a1.75 1.75 0 1 0 -3.5 0zM96.54 766.8a1.75 1.75 0 1 0 3.5 0a1.75 1.75 0 1 0 -3.5 0zM99.84 755.75a1.75 1.75 0 1 0 3.5 0a1.75 1.75 0 1 0 -3.5 0zM102.93 748.02a1.75 1.75 0 1 0 3.5 0a1.75 1.75 0 1 0 -3.5 0zM106.23 742.82a1.75 1.75 0 1 0 3.5 0a1.75 1.75 0 1 0 -3.5 0zM109.5 736.41a1.75 1.75 0 1 0 3.5 0a1.75 1.75 0 1 0 -3.5 0zM112.02 731.63a1.75 1.75 0 1 0 3.5 0a1.75 1.75 0 1 0 -3.5 0zM114.81 728.16a1.75 1.75 0 1 0 3.5 0a1.75 1.75 0 1 0 -3.5 0zM118.38 724.6a1.75 1.75 0 1 0 3.5 0a1.75 1.75 0 1 0 -3.5 0zM121.35 721.04a1.75 1.75 0 1 0 3.5 0a1.75 1.75 0 1 0 -3.5 0zM124.32 717.48a1.75 1.75 0 1 0 3.5 0a1.75 1.75 0 1 0 -3.5 0zM127.26 714.52a1.75 1.75 0 1 0 3.5 0a1.75 1.75 0 1 0 -3.5 0zM129.63 706.79a1.75 1.75 0 1 0 3.5 0a1.75 1.75 0 1 0 -3.5 0zM132.03 704.39a1.75 1.75 0 1 0 3.5 0a1.75 1.75 0 1 0 -3.5 0zM134.97 702.05a1.75 1.75 0 1 0 3.5 0a1.75 1.75 0 1 0 -3.5 0zM137.94 699.1a1.75 1.75 0 1 0 3.5 0a1.75 1.75 0 1 0 -3.5 0zM141.51 693.96a1.75 1.75 0 1 0 3.5 0a1.75 1.75 0 1 0 -3.5 0zM144.48 697.06a1.75 1.75 0 1 0 3.5 0a1.75 1.75 0 1 0 -3.5 0zM147.45 701.44a1.75 1.75 0 1 0 3.5 0a1.75 1.75 0 1 0 -3.5 0zM150.42 705.36a1.75 1.75 0 1 0 3.5 0a1.75 1.75 0 1 0 -3.5 0zM153.39 710.35a1.75 1.75 0 1 0 3.5 0a1.75 1.75 0 1 0 -3.5 0zM156.93 714.52a1.75 1.75 0 1 0 3.5 0a1.75 1.75 0 1 0 -3.5 0zM159.3 714.52a1.75 1.75 0 1 0 3.5 0a1.75 1.75 0 1 0 -3.5 0zM162.27 710.96a1.75 1.75 0 1 0 3.5 0a1.75 1.75 0 1 0 -3.5 0zM165.24 707.96a1.75 1.75 0 1 0 3.5 0a1.75 1.75 0 1 0 -3.5 0zM168.21 702.61a1.75 1.75 0 1 0 3.5 0a1.75 1.75 0 1 0 -3.5 0zM171.18 697.88a1.75 1.75 0 1 0 3.5 0a1.75 1.75 0 1 0 -3.5 0zM174.15 691.97a1.75 1.75 0 1 0 3.5 0a1.75 1.75 0 1 0 -3.5 0zM177.12 687.8a1.75 1.75 0 1 0 3.5 0a1.75 1.75 0 1 0 -3.5 0zM180.06 684.49a1.75 1.75 0 1 0 3.5 0a1.75 1.75 0 1 0 -3.5 0zM183.03 681.9a1.75 1.75 0 1 0 3.5 0a1.75 1.75 0 1 0 -3.5 0zM186 680.67a1.75 1.75 0 1 0 3.5 0a1.75 1.75 0 1 0 -3.5 0zM188.97 678.89a1.75 1.75 0 1 0 3.5 0a1.75 1.75 0 1 0 -3.5 0zM191.94 675.94a1.75 1.75 0 1 0 3.5 0a1.75 1.75 0 1 0 -3.5 0zM194.91 674.77a1.75 1.75 0 1 0 3.5 0a1.75 1.75 0 1 0 -3.5 0zM197.88 673.35a1.75 1.75 0 1 0 3.5 0a1.75 1.75 0 1 0 -3.5 0zM200.85 671.77a1.75 1.75 0 1 0 3.5 0a1.75 1.75 0 1 0 -3.5 0zM204.39 670.95a1.75 1.75 0 1 0 3.5 0a1.75 1.75 0 1 0 -3.5 0zM207.96 668.82a1.75 1.75 0 1 0 3.5 0a1.75 1.75 0 1 0 -3.5 0zM210.93 666.22a1.75 1.75 0 1 0 3.5 0a1.75 1.75 0 1 0 -3.5 0zM213.9 663.47a1.75 1.75 0 1 0 3.5 0a1.75 1.75 0 1 0 -3.5 0zM216.27 661.69a1.75 1.75 0 1 0 3.5 0a1.75 1.75 0 1 0 -3.5 0zM218.64 652.78a1.75 1.75 0 1 0 3.5 0a1.75 1.75 0 1 0 -3.5 0zM221.4 712a1.75 1.75 0 1 0 3.5 0a1.75 1.75 0 1 0 -3.5 0zM224.16 771.23a1.75 1.75 0 1 0 3.5 0a1.75 1.75 0 1 0 -3.5 0zM227.64 783.8a1.75 1.75 0 1 0 3.5 0a1.75 1.75 0 1 0 -3.5 0zM231.3 771.23a1.75 1.75 0 1 0 3.5 0a1.75 1.75 0 1 0 -3.5 0zM233.82 758.3a1.75 1.75 0 1 0 3.5 0a1.75 1.75 0 1 0 -3.5 0zM236.73 755.75a1.75 1.75 0 1 0 3.5 0a1.75 1.75 0 1 0 -3.5 0zM240.6 752.49a1.75 1.75 0 1 0 3.5 0a1.75 1.75 0 1 0 -3.5 0zM243.48 751.32a1.75 1.75 0 1 0 3.5 0a1.75 1.75 0 1 0 -3.5 0zM246 748.98a1.75 1.75 0 1 0 3.5 0a1.75 1.75 0 1 0 -3.5 0zM249.3 744.15a1.75 1.75 0 1 0 3.5 0a1.75 1.75 0 1 0 -3.5 0zM252.57 740.28a1.75 1.75 0 1 0 3.5 0a1.75 1.75 0 1 0 -3.5 0zM256.26 737.02a1.75 1.75 0 1 0 3.5 0a1.75 1.75 0 1 0 -3.5 0zM260.13 734.83a1.75 1.75 0 1 0 3.5 0a1.75 1.75 0 1 0 -3.5 0zM263.67 734.48a1.75 1.75 0 1 0 3.5 0a1.75 1.75 0 1 0 -3.5 0zM266.64 731.63a1.75 1.75 0 1 0 3.5 0a1.75 1.75 0 1 0 -3.5 0zM270.21 728.93a1.75 1.75 0 1 0 3.5 0a1.75 1.75 0 1 0 -3.5 0zM273.18 728.06a1.75 1.75 0 1 0 3.5 0a1.75 1.75 0 1 0 -3.5 0zM275.55 723.58a1.75 1.75 0 1 0 3.5 0a1.75 1.75 0 1 0 -3.5 0zM278.52 718.8a1.75 1.75 0 1 0 3.5 0a1.75 1.75 0 1 0 -3.5 0zM282.06 715.24a1.75 1.75 0 1 0 3.5 0a1.75 1.75 0 1 0 -3.5 0zM283.86 711.11a1.75 1.75 0 1 0 3.5 0a1.75 1.75 0 1 0 -3.5 0zM287.4 712.64a1.75 1.75 0 1 0 3.5 0a1.75 1.75 0 1 0 -3.5 0zM290.37 714.07a1.75 1.75 0 1 0 3.5 0a1.75 1.75 0 1 0 -3.5 0zM293.94 714.68a1.75 1.75 0 1 0 3.5 0a1.75 1.75 0 1 0 -3.5 0zM296.91 714.07a1.75 1.75 0 1 0 3.5 0a1.75 1.75 0 1 0 -3.5 0zM299.88 713.51a1.75 1.75 0 1 0 3.5 0a1.75 1.75 0 1 0 -3.5 0zM302.82 713.51a1.75 1.75 0 1 0 3.5 0a1.75 1.75 0 1 0 -3.5 0zM305.79 712.28a1.75 1.75 0 1 0 3.5 0a1.75 1.75 0 1 0 -3.5 0zM308.76 711.11a1.75 1.75 0 1 0 3.5 0a1.75 1.75 0 1 0 -3.5 0zM311.73 709.94a1.75 1.75 0 1 0 3.5 0a1.75 1.75 0 1 0 -3.5 0zM314.7 708.72a1.75 1.75 0 1 0 3.5 0a1.75 1.75 0 1 0 -3.5 0zM317.67 705.51a1.75 1.75 0 1 0 3.5 0a1.75 1.75 0 1 0 -3.5 0zM320.64 703.38a1.75 1.75 0 1 0 3.5 0a1.75 1.75 0 1 0 -3.5 0zM323.61 702.21a1.75 1.75 0 1 0 3.5 0a1.75 1.75 0 1 0 -3.5 0zM326.55 700.78a1.75 1.75 0 1 0 3.5 0a1.75 1.75 0 1 0 -3.5 0zM330.12 698.9a1.75 1.75 0 1 0 3.5 0a1.75 1.75 0 1 0 -3.5 0zM333.09 700.42a1.75 1.75 0 1 0 3.5 0a1.75 1.75 0 1 0 -3.5 0zM336.06 696.86a1.75 1.75 0 1 0 3.5 0a1.75 1.75 0 1 0 -3.5 0zM339.03 695.33a1.75 1.75 0 1 0 3.5 0a1.75 1.75 0 1 0 -3.5 0zM342 695.08a1.75 1.75 0 1 0 3.5 0a1.75 1.75 0 1 0 -3.5 0zM344.37 696.05a1.75 1.75 0 1 0 3.5 0a1.75 1.75 0 1 0 -3.5 0zM347.34 694.88a1.75 1.75 0 1 0 3.5 0a1.75 1.75 0 1 0 -3.5 0zM350.28 694.16a1.75 1.75 0 1 0 3.5 0a1.75 1.75 0 1 0 -3.5 0zM353.25 693.3a1.75 1.75 0 1 0 3.5 0a1.75 1.75 0 1 0 -3.5 0zM356.22 694.52a1.75 1.75 0 1 0 3.5 0a1.75 1.75 0 1 0 -3.5 0zM359.19 694.52a1.75 1.75 0 1 0 3.5 0a1.75 1.75 0 1 0 -3.5 0zM362.16 694.52a1.75 1.75 0 1 0 3.5 0a1.75 1.75 0 1 0 -3.5 0zM365.13 694.52a1.75 1.75 0 1 0 3.5 0a1.75 1.75 0 1 0 -3.5 0zM368.1 695.08a1.75 1.75 0 1 0 3.5 0a1.75 1.75 0 1 0 -3.5 0zM371.07 695.69a1.75 1.75 0 1 0 3.5 0a1.75 1.75 0 1 0 -3.5 0zM374.01 696.05a1.75 1.75 0 1 0 3.5 0a1.75 1.75 0 1 0 -3.5 0zM376.98 697.22a1.75 1.75 0 1 0 3.5 0a1.75 1.75 0 1 0 -3.5 0zM379.95 696.86a1.75 1.75 0 1 0 3.5 0a1.75 1.75 0 1 0 -3.5 0zM383.52 698.39a1.75 1.75 0 1 0 3.5 0a1.75 1.75 0 1 0 -3.5 0zM386.49 698.39a1.75 1.75 0 1 0 3.5 0a1.75 1.75 0 1 0 -3.5 0zM388.86 702.21a1.75 1.75 0 1 0 3.5 0a1.75 1.75 0 1 0 -3.5 0zM392.43 703.63a1.75 1.75 0 1 0 3.5 0a1.75 1.75 0 1 0 -3.5 0zM395.37 704.8a1.75 1.75 0 1 0 3.5 0a1.75 1.75 0 1 0 -3.5 0zM398.34 706.94a1.75 1.75 0 1 0 3.5 0a1.75 1.75 0 1 0 -3.5 0zM401.31 708.72a1.75 1.75 0 1 0 3.5 0a1.75 1.75 0 1 0 -3.5 0zM404.28 711.93a1.75 1.75 0 1 0 3.5 0a1.75 1.75 0 1 0 -3.5 0zM407.25 713.51a1.75 1.75 0 1 0 3.5 0a1.75 1.75 0 1 0 -3.5 0zM410.22 715.85a1.75 1.75 0 1 0 3.5 0a1.75 1.75 0 1 0 -3.5 0zM413.19 718.8a1.75 1.75 0 1 0 3.5 0a1.75 1.75 0 1 0 -3.5 0zM416.16 722.62a1.75 1.75 0 1 0 3.5 0a1.75 1.75 0 1 0 -3.5 0zM419.1 724.75a1.75 1.75 0 1 0 3.5 0a1.75 1.75 0 1 0 -3.5 0zM421.5 726.89a1.75 1.75 0 1 0 3.5 0a1.75 1.75 0 1 0 -3.5 0zM424.44 725.72a1.75 1.75 0 1 0 3.5 0a1.75 1.75 0 1 0 -3.5 0zM427.41 724.5a1.75 1.75 0 1 0 3.5 0a1.75 1.75 0 1 0 -3.5 0zM430.11 731.07a1.75 1.75 0 1 0 3.5 0a1.75 1.75 0 1 0 -3.5 0zM433.68 735.34a1.75 1.75 0 1 0 3.5 0a1.75 1.75 0 1 0 -3.5 0zM436.65 736.21a1.75 1.75 0 1 0 3.5 0a1.75 1.75 0 1 0 -3.5 0zM439.02 741.55a1.75 1.75 0 1 0 3.5 0a1.75 1.75 0 1 0 -3.5 0zM441.99 746.49a1.75 1.75 0 1 0 3.5 0a1.75 1.75 0 1 0 -3.5 0zM445.53 750.05a1.75 1.75 0 1 0 3.5 0a1.75 1.75 0 1 0 -3.5 0zM448.5 754.58a1.75 1.75 0 1 0 3.5 0a1.75 1.75 0 1 0 -3.5 0zM452.07 757.53a1.75 1.75 0 1 0 3.5 0a1.75 1.75 0 1 0 -3.5 0zM454.44 761.45a1.75 1.75 0 1 0 3.5 0a1.75 1.75 0 1 0 -3.5 0zM457.41 765.47a1.75 1.75 0 1 0 3.5 0a1.75 1.75 0 1 0 -3.5 0zM460.38 768.58a1.75 1.75 0 1 0 3.5 0a1.75 1.75 0 1 0 -3.5 0zM463.35 772.4a1.75 1.75 0 1 0 3.5 0a1.75 1.75 0 1 0 -3.5 0zM466.32 775.71a1.75 1.75 0 1 0 3.5 0a1.75 1.75 0 1 0 -3.5 0zM469.26 778.3a1.75 1.75 0 1 0 3.5 0a1.75 1.75 0 1 0 -3.5 0zM472.23 781.61a1.75 1.75 0 1 0 3.5 0a1.75 1.75 0 1 0 -3.5 0zM475.2 786.04a1.75 1.75 0 1 0 3.5 0a1.75 1.75 0 1 0 -3.5 0zM478.17 789.6a1.75 1.75 0 1 0 3.5 0a1.75 1.75 0 1 0 -3.5 0zM481.14 792.55a1.75 1.75 0 1 0 3.5 0a1.75 1.75 0 1 0 -3.5 0zM484.71 795.15a1.75 1.75 0 1 0 3.5 0a1.75 1.75 0 1 0 -3.5 0zM487.65 799.42a1.75 1.75 0 1 0 3.5 0a1.75 1.75 0 1 0 -3.5 0zM490.62 803.24a1.75 1.75 0 1 0 3.5 0a1.75 1.75 0 1 0 -3.5 0zM493.59 805.58a1.75 1.75 0 1 0 3.5 0a1.75 1.75 0 1 0 -3.5 0zM496.56 807.98a1.75 1.75 0 1 0 3.5 0a1.75 1.75 0 1 0 -3.5 0zM499.53 811.54a1.75 1.75 0 1 0 3.5 0a1.75 1.75 0 1 0 -3.5 0zM502.5 812.15a1.75 1.75 0 1 0 3.5 0a1.75 1.75 0 1 0 -3.5 0zM504.87 815.36a1.75 1.75 0 1 0 3.5 0a1.75 1.75 0 1 0 -3.5 0zM507.84 819.22a1.75 1.75 0 1 0 3.5 0a1.75 1.75 0 1 0 -3.5 0zM510.81 822.79a1.75 1.75 0 1 0 3.5 0a1.75 1.75 0 1 0 -3.5 0zM513.78 825.54a1.75 1.75 0 1 0 3.5 0a1.75 1.75 0 1 0 -3.5 0zM516.72 828.39a1.75 1.75 0 1 0 3.5 0a1.75 1.75 0 1 0 -3.5 0zM519.69 831.95a1.75 1.75 0 1 0 3.5 0a1.75 1.75 0 1 0 -3.5 0zM522.66 834.7a1.75 1.75 0 1 0 3.5 0a1.75 1.75 0 1 0 -3.5 0zM522.6 834.9a1.75 1.75 0 1 0 3.5 0a1.75 1.75 0 1 0 -3.5 0zM526.26 838.57a1.75 1.75 0 1 0 3.5 0a1.75 1.75 0 1 0 -3.5 0zM529.89 842.49a1.75 1.75 0 1 0 3.5 0a1.75 1.75 0 1 0 -3.5 0zM534.24 846.25a1.75 1.75 0 1 0 3.5 0a1.75 1.75 0 1 0 -3.5 0zM538.62 849.76a1.75 1.75 0 1 0 3.5 0a1.75 1.75 0 1 0 -3.5 0zM542.97 853.53a1.75 1.75 0 1 0 3.5 0a1.75 1.75 0 1 0 -3.5 0zM547.35 855.97a1.75 1.75 0 1 0 3.5 0a1.75 1.75 0 1 0 -3.5 0zM551.7 858.93a1.75 1.75 0 1 0 3.5 0a1.75 1.75 0 1 0 -3.5 0zM556.08 862.85a1.75 1.75 0 1 0 3.5 0a1.75 1.75 0 1 0 -3.5 0zM560.43 865.75a1.75 1.75 0 1 0 3.5 0a1.75 1.75 0 1 0 -3.5 0zM564.78 868.65a1.75 1.75 0 1 0 3.5 0a1.75 1.75 0 1 0 -3.5 0zM569.16 870.53a1.75 1.75 0 1 0 3.5 0a1.75 1.75 0 1 0 -3.5 0zM573.51 873.43a1.75 1.75 0 1 0 3.5 0a1.75 1.75 0 1 0 -3.5 0zM577.89 875.93a1.75 1.75 0 1 0 3.5 0a1.75 1.75 0 1 0 -3.5 0zM582.24 879.69a1.75 1.75 0 1 0 3.5 0a1.75 1.75 0 1 0 -3.5 0zM586.62 881.42a1.75 1.75 0 1 0 3.5 0a1.75 1.75 0 1 0 -3.5 0zM590.97 884.07a1.75 1.75 0 1 0 3.5 0a1.75 1.75 0 1 0 -3.5 0zM595.32 886.51a1.75 1.75 0 1 0 3.5 0a1.75 1.75 0 1 0 -3.5 0zM599.7 888.7a1.75 1.75 0 1 0 3.5 0a1.75 1.75 0 1 0 -3.5 0zM604.05 890.89a1.75 1.75 0 1 0 3.5 0a1.75 1.75 0 1 0 -3.5 0zM608.43 892.37a1.75 1.75 0 1 0 3.5 0a1.75 1.75 0 1 0 -3.5 0zM612.78 894.25a1.75 1.75 0 1 0 3.5 0a1.75 1.75 0 1 0 -3.5 0zM617.16 895.98a1.75 1.75 0 1 0 3.5 0a1.75 1.75 0 1 0 -3.5 0zM621.51 897.71a1.75 1.75 0 1 0 3.5 0a1.75 1.75 0 1 0 -3.5 0zM625.89 899.19a1.75 1.75 0 1 0 3.5 0a1.75 1.75 0 1 0 -3.5 0zM630.24 900.36a1.75 1.75 0 1 0 3.5 0a1.75 1.75 0 1 0 -3.5 0zM634.59 902.09a1.75 1.75 0 1 0 3.5 0a1.75 1.75 0 1 0 -3.5 0zM638.97 903.26a1.75 1.75 0 1 0 3.5 0a1.75 1.75 0 1 0 -3.5 0zM643.32 903.97a1.75 1.75 0 1 0 3.5 0a1.75 1.75 0 1 0 -3.5 0zM647.7 905.91a1.75 1.75 0 1 0 3.5 0a1.75 1.75 0 1 0 -3.5 0zM652.05 906.93a1.75 1.75 0 1 0 3.5 0a1.75 1.75 0 1 0 -3.5 0zM656.43 908.35a1.75 1.75 0 1 0 3.5 0a1.75 1.75 0 1 0 -3.5 0zM660.78 910.54a1.75 1.75 0 1 0 3.5 0a1.75 1.75 0 1 0 -3.5 0zM665.16 911.71a1.75 1.75 0 1 0 3.5 0a1.75 1.75 0 1 0 -3.5 0zM669.51 912.73a1.75 1.75 0 1 0 3.5 0a1.75 1.75 0 1 0 -3.5 0zM673.86 913.75a1.75 1.75 0 1 0 3.5 0a1.75 1.75 0 1 0 -3.5 0zM678.24 914.92a1.75 1.75 0 1 0 3.5 0a1.75 1.75 0 1 0 -3.5 0zM682.59 915.63a1.75 1.75 0 1 0 3.5 0a1.75 1.75 0 1 0 -3.5 0zM686.97 916.65a1.75 1.75 0 1 0 3.5 0a1.75 1.75 0 1 0 -3.5 0zM691.32 917.51a1.75 1.75 0 1 0 3.5 0a1.75 1.75 0 1 0 -3.5 0zM695.7 918.53a1.75 1.75 0 1 0 3.5 0a1.75 1.75 0 1 0 -3.5 0zM700.05 919.55a1.75 1.75 0 1 0 3.5 0a1.75 1.75 0 1 0 -3.5 0zM704.43 920.72a1.75 1.75 0 1 0 3.5 0a1.75 1.75 0 1 0 -3.5 0zM708.78 921.43a1.75 1.75 0 1 0 3.5 0a1.75 1.75 0 1 0 -3.5 0zM713.13 922.2a1.75 1.75 0 1 0 3.5 0a1.75 1.75 0 1 0 -3.5 0zM717.51 922.91a1.75 1.75 0 1 0 3.5 0a1.75 1.75 0 1 0 -3.5 0zM721.86 923.62a1.75 1.75 0 1 0 3.5 0a1.75 1.75 0 1 0 -3.5 0zM726.24 923.93a1.75 1.75 0 1 0 3.5 0a1.75 1.75 0 1 0 -3.5 0zM730.59 924.79a1.75 1.75 0 1 0 3.5 0a1.75 1.75 0 1 0 -3.5 0zM734.97 925.35a1.75 1.75 0 1 0 3.5 0a1.75 1.75 0 1 0 -3.5 0zM737.88 925.35a1.75 1.75 0 1 0 3.5 0a1.75 1.75 0 1 0 -3.5 0z" fill="#b00008"/>
<path d="M220.05 572.2V599.17" stroke="#ff0000" stroke-width="4.4" fill="none"/><path d="M212.38 586.48L220.05 599.17L227.72 586.48" stroke="#ff0000" stroke-width="5.0" fill="none" stroke-linejoin="miter" stroke-miterlimit="20" stroke-linecap="round"/>
<path d="M879.3 887.52H1537.3M879.3 837.54H1537.3M879.3 787.56H1537.3M879.3 737.58H1537.3M879.3 687.6H1537.3M879.3 637.62H1537.3M879.3 587.64H1537.3M1029.3 583.2V937.5M1179.3 583.2V937.5M1329.3 583.2V937.5M1479.3 583.2V937.5" stroke="#989898" stroke-width="1.5" stroke-dasharray="1.6 1.56" fill="none"/>
<path d="M894.3 937.5v-3.3M909.3 937.5v-3.3M924.3 937.5v-3.3M939.3 937.5v-3.3M954.3 937.5v-3.3M969.3 937.5v-3.3M984.3 937.5v-3.3M999.3 937.5v-3.3M1014.3 937.5v-3.3M1029.3 937.5v-6.6M1044.3 937.5v-3.3M1059.3 937.5v-3.3M1074.3 937.5v-3.3M1089.3 937.5v-3.3M1104.3 937.5v-3.3M1119.3 937.5v-3.3M1134.3 937.5v-3.3M1149.3 937.5v-3.3M1164.3 937.5v-3.3M1179.3 937.5v-6.6M1194.3 937.5v-3.3M1209.3 937.5v-3.3M1224.3 937.5v-3.3M1239.3 937.5v-3.3M1254.3 937.5v-3.3M1269.3 937.5v-3.3M1284.3 937.5v-3.3M1299.3 937.5v-3.3M1314.3 937.5v-3.3M1329.3 937.5v-6.6M1344.3 937.5v-3.3M1359.3 937.5v-3.3M1374.3 937.5v-3.3M1389.3 937.5v-3.3M1404.3 937.5v-3.3M1419.3 937.5v-3.3M1434.3 937.5v-3.3M1449.3 937.5v-3.3M1464.3 937.5v-3.3M1479.3 937.5v-6.6M1494.3 937.5v-3.3M1509.3 937.5v-3.3M1524.3 937.5v-3.3M879.3 932.5h3.5M879.3 927.5h3.5M879.3 922.51h3.5M879.3 917.51h3.5M879.3 912.51h6.4M879.3 907.51h3.5M879.3 902.51h3.5M879.3 897.52h3.5M879.3 892.52h3.5M879.3 887.52h9.5M879.3 882.52h3.5M879.3 877.52h3.5M879.3 872.53h3.5M879.3 867.53h3.5M879.3 862.53h6.4M879.3 857.53h3.5M879.3 852.53h3.5M879.3 847.54h3.5M879.3 842.54h3.5M879.3 837.54h9.5M879.3 832.54h3.5M879.3 827.54h3.5M879.3 822.55h3.5M879.3 817.55h3.5M879.3 812.55h6.4M879.3 807.55h3.5M879.3 802.55h3.5M879.3 797.56h3.5M879.3 792.56h3.5M879.3 787.56h9.5M879.3 782.56h3.5M879.3 777.56h3.5M879.3 772.57h3.5M879.3 767.57h3.5M879.3 762.57h6.4M879.3 757.57h3.5M879.3 752.57h3.5M879.3 747.58h3.5M879.3 742.58h3.5M879.3 737.58h9.5M879.3 732.58h3.5M879.3 727.58h3.5M879.3 722.59h3.5M879.3 717.59h3.5M879.3 712.59h6.4M879.3 707.59h3.5M879.3 702.59h3.5M879.3 697.6h3.5M879.3 692.6h3.5M879.3 687.6h9.5M879.3 682.6h3.5M879.3 677.6h3.5M879.3 672.61h3.5M879.3 667.61h3.5M879.3 662.61h6.4M879.3 657.61h3.5M879.3 652.61h3.5M879.3 647.62h3.5M879.3 642.62h3.5M879.3 637.62h9.5M879.3 632.62h3.5M879.3 627.62h3.5M879.3 622.63h3.5M879.3 617.63h3.5M879.3 612.63h6.4M879.3 607.63h3.5M879.3 602.63h3.5M879.3 597.64h3.5M879.3 592.64h3.5M879.3 587.64h9.5M892.46 574.2v3.3M905.62 574.2v3.3M918.78 574.2v3.3M931.94 574.2v3.3M945.1 574.2v3.3M958.26 574.2v3.3M971.42 574.2v3.3M984.58 574.2v3.3M997.74 574.2v3.3M1010.9 574.2v6.6M1024.06 574.2v3.3M1037.22 574.2v3.3M1050.38 574.2v3.3M1063.54 574.2v3.3M1076.7 574.2v3.3M1089.86 574.2v3.3M1103.02 574.2v3.3M1116.18 574.2v3.3M1129.34 574.2v3.3M1142.5 574.2v6.6M1155.66 574.2v3.3M1168.82 574.2v3.3M1181.98 574.2v3.3M1195.14 574.2v3.3M1208.3 574.2v3.3M1221.46 574.2v3.3M1234.62 574.2v3.3M1247.78 574.2v3.3M1260.94 574.2v3.3M1274.1 574.2v6.6M1287.26 574.2v3.3M1300.42 574.2v3.3M1313.58 574.2v3.3M1326.74 574.2v3.3M1339.9 574.2v3.3M1353.06 574.2v3.3M1366.22 574.2v3.3M1379.38 574.2v3.3M1392.54 574.2v3.3M1405.7 574.2v6.6M1418.86 574.2v3.3M1432.02 574.2v3.3M1445.18 574.2v3.3M1458.34 574.2v3.3M1471.5 574.2v3.3M1484.66 574.2v3.3M1497.82 574.2v3.3M1510.98 574.2v3.3M1524.14 574.2v3.3" stroke="#3a3a3a" stroke-width="1.2" fill="none"/>
<rect x="879.3" y="574.2" width="658" height="363.3" fill="none" stroke="#3c3c3c" stroke-width="1.4"/>
<polyline points="879.3,937.5 880.5,880.02 884.4,838.54 887.7,808.05 889.8,773.07 894,741.58 896.7,722.59 899.91,708.64 903.06,699.9 906.24,692.7 909.39,687.05 912.03,683.45 915.21,679.85 918.36,676.75 921.54,673.16 924.18,669.01 926.82,665.41 930,658.21 932.1,654.11 934.74,653.06 938.43,650.46 941.07,646.87 944.25,649.97 947.4,655.11 950.04,659.26 953.22,668.51 956.37,672.61 959.55,672.11 962.19,670.06 965.34,663.86 968.52,658.71 971.7,652.56 974.34,648.97 977.49,644.32 980.67,638.67 983.82,633.52 987,631.42 989.64,629.37 992.79,631.42 995.97,633.52 998.61,634.52 1001.79,636.07 1004.94,634.02 1008.12,628.87 1010.76,625.27 1013.4,624.73 1016.55,625.77 1018.68,616.53 1021.83,638.67 1024.47,664.41 1027.65,688.6 1031.34,679.3 1033.98,698.35 1036.62,694.25 1040.76,691.15 1043.73,688.85 1046.1,684.8 1049.07,680.15 1052.64,676.7 1056.18,671.81 1057.38,669.51 1060.35,668.01 1063.32,667.41 1066.89,665.66 1069.86,665.31 1073.43,664.86 1076.97,665.31 1080.54,666.01 1084.11,666.86 1087.68,666.86 1090.65,663.96 1094.19,663.96 1097.76,665.31 1100.73,665.11 1104.3,663.71 1107.87,662.76 1111.41,662.56 1114.38,661.61 1117.95,662.56 1121.52,662.56 1123.89,661.61 1126.86,662.76 1129.83,663.96 1132.8,660.71 1136.37,662.56 1139.94,663.36 1143.48,666.86 1146.45,664.51 1149.42,663.01 1152.99,665.31 1155.96,666.86 1159.53,666.86 1163.1,667.41 1166.64,668.01 1170.21,668.01 1173.78,668.81 1176.75,666.51 1180.32,668.56 1183.29,667.66 1186.86,666.51 1189.8,668.81 1193.37,669.16 1196.94,669.51 1199.31,670.06 1202.52,669.16 1203.21,668.56 1206.78,670.31 1210.32,670.31 1213.89,672.06 1217.46,672.96 1221.03,672.96 1224,670.31 1226.97,664.86 1230.51,670.31 1233.48,673.81 1236.45,671.81 1239.42,674.36 1242.39,679.9 1245.96,681.3 1249.53,681.9 1251.9,684.8 1255.47,684.55 1259.04,685.35 1262.58,685.95 1264.98,685.95 1267.35,689.4 1270.89,690.6 1274.46,691.95 1278.03,691.95 1281,690 1284.57,689.2 1287.54,689.4 1290.51,688.5 1293.48,687.1 1296.45,685.95 1299.42,685.95 1302.39,683.65 1305.36,685.95 1308.33,687.1 1311.3,690.6 1314.84,691.5 1317.81,692.3 1321.38,691.75 1324.95,691.75 1327.92,692.9 1330.89,693.5 1334.46,692.3 1338,692.3 1341.57,692.9 1345.14,693.5 1348.71,693.5 1352.25,693.15 1355.82,692.3 1358.79,691.95 1362.36,692.9 1365.93,693.5 1368.3,688.25 1372.68,684.8 1373.97,685 1376.94,686.85 1379.91,689.4 1382.28,691.15 1384.65,696.95 1387.62,694.3 1391.19,696.15 1394.76,695.8 1398.33,695 1401.87,695.45 1404.84,697.55 1408.41,698.1 1411.98,697.75 1415.55,698.1 1418.52,698.7 1421.49,699.6 1424.46,698.7 1427.43,699.25 1430.97,698.7 1433.94,699.25 1436.91,697.55 1439.88,697.3 1443.45,696.4 1445.82,694.3 1448.19,698.1 1451.16,695 1454.73,695.8 1457.7,697.3 1459.47,700.99 1463.04,700.1 1466.61,700.1 1470.18,700.1 1473.75,700.1 1477.29,700.1 1480.26,700.79 1483.83,700.1 1487.4,700.79 1490.37,700.99 1492.74,703.34 1495.71,702.74 1499.28,702.74 1502.25,702.39 1504.62,701.59 1507.59,702.14 1510.56,702.74 1513.53,701.94 1517.1,701.94 1520.07,697.55 1523.04,699.85 1526.58,700.44 1530.15,701.59 1533.72,701.94 1535.49,704.24 1537.89,700.79" fill="none" stroke="#10104a" stroke-width="1.1" stroke-linejoin="round"/>
<path d="M877.55 937.5a1.75 1.75 0 1 0 3.5 0a1.75 1.75 0 1 0 -3.5 0zM878.75 880.02a1.75 1.75 0 1 0 3.5 0a1.75 1.75 0 1 0 -3.5 0zM882.65 838.54a1.75 1.75 0 1 0 3.5 0a1.75 1.75 0 1 0 -3.5 0zM885.95 808.05a1.75 1.75 0 1 0 3.5 0a1.75 1.75 0 1 0 -3.5 0zM888.05 773.07a1.75 1.75 0 1 0 3.5 0a1.75 1.75 0 1 0 -3.5 0zM892.25 741.58a1.75 1.75 0 1 0 3.5 0a1.75 1.75 0 1 0 -3.5 0zM894.95 722.59a1.75 1.75 0 1 0 3.5 0a1.75 1.75 0 1 0 -3.5 0zM898.16 708.64a1.75 1.75 0 1 0 3.5 0a1.75 1.75 0 1 0 -3.5 0zM901.31 699.9a1.75 1.75 0 1 0 3.5 0a1.75 1.75 0 1 0 -3.5 0zM904.49 692.7a1.75 1.75 0 1 0 3.5 0a1.75 1.75 0 1 0 -3.5 0zM907.64 687.05a1.75 1.75 0 1 0 3.5 0a1.75 1.75 0 1 0 -3.5 0zM910.28 683.45a1.75 1.75 0 1 0 3.5 0a1.75 1.75 0 1 0 -3.5 0zM913.46 679.85a1.75 1.75 0 1 0 3.5 0a1.75 1.75 0 1 0 -3.5 0zM916.61 676.75a1.75 1.75 0 1 0 3.5 0a1.75 1.75 0 1 0 -3.5 0zM919.79 673.16a1.75 1.75 0 1 0 3.5 0a1.75 1.75 0 1 0 -3.5 0zM922.43 669.01a1.75 1.75 0 1 0 3.5 0a1.75 1.75 0 1 0 -3.5 0zM925.07 665.41a1.75 1.75 0 1 0 3.5 0a1.75 1.75 0 1 0 -3.5 0zM928.25 658.21a1.75 1.75 0 1 0 3.5 0a1.75 1.75 0 1 0 -3.5 0zM930.35 654.11a1.75 1.75 0 1 0 3.5 0a1.75 1.75 0 1 0 -3.5 0zM932.99 653.06a1.75 1.75 0 1 0 3.5 0a1.75 1.75 0 1 0 -3.5 0zM936.68 650.46a1.75 1.75 0 1 0 3.5 0a1.75 1.75 0 1 0 -3.5 0zM939.32 646.87a1.75 1.75 0 1 0 3.5 0a1.75 1.75 0 1 0 -3.5 0zM942.5 649.97a1.75 1.75 0 1 0 3.5 0a1.75 1.75 0 1 0 -3.5 0zM945.65 655.11a1.75 1.75 0 1 0 3.5 0a1.75 1.75 0 1 0 -3.5 0zM948.29 659.26a1.75 1.75 0 1 0 3.5 0a1.75 1.75 0 1 0 -3.5 0zM951.47 668.51a1.75 1.75 0 1 0 3.5 0a1.75 1.75 0 1 0 -3.5 0zM954.62 672.61a1.75 1.75 0 1 0 3.5 0a1.75 1.75 0 1 0 -3.5 0zM957.8 672.11a1.75 1.75 0 1 0 3.5 0a1.75 1.75 0 1 0 -3.5 0zM960.44 670.06a1.75 1.75 0 1 0 3.5 0a1.75 1.75 0 1 0 -3.5 0zM963.59 663.86a1.75 1.75 0 1 0 3.5 0a1.75 1.75 0 1 0 -3.5 0zM966.77 658.71a1.75 1.75 0 1 0 3.5 0a1.75 1.75 0 1 0 -3.5 0zM969.95 652.56a1.75 1.75 0 1 0 3.5 0a1.75 1.75 0 1 0 -3.5 0zM972.59 648.97a1.75 1.75 0 1 0 3.5 0a1.75 1.75 0 1 0 -3.5 0zM975.74 644.32a1.75 1.75 0 1 0 3.5 0a1.75 1.75 0 1 0 -3.5 0zM978.92 638.67a1.75 1.75 0 1 0 3.5 0a1.75 1.75 0 1 0 -3.5 0zM982.07 633.52a1.75 1.75 0 1 0 3.5 0a1.75 1.75 0 1 0 -3.5 0zM985.25 631.42a1.75 1.75 0 1 0 3.5 0a1.75 1.75 0 1 0 -3.5 0zM987.89 629.37a1.75 1.75 0 1 0 3.5 0a1.75 1.75 0 1 0 -3.5 0zM991.04 631.42a1.75 1.75 0 1 0 3.5 0a1.75 1.75 0 1 0 -3.5 0zM994.22 633.52a1.75 1.75 0 1 0 3.5 0a1.75 1.75 0 1 0 -3.5 0zM996.86 634.52a1.75 1.75 0 1 0 3.5 0a1.75 1.75 0 1 0 -3.5 0zM1000.04 636.07a1.75 1.75 0 1 0 3.5 0a1.75 1.75 0 1 0 -3.5 0zM1003.19 634.02a1.75 1.75 0 1 0 3.5 0a1.75 1.75 0 1 0 -3.5 0zM1006.37 628.87a1.75 1.75 0 1 0 3.5 0a1.75 1.75 0 1 0 -3.5 0zM1009.01 625.27a1.75 1.75 0 1 0 3.5 0a1.75 1.75 0 1 0 -3.5 0zM1011.65 624.73a1.75 1.75 0 1 0 3.5 0a1.75 1.75 0 1 0 -3.5 0zM1014.8 625.77a1.75 1.75 0 1 0 3.5 0a1.75 1.75 0 1 0 -3.5 0zM1016.93 616.53a1.75 1.75 0 1 0 3.5 0a1.75 1.75 0 1 0 -3.5 0zM1020.08 638.67a1.75 1.75 0 1 0 3.5 0a1.75 1.75 0 1 0 -3.5 0zM1022.72 664.41a1.75 1.75 0 1 0 3.5 0a1.75 1.75 0 1 0 -3.5 0zM1025.9 688.6a1.75 1.75 0 1 0 3.5 0a1.75 1.75 0 1 0 -3.5 0zM1029.59 679.3a1.75 1.75 0 1 0 3.5 0a1.75 1.75 0 1 0 -3.5 0zM1032.23 698.35a1.75 1.75 0 1 0 3.5 0a1.75 1.75 0 1 0 -3.5 0zM1034.87 694.25a1.75 1.75 0 1 0 3.5 0a1.75 1.75 0 1 0 -3.5 0zM1039.01 691.15a1.75 1.75 0 1 0 3.5 0a1.75 1.75 0 1 0 -3.5 0zM1041.98 688.85a1.75 1.75 0 1 0 3.5 0a1.75 1.75 0 1 0 -3.5 0zM1044.35 684.8a1.75 1.75 0 1 0 3.5 0a1.75 1.75 0 1 0 -3.5 0zM1047.32 680.15a1.75 1.75 0 1 0 3.5 0a1.75 1.75 0 1 0 -3.5 0zM1050.89 676.7a1.75 1.75 0 1 0 3.5 0a1.75 1.75 0 1 0 -3.5 0zM1054.43 671.81a1.75 1.75 0 1 0 3.5 0a1.75 1.75 0 1 0 -3.5 0zM1055.63 669.51a1.75 1.75 0 1 0 3.5 0a1.75 1.75 0 1 0 -3.5 0zM1058.6 668.01a1.75 1.75 0 1 0 3.5 0a1.75 1.75 0 1 0 -3.5 0zM1061.57 667.41a1.75 1.75 0 1 0 3.5 0a1.75 1.75 0 1 0 -3.5 0zM1065.14 665.66a1.75 1.75 0 1 0 3.5 0a1.75 1.75 0 1 0 -3.5 0zM1068.11 665.31a1.75 1.75 0 1 0 3.5 0a1.75 1.75 0 1 0 -3.5 0zM1071.68 664.86a1.75 1.75 0 1 0 3.5 0a1.75 1.75 0 1 0 -3.5 0zM1075.22 665.31a1.75 1.75 0 1 0 3.5 0a1.75 1.75 0 1 0 -3.5 0zM1078.79 666.01a1.75 1.75 0 1 0 3.5 0a1.75 1.75 0 1 0 -3.5 0zM1082.36 666.86a1.75 1.75 0 1 0 3.5 0a1.75 1.75 0 1 0 -3.5 0zM1085.93 666.86a1.75 1.75 0 1 0 3.5 0a1.75 1.75 0 1 0 -3.5 0zM1088.9 663.96a1.75 1.75 0 1 0 3.5 0a1.75 1.75 0 1 0 -3.5 0zM1092.44 663.96a1.75 1.75 0 1 0 3.5 0a1.75 1.75 0 1 0 -3.5 0zM1096.01 665.31a1.75 1.75 0 1 0 3.5 0a1.75 1.75 0 1 0 -3.5 0zM1098.98 665.11a1.75 1.75 0 1 0 3.5 0a1.75 1.75 0 1 0 -3.5 0zM1102.55 663.71a1.75 1.75 0 1 0 3.5 0a1.75 1.75 0 1 0 -3.5 0zM1106.12 662.76a1.75 1.75 0 1 0 3.5 0a1.75 1.75 0 1 0 -3.5 0zM1109.66 662.56a1.75 1.75 0 1 0 3.5 0a1.75 1.75 0 1 0 -3.5 0zM1112.63 661.61a1.75 1.75 0 1 0 3.5 0a1.75 1.75 0 1 0 -3.5 0zM1116.2 662.56a1.75 1.75 0 1 0 3.5 0a1.75 1.75 0 1 0 -3.5 0zM1119.77 662.56a1.75 1.75 0 1 0 3.5 0a1.75 1.75 0 1 0 -3.5 0zM1122.14 661.61a1.75 1.75 0 1 0 3.5 0a1.75 1.75 0 1 0 -3.5 0zM1125.11 662.76a1.75 1.75 0 1 0 3.5 0a1.75 1.75 0 1 0 -3.5 0zM1128.08 663.96a1.75 1.75 0 1 0 3.5 0a1.75 1.75 0 1 0 -3.5 0zM1131.05 660.71a1.75 1.75 0 1 0 3.5 0a1.75 1.75 0 1 0 -3.5 0zM1134.62 662.56a1.75 1.75 0 1 0 3.5 0a1.75 1.75 0 1 0 -3.5 0zM1138.19 663.36a1.75 1.75 0 1 0 3.5 0a1.75 1.75 0 1 0 -3.5 0zM1141.73 666.86a1.75 1.75 0 1 0 3.5 0a1.75 1.75 0 1 0 -3.5 0zM1144.7 664.51a1.75 1.75 0 1 0 3.5 0a1.75 1.75 0 1 0 -3.5 0zM1147.67 663.01a1.75 1.75 0 1 0 3.5 0a1.75 1.75 0 1 0 -3.5 0zM1151.24 665.31a1.75 1.75 0 1 0 3.5 0a1.75 1.75 0 1 0 -3.5 0zM1154.21 666.86a1.75 1.75 0 1 0 3.5 0a1.75 1.75 0 1 0 -3.5 0zM1157.78 666.86a1.75 1.75 0 1 0 3.5 0a1.75 1.75 0 1 0 -3.5 0zM1161.35 667.41a1.75 1.75 0 1 0 3.5 0a1.75 1.75 0 1 0 -3.5 0zM1164.89 668.01a1.75 1.75 0 1 0 3.5 0a1.75 1.75 0 1 0 -3.5 0zM1168.46 668.01a1.75 1.75 0 1 0 3.5 0a1.75 1.75 0 1 0 -3.5 0zM1172.03 668.81a1.75 1.75 0 1 0 3.5 0a1.75 1.75 0 1 0 -3.5 0zM1175 666.51a1.75 1.75 0 1 0 3.5 0a1.75 1.75 0 1 0 -3.5 0zM1178.57 668.56a1.75 1.75 0 1 0 3.5 0a1.75 1.75 0 1 0 -3.5 0zM1181.54 667.66a1.75 1.75 0 1 0 3.5 0a1.75 1.75 0 1 0 -3.5 0zM1185.11 666.51a1.75 1.75 0 1 0 3.5 0a1.75 1.75 0 1 0 -3.5 0zM1188.05 668.81a1.75 1.75 0 1 0 3.5 0a1.75 1.75 0 1 0 -3.5 0zM1191.62 669.16a1.75 1.75 0 1 0 3.5 0a1.75 1.75 0 1 0 -3.5 0zM1195.19 669.51a1.75 1.75 0 1 0 3.5 0a1.75 1.75 0 1 0 -3.5 0zM1197.56 670.06a1.75 1.75 0 1 0 3.5 0a1.75 1.75 0 1 0 -3.5 0zM1200.77 669.16a1.75 1.75 0 1 0 3.5 0a1.75 1.75 0 1 0 -3.5 0zM1201.46 668.56a1.75 1.75 0 1 0 3.5 0a1.75 1.75 0 1 0 -3.5 0zM1205.03 670.31a1.75 1.75 0 1 0 3.5 0a1.75 1.75 0 1 0 -3.5 0zM1208.57 670.31a1.75 1.75 0 1 0 3.5 0a1.75 1.75 0 1 0 -3.5 0zM1212.14 672.06a1.75 1.75 0 1 0 3.5 0a1.75 1.75 0 1 0 -3.5 0zM1215.71 672.96a1.75 1.75 0 1 0 3.5 0a1.75 1.75 0 1 0 -3.5 0zM1219.28 672.96a1.75 1.75 0 1 0 3.5 0a1.75 1.75 0 1 0 -3.5 0zM1222.25 670.31a1.75 1.75 0 1 0 3.5 0a1.75 1.75 0 1 0 -3.5 0zM1225.22 664.86a1.75 1.75 0 1 0 3.5 0a1.75 1.75 0 1 0 -3.5 0zM1228.76 670.31a1.75 1.75 0 1 0 3.5 0a1.75 1.75 0 1 0 -3.5 0zM1231.73 673.81a1.75 1.75 0 1 0 3.5 0a1.75 1.75 0 1 0 -3.5 0zM1234.7 671.81a1.75 1.75 0 1 0 3.5 0a1.75 1.75 0 1 0 -3.5 0zM1237.67 674.36a1.75 1.75 0 1 0 3.5 0a1.75 1.75 0 1 0 -3.5 0zM1240.64 679.9a1.75 1.75 0 1 0 3.5 0a1.75 1.75 0 1 0 -3.5 0zM1244.21 681.3a1.75 1.75 0 1 0 3.5 0a1.75 1.75 0 1 0 -3.5 0zM1247.78 681.9a1.75 1.75 0 1 0 3.5 0a1.75 1.75 0 1 0 -3.5 0zM1250.15 684.8a1.75 1.75 0 1 0 3.5 0a1.75 1.75 0 1 0 -3.5 0zM1253.72 684.55a1.75 1.75 0 1 0 3.5 0a1.75 1.75 0 1 0 -3.5 0zM1257.29 685.35a1.75 1.75 0 1 0 3.5 0a1.75 1.75 0 1 0 -3.5 0zM1260.83 685.95a1.75 1.75 0 1 0 3.5 0a1.75 1.75 0 1 0 -3.5 0zM1263.23 685.95a1.75 1.75 0 1 0 3.5 0a1.75 1.75 0 1 0 -3.5 0zM1265.6 689.4a1.75 1.75 0 1 0 3.5 0a1.75 1.75 0 1 0 -3.5 0zM1269.14 690.6a1.75 1.75 0 1 0 3.5 0a1.75 1.75 0 1 0 -3.5 0zM1272.71 691.95a1.75 1.75 0 1 0 3.5 0a1.75 1.75 0 1 0 -3.5 0zM1276.28 691.95a1.75 1.75 0 1 0 3.5 0a1.75 1.75 0 1 0 -3.5 0zM1279.25 690a1.75 1.75 0 1 0 3.5 0a1.75 1.75 0 1 0 -3.5 0zM1282.82 689.2a1.75 1.75 0 1 0 3.5 0a1.75 1.75 0 1 0 -3.5 0zM1285.79 689.4a1.75 1.75 0 1 0 3.5 0a1.75 1.75 0 1 0 -3.5 0zM1288.76 688.5a1.75 1.75 0 1 0 3.5 0a1.75 1.75 0 1 0 -3.5 0zM1291.73 687.1a1.75 1.75 0 1 0 3.5 0a1.75 1.75 0 1 0 -3.5 0zM1294.7 685.95a1.75 1.75 0 1 0 3.5 0a1.75 1.75 0 1 0 -3.5 0zM1297.67 685.95a1.75 1.75 0 1 0 3.5 0a1.75 1.75 0 1 0 -3.5 0zM1300.64 683.65a1.75 1.75 0 1 0 3.5 0a1.75 1.75 0 1 0 -3.5 0zM1303.61 685.95a1.75 1.75 0 1 0 3.5 0a1.75 1.75 0 1 0 -3.5 0zM1306.58 687.1a1.75 1.75 0 1 0 3.5 0a1.75 1.75 0 1 0 -3.5 0zM1309.55 690.6a1.75 1.75 0 1 0 3.5 0a1.75 1.75 0 1 0 -3.5 0zM1313.09 691.5a1.75 1.75 0 1 0 3.5 0a1.75 1.75 0 1 0 -3.5 0zM1316.06 692.3a1.75 1.75 0 1 0 3.5 0a1.75 1.75 0 1 0 -3.5 0zM1319.63 691.75a1.75 1.75 0 1 0 3.5 0a1.75 1.75 0 1 0 -3.5 0zM1323.2 691.75a1.75 1.75 0 1 0 3.5 0a1.75 1.75 0 1 0 -3.5 0zM1326.17 692.9a1.75 1.75 0 1 0 3.5 0a1.75 1.75 0 1 0 -3.5 0zM1329.14 693.5a1.75 1.75 0 1 0 3.5 0a1.75 1.75 0 1 0 -3.5 0zM1332.71 692.3a1.75 1.75 0 1 0 3.5 0a1.75 1.75 0 1 0 -3.5 0zM1336.25 692.3a1.75 1.75 0 1 0 3.5 0a1.75 1.75 0 1 0 -3.5 0zM1339.82 692.9a1.75 1.75 0 1 0 3.5 0a1.75 1.75 0 1 0 -3.5 0zM1343.39 693.5a1.75 1.75 0 1 0 3.5 0a1.75 1.75 0 1 0 -3.5 0zM1346.96 693.5a1.75 1.75 0 1 0 3.5 0a1.75 1.75 0 1 0 -3.5 0zM1350.5 693.15a1.75 1.75 0 1 0 3.5 0a1.75 1.75 0 1 0 -3.5 0zM1354.07 692.3a1.75 1.75 0 1 0 3.5 0a1.75 1.75 0 1 0 -3.5 0zM1357.04 691.95a1.75 1.75 0 1 0 3.5 0a1.75 1.75 0 1 0 -3.5 0zM1360.61 692.9a1.75 1.75 0 1 0 3.5 0a1.75 1.75 0 1 0 -3.5 0zM1364.18 693.5a1.75 1.75 0 1 0 3.5 0a1.75 1.75 0 1 0 -3.5 0zM1366.55 688.25a1.75 1.75 0 1 0 3.5 0a1.75 1.75 0 1 0 -3.5 0zM1370.93 684.8a1.75 1.75 0 1 0 3.5 0a1.75 1.75 0 1 0 -3.5 0zM1372.22 685a1.75 1.75 0 1 0 3.5 0a1.75 1.75 0 1 0 -3.5 0zM1375.19 686.85a1.75 1.75 0 1 0 3.5 0a1.75 1.75 0 1 0 -3.5 0zM1378.16 689.4a1.75 1.75 0 1 0 3.5 0a1.75 1.75 0 1 0 -3.5 0zM1380.53 691.15a1.75 1.75 0 1 0 3.5 0a1.75 1.75 0 1 0 -3.5 0zM1382.9 696.95a1.75 1.75 0 1 0 3.5 0a1.75 1.75 0 1 0 -3.5 0zM1385.87 694.3a1.75 1.75 0 1 0 3.5 0a1.75 1.75 0 1 0 -3.5 0zM1389.44 696.15a1.75 1.75 0 1 0 3.5 0a1.75 1.75 0 1 0 -3.5 0zM1393.01 695.8a1.75 1.75 0 1 0 3.5 0a1.75 1.75 0 1 0 -3.5 0zM1396.58 695a1.75 1.75 0 1 0 3.5 0a1.75 1.75 0 1 0 -3.5 0zM1400.12 695.45a1.75 1.75 0 1 0 3.5 0a1.75 1.75 0 1 0 -3.5 0zM1403.09 697.55a1.75 1.75 0 1 0 3.5 0a1.75 1.75 0 1 0 -3.5 0zM1406.66 698.1a1.75 1.75 0 1 0 3.5 0a1.75 1.75 0 1 0 -3.5 0zM1410.23 697.75a1.75 1.75 0 1 0 3.5 0a1.75 1.75 0 1 0 -3.5 0zM1413.8 698.1a1.75 1.75 0 1 0 3.5 0a1.75 1.75 0 1 0 -3.5 0zM1416.77 698.7a1.75 1.75 0 1 0 3.5 0a1.75 1.75 0 1 0 -3.5 0zM1419.74 699.6a1.75 1.75 0 1 0 3.5 0a1.75 1.75 0 1 0 -3.5 0zM1422.71 698.7a1.75 1.75 0 1 0 3.5 0a1.75 1.75 0 1 0 -3.5 0zM1425.68 699.25a1.75 1.75 0 1 0 3.5 0a1.75 1.75 0 1 0 -3.5 0zM1429.22 698.7a1.75 1.75 0 1 0 3.5 0a1.75 1.75 0 1 0 -3.5 0zM1432.19 699.25a1.75 1.75 0 1 0 3.5 0a1.75 1.75 0 1 0 -3.5 0zM1435.16 697.55a1.75 1.75 0 1 0 3.5 0a1.75 1.75 0 1 0 -3.5 0zM1438.13 697.3a1.75 1.75 0 1 0 3.5 0a1.75 1.75 0 1 0 -3.5 0zM1441.7 696.4a1.75 1.75 0 1 0 3.5 0a1.75 1.75 0 1 0 -3.5 0zM1444.07 694.3a1.75 1.75 0 1 0 3.5 0a1.75 1.75 0 1 0 -3.5 0zM1446.44 698.1a1.75 1.75 0 1 0 3.5 0a1.75 1.75 0 1 0 -3.5 0zM1449.41 695a1.75 1.75 0 1 0 3.5 0a1.75 1.75 0 1 0 -3.5 0zM1452.98 695.8a1.75 1.75 0 1 0 3.5 0a1.75 1.75 0 1 0 -3.5 0zM1455.95 697.3a1.75 1.75 0 1 0 3.5 0a1.75 1.75 0 1 0 -3.5 0zM1457.72 700.99a1.75 1.75 0 1 0 3.5 0a1.75 1.75 0 1 0 -3.5 0zM1461.29 700.1a1.75 1.75 0 1 0 3.5 0a1.75 1.75 0 1 0 -3.5 0zM1464.86 700.1a1.75 1.75 0 1 0 3.5 0a1.75 1.75 0 1 0 -3.5 0zM1468.43 700.1a1.75 1.75 0 1 0 3.5 0a1.75 1.75 0 1 0 -3.5 0zM1472 700.1a1.75 1.75 0 1 0 3.5 0a1.75 1.75 0 1 0 -3.5 0zM1475.54 700.1a1.75 1.75 0 1 0 3.5 0a1.75 1.75 0 1 0 -3.5 0zM1478.51 700.79a1.75 1.75 0 1 0 3.5 0a1.75 1.75 0 1 0 -3.5 0zM1482.08 700.1a1.75 1.75 0 1 0 3.5 0a1.75 1.75 0 1 0 -3.5 0zM1485.65 700.79a1.75 1.75 0 1 0 3.5 0a1.75 1.75 0 1 0 -3.5 0zM1488.62 700.99a1.75 1.75 0 1 0 3.5 0a1.75 1.75 0 1 0 -3.5 0zM1490.99 703.34a1.75 1.75 0 1 0 3.5 0a1.75 1.75 0 1 0 -3.5 0zM1493.96 702.74a1.75 1.75 0 1 0 3.5 0a1.75 1.75 0 1 0 -3.5 0zM1497.53 702.74a1.75 1.75 0 1 0 3.5 0a1.75 1.75 0 1 0 -3.5 0zM1500.5 702.39a1.75 1.75 0 1 0 3.5 0a1.75 1.75 0 1 0 -3.5 0zM1502.87 701.59a1.75 1.75 0 1 0 3.5 0a1.75 1.75 0 1 0 -3.5 0zM1505.84 702.14a1.75 1.75 0 1 0 3.5 0a1.75 1.75 0 1 0 -3.5 0zM1508.81 702.74a1.75 1.75 0 1 0 3.5 0a1.75 1.75 0 1 0 -3.5 0zM1511.78 701.94a1.75 1.75 0 1 0 3.5 0a1.75 1.75 0 1 0 -3.5 0zM1515.35 701.94a1.75 1.75 0 1 0 3.5 0a1.75 1.75 0 1 0 -3.5 0zM1518.32 697.55a1.75 1.75 0 1 0 3.5 0a1.75 1.75 0 1 0 -3.5 0zM1521.29 699.85a1.75 1.75 0 1 0 3.5 0a1.75 1.75 0 1 0 -3.5 0zM1524.83 700.44a1.75 1.75 0 1 0 3.5 0a1.75 1.75 0 1 0 -3.5 0zM1528.4 701.59a1.75 1.75 0 1 0 3.5 0a1.75 1.75 0 1 0 -3.5 0zM1531.97 701.94a1.75 1.75 0 1 0 3.5 0a1.75 1.75 0 1 0 -3.5 0zM1533.74 704.24a1.75 1.75 0 1 0 3.5 0a1.75 1.75 0 1 0 -3.5 0zM1536.14 700.79a1.75 1.75 0 1 0 3.5 0a1.75 1.75 0 1 0 -3.5 0z" fill="#000030"/>
<polyline points="879.3,937.5 881.04,893.07 884.4,852.93 887.58,820.5 889.95,788.26 893.91,760.57 896.88,745.73 899.85,735.43 902.79,728.88 906.18,724.34 909.72,721.59 912.3,718.64 915.27,716.29 918.21,713.34 921.18,710.94 924.15,706.19 927.12,702.64 930.09,697.9 932.46,694.95 935.43,691.35 938.4,689 941.37,684 944.34,688.4 947.28,693.15 950.25,694.35 953.22,698.5 956.79,699.1 959.76,699.7 962.13,696.1 965.1,691.95 968.07,688.05 971.61,681.85 973.98,677.7 976.95,673.56 980.52,671.21 983.49,665.86 986.46,662.31 989.43,659.91 992.37,657.91 995.34,655.51 998.31,654.81 1001.28,656.36 1004.25,653.96 1007.82,651.61 1010.76,652.21 1013.73,648.67 1016.1,645.07 1018.5,635.37 1022.04,642.12 1023.84,667.06 1027.38,690.2 1030.95,673.56 1033.32,694.95 1036.29,692.55 1039.83,688.4 1042.8,683.65 1045.77,679.5 1048.74,673.56 1051.71,671.81 1054.68,670.01 1055.52,670.36 1057.32,667.71 1060.26,666.21 1063.23,665.01 1066.2,663.81 1069.17,664.16 1072.14,664.41 1075.11,664.16 1078.08,661.46 1081.62,660.61 1084.59,662.61 1087.56,661.81 1090.53,660.61 1093.5,659.66 1096.47,659.91 1099.44,659.66 1102.38,662.06 1105.35,660.61 1108.32,659.91 1111.29,659.66 1114.26,659.06 1117.23,658.46 1120.2,656.36 1123.17,654.91 1126.14,656.36 1129.08,654.31 1132.05,654.91 1135.02,654.31 1137.99,654.31 1140.96,654.91 1143.93,655.86 1146.9,657.31 1149.87,658.46 1152.81,659.06 1155.78,659.91 1158.75,660.26 1161.72,662.26 1164.69,665.36 1167.66,667.71 1170.63,670.11 1173.6,669.76 1176.54,671.51 1179.51,675.7 1183.08,678.9 1186.05,682.2 1189.02,685.75 1191.99,689.35 1194.96,691.7 1197.9,694.1 1200.87,698.6 1203.84,701.19 1206.81,705.94 1209.78,709.24 1212.75,713.04 1215.72,716.04 1218.69,719.24 1221.36,721.89 1224.33,723.64 1227.3,726.03 1230.27,731.93 1233.24,737.03 1236.81,738.73 1239.18,742.63 1242.15,747.73 1245.09,751.77 1248.66,756.27 1251.63,760.42 1254.6,763.42 1257.57,766.97 1260.54,771.12 1263.48,774.07 1265.88,776.46 1269.42,780.96 1272.39,784.16 1275.36,787.71 1278.33,791.26 1281.3,794.86 1284.27,797.81 1287.81,801.6 1290.78,804.9 1293.75,807.05 1296.72,809.45 1299.69,813 1302.06,814.2 1304.43,818 1307.4,821.8 1310.97,825.09 1313.91,828.39 1316.88,831.64 1319.85,834.59 1322.82,836.94 1325.79,838.39 1328.76,840.74 1331.73,844.09 1331.73,844.74 1336.11,847.94 1340.46,851.28 1344.09,854.18 1349.19,856.38 1353.54,860.43 1357.92,863.33 1362.27,866.53 1366.65,868.28 1371,870.63 1375.38,872.63 1379.73,875.27 1382.64,877.87 1386.99,879.62 1391.37,881.37 1395.72,883.97 1400.1,885.72 1404.45,887.17 1408.83,888.37 1413.18,890.12 1417.56,892.02 1421.91,893.47 1426.26,894.92 1430.64,896.37 1434.99,897.82 1439.37,898.82 1443.72,899.72 1448.1,901.46 1452.45,902.61 1456.83,904.06 1461.18,905.51 1465.53,906.56 1469.91,907.56 1474.26,908.71 1478.64,909.86 1482.99,910.91 1487.37,911.61 1491.72,912.36 1496.1,913.36 1500.45,913.81 1504.8,915.26 1509.18,916.01 1513.53,916.26 1517.91,916.71 1522.26,917.76 1526.64,918.91 1530.99,919.61 1535.37,920.06 1537.83,920.36" fill="none" stroke="#5a1010" stroke-width="1.1" stroke-linejoin="round"/>
<path d="M877.55 937.5a1.75 1.75 0 1 0 3.5 0a1.75 1.75 0 1 0 -3.5 0zM879.29 893.07a1.75 1.75 0 1 0 3.5 0a1.75 1.75 0 1 0 -3.5 0zM882.65 852.93a1.75 1.75 0 1 0 3.5 0a1.75 1.75 0 1 0 -3.5 0zM885.83 820.5a1.75 1.75 0 1 0 3.5 0a1.75 1.75 0 1 0 -3.5 0zM888.2 788.26a1.75 1.75 0 1 0 3.5 0a1.75 1.75 0 1 0 -3.5 0zM892.16 760.57a1.75 1.75 0 1 0 3.5 0a1.75 1.75 0 1 0 -3.5 0zM895.13 745.73a1.75 1.75 0 1 0 3.5 0a1.75 1.75 0 1 0 -3.5 0zM898.1 735.43a1.75 1.75 0 1 0 3.5 0a1.75 1.75 0 1 0 -3.5 0zM901.04 728.88a1.75 1.75 0 1 0 3.5 0a1.75 1.75 0 1 0 -3.5 0zM904.43 724.34a1.75 1.75 0 1 0 3.5 0a1.75 1.75 0 1 0 -3.5 0zM907.97 721.59a1.75 1.75 0 1 0 3.5 0a1.75 1.75 0 1 0 -3.5 0zM910.55 718.64a1.75 1.75 0 1 0 3.5 0a1.75 1.75 0 1 0 -3.5 0zM913.52 716.29a1.75 1.75 0 1 0 3.5 0a1.75 1.75 0 1 0 -3.5 0zM916.46 713.34a1.75 1.75 0 1 0 3.5 0a1.75 1.75 0 1 0 -3.5 0zM919.43 710.94a1.75 1.75 0 1 0 3.5 0a1.75 1.75 0 1 0 -3.5 0zM922.4 706.19a1.75 1.75 0 1 0 3.5 0a1.75 1.75 0 1 0 -3.5 0zM925.37 702.64a1.75 1.75 0 1 0 3.5 0a1.75 1.75 0 1 0 -3.5 0zM928.34 697.9a1.75 1.75 0 1 0 3.5 0a1.75 1.75 0 1 0 -3.5 0zM930.71 694.95a1.75 1.75 0 1 0 3.5 0a1.75 1.75 0 1 0 -3.5 0zM933.68 691.35a1.75 1.75 0 1 0 3.5 0a1.75 1.75 0 1 0 -3.5 0zM936.65 689a1.75 1.75 0 1 0 3.5 0a1.75 1.75 0 1 0 -3.5 0zM939.62 684a1.75 1.75 0 1 0 3.5 0a1.75 1.75 0 1 0 -3.5 0zM942.59 688.4a1.75 1.75 0 1 0 3.5 0a1.75 1.75 0 1 0 -3.5 0zM945.53 693.15a1.75 1.75 0 1 0 3.5 0a1.75 1.75 0 1 0 -3.5 0zM948.5 694.35a1.75 1.75 0 1 0 3.5 0a1.75 1.75 0 1 0 -3.5 0zM951.47 698.5a1.75 1.75 0 1 0 3.5 0a1.75 1.75 0 1 0 -3.5 0zM955.04 699.1a1.75 1.75 0 1 0 3.5 0a1.75 1.75 0 1 0 -3.5 0zM958.01 699.7a1.75 1.75 0 1 0 3.5 0a1.75 1.75 0 1 0 -3.5 0zM960.38 696.1a1.75 1.75 0 1 0 3.5 0a1.75 1.75 0 1 0 -3.5 0zM963.35 691.95a1.75 1.75 0 1 0 3.5 0a1.75 1.75 0 1 0 -3.5 0zM966.32 688.05a1.75 1.75 0 1 0 3.5 0a1.75 1.75 0 1 0 -3.5 0zM969.86 681.85a1.75 1.75 0 1 0 3.5 0a1.75 1.75 0 1 0 -3.5 0zM972.23 677.7a1.75 1.75 0 1 0 3.5 0a1.75 1.75 0 1 0 -3.5 0zM975.2 673.56a1.75 1.75 0 1 0 3.5 0a1.75 1.75 0 1 0 -3.5 0zM978.77 671.21a1.75 1.75 0 1 0 3.5 0a1.75 1.75 0 1 0 -3.5 0zM981.74 665.86a1.75 1.75 0 1 0 3.5 0a1.75 1.75 0 1 0 -3.5 0zM984.71 662.31a1.75 1.75 0 1 0 3.5 0a1.75 1.75 0 1 0 -3.5 0zM987.68 659.91a1.75 1.75 0 1 0 3.5 0a1.75 1.75 0 1 0 -3.5 0zM990.62 657.91a1.75 1.75 0 1 0 3.5 0a1.75 1.75 0 1 0 -3.5 0zM993.59 655.51a1.75 1.75 0 1 0 3.5 0a1.75 1.75 0 1 0 -3.5 0zM996.56 654.81a1.75 1.75 0 1 0 3.5 0a1.75 1.75 0 1 0 -3.5 0zM999.53 656.36a1.75 1.75 0 1 0 3.5 0a1.75 1.75 0 1 0 -3.5 0zM1002.5 653.96a1.75 1.75 0 1 0 3.5 0a1.75 1.75 0 1 0 -3.5 0zM1006.07 651.61a1.75 1.75 0 1 0 3.5 0a1.75 1.75 0 1 0 -3.5 0zM1009.01 652.21a1.75 1.75 0 1 0 3.5 0a1.75 1.75 0 1 0 -3.5 0zM1011.98 648.67a1.75 1.75 0 1 0 3.5 0a1.75 1.75 0 1 0 -3.5 0zM1014.35 645.07a1.75 1.75 0 1 0 3.5 0a1.75 1.75 0 1 0 -3.5 0zM1016.75 635.37a1.75 1.75 0 1 0 3.5 0a1.75 1.75 0 1 0 -3.5 0zM1020.29 642.12a1.75 1.75 0 1 0 3.5 0a1.75 1.75 0 1 0 -3.5 0zM1022.09 667.06a1.75 1.75 0 1 0 3.5 0a1.75 1.75 0 1 0 -3.5 0zM1025.63 690.2a1.75 1.75 0 1 0 3.5 0a1.75 1.75 0 1 0 -3.5 0zM1029.2 673.56a1.75 1.75 0 1 0 3.5 0a1.75 1.75 0 1 0 -3.5 0zM1031.57 694.95a1.75 1.75 0 1 0 3.5 0a1.75 1.75 0 1 0 -3.5 0zM1034.54 692.55a1.75 1.75 0 1 0 3.5 0a1.75 1.75 0 1 0 -3.5 0zM1038.08 688.4a1.75 1.75 0 1 0 3.5 0a1.75 1.75 0 1 0 -3.5 0zM1041.05 683.65a1.75 1.75 0 1 0 3.5 0a1.75 1.75 0 1 0 -3.5 0zM1044.02 679.5a1.75 1.75 0 1 0 3.5 0a1.75 1.75 0 1 0 -3.5 0zM1046.99 673.56a1.75 1.75 0 1 0 3.5 0a1.75 1.75 0 1 0 -3.5 0zM1049.96 671.81a1.75 1.75 0 1 0 3.5 0a1.75 1.75 0 1 0 -3.5 0zM1052.93 670.01a1.75 1.75 0 1 0 3.5 0a1.75 1.75 0 1 0 -3.5 0zM1053.77 670.36a1.75 1.75 0 1 0 3.5 0a1.75 1.75 0 1 0 -3.5 0zM1055.57 667.71a1.75 1.75 0 1 0 3.5 0a1.75 1.75 0 1 0 -3.5 0zM1058.51 666.21a1.75 1.75 0 1 0 3.5 0a1.75 1.75 0 1 0 -3.5 0zM1061.48 665.01a1.75 1.75 0 1 0 3.5 0a1.75 1.75 0 1 0 -3.5 0zM1064.45 663.81a1.75 1.75 0 1 0 3.5 0a1.75 1.75 0 1 0 -3.5 0zM1067.42 664.16a1.75 1.75 0 1 0 3.5 0a1.75 1.75 0 1 0 -3.5 0zM1070.39 664.41a1.75 1.75 0 1 0 3.5 0a1.75 1.75 0 1 0 -3.5 0zM1073.36 664.16a1.75 1.75 0 1 0 3.5 0a1.75 1.75 0 1 0 -3.5 0zM1076.33 661.46a1.75 1.75 0 1 0 3.5 0a1.75 1.75 0 1 0 -3.5 0zM1079.87 660.61a1.75 1.75 0 1 0 3.5 0a1.75 1.75 0 1 0 -3.5 0zM1082.84 662.61a1.75 1.75 0 1 0 3.5 0a1.75 1.75 0 1 0 -3.5 0zM1085.81 661.81a1.75 1.75 0 1 0 3.5 0a1.75 1.75 0 1 0 -3.5 0zM1088.78 660.61a1.75 1.75 0 1 0 3.5 0a1.75 1.75 0 1 0 -3.5 0zM1091.75 659.66a1.75 1.75 0 1 0 3.5 0a1.75 1.75 0 1 0 -3.5 0zM1094.72 659.91a1.75 1.75 0 1 0 3.5 0a1.75 1.75 0 1 0 -3.5 0zM1097.69 659.66a1.75 1.75 0 1 0 3.5 0a1.75 1.75 0 1 0 -3.5 0zM1100.63 662.06a1.75 1.75 0 1 0 3.5 0a1.75 1.75 0 1 0 -3.5 0zM1103.6 660.61a1.75 1.75 0 1 0 3.5 0a1.75 1.75 0 1 0 -3.5 0zM1106.57 659.91a1.75 1.75 0 1 0 3.5 0a1.75 1.75 0 1 0 -3.5 0zM1109.54 659.66a1.75 1.75 0 1 0 3.5 0a1.75 1.75 0 1 0 -3.5 0zM1112.51 659.06a1.75 1.75 0 1 0 3.5 0a1.75 1.75 0 1 0 -3.5 0zM1115.48 658.46a1.75 1.75 0 1 0 3.5 0a1.75 1.75 0 1 0 -3.5 0zM1118.45 656.36a1.75 1.75 0 1 0 3.5 0a1.75 1.75 0 1 0 -3.5 0zM1121.42 654.91a1.75 1.75 0 1 0 3.5 0a1.75 1.75 0 1 0 -3.5 0zM1124.39 656.36a1.75 1.75 0 1 0 3.5 0a1.75 1.75 0 1 0 -3.5 0zM1127.33 654.31a1.75 1.75 0 1 0 3.5 0a1.75 1.75 0 1 0 -3.5 0zM1130.3 654.91a1.75 1.75 0 1 0 3.5 0a1.75 1.75 0 1 0 -3.5 0zM1133.27 654.31a1.75 1.75 0 1 0 3.5 0a1.75 1.75 0 1 0 -3.5 0zM1136.24 654.31a1.75 1.75 0 1 0 3.5 0a1.75 1.75 0 1 0 -3.5 0zM1139.21 654.91a1.75 1.75 0 1 0 3.5 0a1.75 1.75 0 1 0 -3.5 0zM1142.18 655.86a1.75 1.75 0 1 0 3.5 0a1.75 1.75 0 1 0 -3.5 0zM1145.15 657.31a1.75 1.75 0 1 0 3.5 0a1.75 1.75 0 1 0 -3.5 0zM1148.12 658.46a1.75 1.75 0 1 0 3.5 0a1.75 1.75 0 1 0 -3.5 0zM1151.06 659.06a1.75 1.75 0 1 0 3.5 0a1.75 1.75 0 1 0 -3.5 0zM1154.03 659.91a1.75 1.75 0 1 0 3.5 0a1.75 1.75 0 1 0 -3.5 0zM1157 660.26a1.75 1.75 0 1 0 3.5 0a1.75 1.75 0 1 0 -3.5 0zM1159.97 662.26a1.75 1.75 0 1 0 3.5 0a1.75 1.75 0 1 0 -3.5 0zM1162.94 665.36a1.75 1.75 0 1 0 3.5 0a1.75 1.75 0 1 0 -3.5 0zM1165.91 667.71a1.75 1.75 0 1 0 3.5 0a1.75 1.75 0 1 0 -3.5 0zM1168.88 670.11a1.75 1.75 0 1 0 3.5 0a1.75 1.75 0 1 0 -3.5 0zM1171.85 669.76a1.75 1.75 0 1 0 3.5 0a1.75 1.75 0 1 0 -3.5 0zM1174.79 671.51a1.75 1.75 0 1 0 3.5 0a1.75 1.75 0 1 0 -3.5 0zM1177.76 675.7a1.75 1.75 0 1 0 3.5 0a1.75 1.75 0 1 0 -3.5 0zM1181.33 678.9a1.75 1.75 0 1 0 3.5 0a1.75 1.75 0 1 0 -3.5 0zM1184.3 682.2a1.75 1.75 0 1 0 3.5 0a1.75 1.75 0 1 0 -3.5 0zM1187.27 685.75a1.75 1.75 0 1 0 3.5 0a1.75 1.75 0 1 0 -3.5 0zM1190.24 689.35a1.75 1.75 0 1 0 3.5 0a1.75 1.75 0 1 0 -3.5 0zM1193.21 691.7a1.75 1.75 0 1 0 3.5 0a1.75 1.75 0 1 0 -3.5 0zM1196.15 694.1a1.75 1.75 0 1 0 3.5 0a1.75 1.75 0 1 0 -3.5 0zM1199.12 698.6a1.75 1.75 0 1 0 3.5 0a1.75 1.75 0 1 0 -3.5 0zM1202.09 701.19a1.75 1.75 0 1 0 3.5 0a1.75 1.75 0 1 0 -3.5 0zM1205.06 705.94a1.75 1.75 0 1 0 3.5 0a1.75 1.75 0 1 0 -3.5 0zM1208.03 709.24a1.75 1.75 0 1 0 3.5 0a1.75 1.75 0 1 0 -3.5 0zM1211 713.04a1.75 1.75 0 1 0 3.5 0a1.75 1.75 0 1 0 -3.5 0zM1213.97 716.04a1.75 1.75 0 1 0 3.5 0a1.75 1.75 0 1 0 -3.5 0zM1216.94 719.24a1.75 1.75 0 1 0 3.5 0a1.75 1.75 0 1 0 -3.5 0zM1219.61 721.89a1.75 1.75 0 1 0 3.5 0a1.75 1.75 0 1 0 -3.5 0zM1222.58 723.64a1.75 1.75 0 1 0 3.5 0a1.75 1.75 0 1 0 -3.5 0zM1225.55 726.03a1.75 1.75 0 1 0 3.5 0a1.75 1.75 0 1 0 -3.5 0zM1228.52 731.93a1.75 1.75 0 1 0 3.5 0a1.75 1.75 0 1 0 -3.5 0zM1231.49 737.03a1.75 1.75 0 1 0 3.5 0a1.75 1.75 0 1 0 -3.5 0zM1235.06 738.73a1.75 1.75 0 1 0 3.5 0a1.75 1.75 0 1 0 -3.5 0zM1237.43 742.63a1.75 1.75 0 1 0 3.5 0a1.75 1.75 0 1 0 -3.5 0zM1240.4 747.73a1.75 1.75 0 1 0 3.5 0a1.75 1.75 0 1 0 -3.5 0zM1243.34 751.77a1.75 1.75 0 1 0 3.5 0a1.75 1.75 0 1 0 -3.5 0zM1246.91 756.27a1.75 1.75 0 1 0 3.5 0a1.75 1.75 0 1 0 -3.5 0zM1249.88 760.42a1.75 1.75 0 1 0 3.5 0a1.75 1.75 0 1 0 -3.5 0zM1252.85 763.42a1.75 1.75 0 1 0 3.5 0a1.75 1.75 0 1 0 -3.5 0zM1255.82 766.97a1.75 1.75 0 1 0 3.5 0a1.75 1.75 0 1 0 -3.5 0zM1258.79 771.12a1.75 1.75 0 1 0 3.5 0a1.75 1.75 0 1 0 -3.5 0zM1261.73 774.07a1.75 1.75 0 1 0 3.5 0a1.75 1.75 0 1 0 -3.5 0zM1264.13 776.46a1.75 1.75 0 1 0 3.5 0a1.75 1.75 0 1 0 -3.5 0zM1267.67 780.96a1.75 1.75 0 1 0 3.5 0a1.75 1.75 0 1 0 -3.5 0zM1270.64 784.16a1.75 1.75 0 1 0 3.5 0a1.75 1.75 0 1 0 -3.5 0zM1273.61 787.71a1.75 1.75 0 1 0 3.5 0a1.75 1.75 0 1 0 -3.5 0zM1276.58 791.26a1.75 1.75 0 1 0 3.5 0a1.75 1.75 0 1 0 -3.5 0zM1279.55 794.86a1.75 1.75 0 1 0 3.5 0a1.75 1.75 0 1 0 -3.5 0zM1282.52 797.81a1.75 1.75 0 1 0 3.5 0a1.75 1.75 0 1 0 -3.5 0zM1286.06 801.6a1.75 1.75 0 1 0 3.5 0a1.75 1.75 0 1 0 -3.5 0zM1289.03 804.9a1.75 1.75 0 1 0 3.5 0a1.75 1.75 0 1 0 -3.5 0zM1292 807.05a1.75 1.75 0 1 0 3.5 0a1.75 1.75 0 1 0 -3.5 0zM1294.97 809.45a1.75 1.75 0 1 0 3.5 0a1.75 1.75 0 1 0 -3.5 0zM1297.94 813a1.75 1.75 0 1 0 3.5 0a1.75 1.75 0 1 0 -3.5 0zM1300.31 814.2a1.75 1.75 0 1 0 3.5 0a1.75 1.75 0 1 0 -3.5 0zM1302.68 818a1.75 1.75 0 1 0 3.5 0a1.75 1.75 0 1 0 -3.5 0zM1305.65 821.8a1.75 1.75 0 1 0 3.5 0a1.75 1.75 0 1 0 -3.5 0zM1309.22 825.09a1.75 1.75 0 1 0 3.5 0a1.75 1.75 0 1 0 -3.5 0zM1312.16 828.39a1.75 1.75 0 1 0 3.5 0a1.75 1.75 0 1 0 -3.5 0zM1315.13 831.64a1.75 1.75 0 1 0 3.5 0a1.75 1.75 0 1 0 -3.5 0zM1318.1 834.59a1.75 1.75 0 1 0 3.5 0a1.75 1.75 0 1 0 -3.5 0zM1321.07 836.94a1.75 1.75 0 1 0 3.5 0a1.75 1.75 0 1 0 -3.5 0zM1324.04 838.39a1.75 1.75 0 1 0 3.5 0a1.75 1.75 0 1 0 -3.5 0zM1327.01 840.74a1.75 1.75 0 1 0 3.5 0a1.75 1.75 0 1 0 -3.5 0zM1329.98 844.09a1.75 1.75 0 1 0 3.5 0a1.75 1.75 0 1 0 -3.5 0zM1329.98 844.74a1.75 1.75 0 1 0 3.5 0a1.75 1.75 0 1 0 -3.5 0zM1334.36 847.94a1.75 1.75 0 1 0 3.5 0a1.75 1.75 0 1 0 -3.5 0zM1338.71 851.28a1.75 1.75 0 1 0 3.5 0a1.75 1.75 0 1 0 -3.5 0zM1342.34 854.18a1.75 1.75 0 1 0 3.5 0a1.75 1.75 0 1 0 -3.5 0zM1344.89 855.28a1.75 1.75 0 1 0 3.5 0a1.75 1.75 0 1 0 -3.5 0zM1347.44 856.38a1.75 1.75 0 1 0 3.5 0a1.75 1.75 0 1 0 -3.5 0zM1351.79 860.43a1.75 1.75 0 1 0 3.5 0a1.75 1.75 0 1 0 -3.5 0zM1356.17 863.33a1.75 1.75 0 1 0 3.5 0a1.75 1.75 0 1 0 -3.5 0zM1360.52 866.53a1.75 1.75 0 1 0 3.5 0a1.75 1.75 0 1 0 -3.5 0zM1364.9 868.28a1.75 1.75 0 1 0 3.5 0a1.75 1.75 0 1 0 -3.5 0zM1369.25 870.63a1.75 1.75 0 1 0 3.5 0a1.75 1.75 0 1 0 -3.5 0zM1373.63 872.63a1.75 1.75 0 1 0 3.5 0a1.75 1.75 0 1 0 -3.5 0zM1377.98 875.27a1.75 1.75 0 1 0 3.5 0a1.75 1.75 0 1 0 -3.5 0zM1380.89 877.87a1.75 1.75 0 1 0 3.5 0a1.75 1.75 0 1 0 -3.5 0zM1385.24 879.62a1.75 1.75 0 1 0 3.5 0a1.75 1.75 0 1 0 -3.5 0zM1389.62 881.37a1.75 1.75 0 1 0 3.5 0a1.75 1.75 0 1 0 -3.5 0zM1393.97 883.97a1.75 1.75 0 1 0 3.5 0a1.75 1.75 0 1 0 -3.5 0zM1398.35 885.72a1.75 1.75 0 1 0 3.5 0a1.75 1.75 0 1 0 -3.5 0zM1402.7 887.17a1.75 1.75 0 1 0 3.5 0a1.75 1.75 0 1 0 -3.5 0zM1407.08 888.37a1.75 1.75 0 1 0 3.5 0a1.75 1.75 0 1 0 -3.5 0zM1411.43 890.12a1.75 1.75 0 1 0 3.5 0a1.75 1.75 0 1 0 -3.5 0zM1415.81 892.02a1.75 1.75 0 1 0 3.5 0a1.75 1.75 0 1 0 -3.5 0zM1420.16 893.47a1.75 1.75 0 1 0 3.5 0a1.75 1.75 0 1 0 -3.5 0zM1424.51 894.92a1.75 1.75 0 1 0 3.5 0a1.75 1.75 0 1 0 -3.5 0zM1428.89 896.37a1.75 1.75 0 1 0 3.5 0a1.75 1.75 0 1 0 -3.5 0zM1433.24 897.82a1.75 1.75 0 1 0 3.5 0a1.75 1.75 0 1 0 -3.5 0zM1437.62 898.82a1.75 1.75 0 1 0 3.5 0a1.75 1.75 0 1 0 -3.5 0zM1441.97 899.72a1.75 1.75 0 1 0 3.5 0a1.75 1.75 0 1 0 -3.5 0zM1446.35 901.46a1.75 1.75 0 1 0 3.5 0a1.75 1.75 0 1 0 -3.5 0zM1450.7 902.61a1.75 1.75 0 1 0 3.5 0a1.75 1.75 0 1 0 -3.5 0zM1455.08 904.06a1.75 1.75 0 1 0 3.5 0a1.75 1.75 0 1 0 -3.5 0zM1459.43 905.51a1.75 1.75 0 1 0 3.5 0a1.75 1.75 0 1 0 -3.5 0zM1463.78 906.56a1.75 1.75 0 1 0 3.5 0a1.75 1.75 0 1 0 -3.5 0zM1468.16 907.56a1.75 1.75 0 1 0 3.5 0a1.75 1.75 0 1 0 -3.5 0zM1472.51 908.71a1.75 1.75 0 1 0 3.5 0a1.75 1.75 0 1 0 -3.5 0zM1476.89 909.86a1.75 1.75 0 1 0 3.5 0a1.75 1.75 0 1 0 -3.5 0zM1481.24 910.91a1.75 1.75 0 1 0 3.5 0a1.75 1.75 0 1 0 -3.5 0zM1485.62 911.61a1.75 1.75 0 1 0 3.5 0a1.75 1.75 0 1 0 -3.5 0zM1489.97 912.36a1.75 1.75 0 1 0 3.5 0a1.75 1.75 0 1 0 -3.5 0zM1494.35 913.36a1.75 1.75 0 1 0 3.5 0a1.75 1.75 0 1 0 -3.5 0zM1498.7 913.81a1.75 1.75 0 1 0 3.5 0a1.75 1.75 0 1 0 -3.5 0zM1503.05 915.26a1.75 1.75 0 1 0 3.5 0a1.75 1.75 0 1 0 -3.5 0zM1507.43 916.01a1.75 1.75 0 1 0 3.5 0a1.75 1.75 0 1 0 -3.5 0zM1511.78 916.26a1.75 1.75 0 1 0 3.5 0a1.75 1.75 0 1 0 -3.5 0zM1516.16 916.71a1.75 1.75 0 1 0 3.5 0a1.75 1.75 0 1 0 -3.5 0zM1520.51 917.76a1.75 1.75 0 1 0 3.5 0a1.75 1.75 0 1 0 -3.5 0zM1524.89 918.91a1.75 1.75 0 1 0 3.5 0a1.75 1.75 0 1 0 -3.5 0zM1529.24 919.61a1.75 1.75 0 1 0 3.5 0a1.75 1.75 0 1 0 -3.5 0zM1533.62 920.06a1.75 1.75 0 1 0 3.5 0a1.75 1.75 0 1 0 -3.5 0zM1536.08 920.36a1.75 1.75 0 1 0 3.5 0a1.75 1.75 0 1 0 -3.5 0z" fill="#300000"/>
<path d="M1017.55 574.6V601.86" stroke="#ff0000" stroke-width="4.5" fill="none"/><path d="M1010.08 589.48L1017.55 601.86L1025.03 589.48" stroke="#ff0000" stroke-width="5.0" fill="none" stroke-linejoin="miter" stroke-miterlimit="20" stroke-linecap="round"/>
<rect x="76.8" y="1033.5" width="54.6" height="31.2" fill="#4040f0"/>
<rect x="76.8" y="1065.8" width="54.6" height="31" fill="#0000b4"/>
<rect x="76.8" y="1098.4" width="54.6" height="30.5" fill="#000040"/>
<path d="M76.8 1065.25h54.6M76.8 1097.6h54.6" stroke="#c8c8ff" stroke-width="1.2"/>
<path d="M171.8 1034.2H179.8V1128.6H171.8M179.8 1081.5H188.3" stroke="#000" stroke-width="2.8" fill="none"/>
<rect x="875.8" y="1033.5" width="54.6" height="31.2" fill="#ee2a2e"/>
<rect x="875.8" y="1065.8" width="54.6" height="31" fill="#b00000"/>
<rect x="875.8" y="1098.4" width="54.6" height="30.5" fill="#400000"/>
<path d="M875.8 1065.25h54.6M875.8 1097.6h54.6" stroke="#b0b0b0" stroke-width="1.2"/>
<path d="M971.9 1034.2H979.9V1128.6H971.9M979.9 1081.5H988.4" stroke="#000" stroke-width="2.8" fill="none"/>
<text x="10.45" y="29.6" text-anchor="start" class="pl" style="font-size:33px">A</text>
<text x="412.5" y="477.25" text-anchor="middle" class="al" style="font-size:31px">Time (h)</text>
<text transform="translate(26.5 213.3) rotate(-90)" text-anchor="middle" class="al" style="font-size:30.2px">Cell Index (CI)</text>
<text x="231.95" y="432.7" text-anchor="middle" class="tl" style="font-size:32px">50</text>
<text x="381.8" y="432.7" text-anchor="middle" class="tl" style="font-size:32px">100</text>
<text x="531.65" y="432.7" text-anchor="middle" class="tl" style="font-size:32px">150</text>
<text x="681.5" y="432.7" text-anchor="middle" class="tl" style="font-size:32px">200</text>
<text transform="translate(72.2 348.3) rotate(-90)" text-anchor="middle" class="tl" style="font-size:32px">1</text>
<text transform="translate(72.2 297.1) rotate(-90)" text-anchor="middle" class="tl" style="font-size:32px">2</text>
<text transform="translate(72.2 245.9) rotate(-90)" text-anchor="middle" class="tl" style="font-size:32px">3</text>
<text transform="translate(72.2 194.7) rotate(-90)" text-anchor="middle" class="tl" style="font-size:32px">4</text>
<text transform="translate(72.2 143.5) rotate(-90)" text-anchor="middle" class="tl" style="font-size:32px">5</text>
<text transform="translate(72.2 92.3) rotate(-90)" text-anchor="middle" class="tl" style="font-size:32px">6</text>
<text transform="translate(72.2 41.1) rotate(-90)" text-anchor="middle" class="tl" style="font-size:32px">7</text>
<text x="803.5" y="29.95" text-anchor="start" class="pl" style="font-size:33px">B</text>
<text x="1212" y="478.65" text-anchor="middle" class="al" style="font-size:31px">Time (h)</text>
<text transform="translate(829.35 214.3) rotate(-90)" text-anchor="middle" class="al" style="font-size:31px">Cell Index (CI)</text>
<text x="1501.65" y="80.25" text-anchor="end" class="al" style="font-size:30.5px">Protocol 1</text>
<text x="1034.1" y="433.4" text-anchor="middle" class="tl" style="font-size:32px">50</text>
<text x="1183.4" y="433.4" text-anchor="middle" class="tl" style="font-size:32px">100</text>
<text x="1332.7" y="433.4" text-anchor="middle" class="tl" style="font-size:32px">150</text>
<text x="1482" y="433.4" text-anchor="middle" class="tl" style="font-size:32px">200</text>
<text transform="translate(874.6 348.7) rotate(-90)" text-anchor="middle" class="tl" style="font-size:32px">1</text>
<text transform="translate(874.6 297.7) rotate(-90)" text-anchor="middle" class="tl" style="font-size:32px">2</text>
<text transform="translate(874.6 246.7) rotate(-90)" text-anchor="middle" class="tl" style="font-size:32px">3</text>
<text transform="translate(874.6 195.7) rotate(-90)" text-anchor="middle" class="tl" style="font-size:32px">4</text>
<text transform="translate(874.6 144.7) rotate(-90)" text-anchor="middle" class="tl" style="font-size:32px">5</text>
<text transform="translate(874.6 93.7) rotate(-90)" text-anchor="middle" class="tl" style="font-size:32px">6</text>
<text transform="translate(874.6 42.7) rotate(-90)" text-anchor="middle" class="tl" style="font-size:32px">7</text>
<text x="11.65" y="560.5" text-anchor="start" class="pl" style="font-size:33px">C</text>
<text x="409.7" y="1007.7" text-anchor="middle" class="al" style="font-size:31px">Time (h)</text>
<text transform="translate(26.5 754.3) rotate(-90)" text-anchor="middle" class="al" style="font-size:30.2px">Cell Index (CI)</text>
<text x="699.5" y="616.35" text-anchor="end" class="al" style="font-size:30.5px">Protocol 2</text>
<text x="231.1" y="969.7" text-anchor="middle" class="tl" style="font-size:32px">50</text>
<text x="381.1" y="969.7" text-anchor="middle" class="tl" style="font-size:32px">100</text>
<text x="531.1" y="969.7" text-anchor="middle" class="tl" style="font-size:32px">150</text>
<text x="681.1" y="969.7" text-anchor="middle" class="tl" style="font-size:32px">200</text>
<text transform="translate(71.5 886) rotate(-90)" text-anchor="middle" class="tl" style="font-size:32px">1</text>
<text transform="translate(71.5 835.1) rotate(-90)" text-anchor="middle" class="tl" style="font-size:32px">2</text>
<text transform="translate(71.5 784.2) rotate(-90)" text-anchor="middle" class="tl" style="font-size:32px">3</text>
<text transform="translate(71.5 733.3) rotate(-90)" text-anchor="middle" class="tl" style="font-size:32px">4</text>
<text transform="translate(71.5 682.4) rotate(-90)" text-anchor="middle" class="tl" style="font-size:32px">5</text>
<text transform="translate(71.5 631.5) rotate(-90)" text-anchor="middle" class="tl" style="font-size:32px">6</text>
<text transform="translate(71.5 580.6) rotate(-90)" text-anchor="middle" class="tl" style="font-size:32px">7</text>
<text x="804.25" y="560.5" text-anchor="start" class="pl" style="font-size:33px">D</text>
<text x="1207" y="1007.7" text-anchor="middle" class="al" style="font-size:31px">Time (h)</text>
<text transform="translate(815.4 753.6) rotate(-90)" text-anchor="middle" class="al" style="font-size:31px">Cell Index (CI)</text>
<text x="1496.15" y="616.25" text-anchor="end" class="al" style="font-size:30.5px">Protocol 3</text>
<text x="1029.3" y="969.1" text-anchor="middle" class="tl" style="font-size:32px">50</text>
<text x="1179.3" y="969.1" text-anchor="middle" class="tl" style="font-size:32px">100</text>
<text x="1329.3" y="969.1" text-anchor="middle" class="tl" style="font-size:32px">150</text>
<text x="1479.3" y="969.1" text-anchor="middle" class="tl" style="font-size:32px">200</text>
<text transform="translate(872.8 881.52) rotate(-90)" text-anchor="middle" class="tl" style="font-size:32px">1</text>
<text transform="translate(872.8 831.54) rotate(-90)" text-anchor="middle" class="tl" style="font-size:32px">2</text>
<text transform="translate(872.8 781.56) rotate(-90)" text-anchor="middle" class="tl" style="font-size:32px">3</text>
<text transform="translate(872.8 731.58) rotate(-90)" text-anchor="middle" class="tl" style="font-size:32px">4</text>
<text transform="translate(872.8 681.6) rotate(-90)" text-anchor="middle" class="tl" style="font-size:32px">5</text>
<text transform="translate(872.8 631.62) rotate(-90)" text-anchor="middle" class="tl" style="font-size:32px">6</text>
<text transform="translate(872.8 581.64) rotate(-90)" text-anchor="middle" class="tl" style="font-size:32px">7</text>
<text x="137.3" y="1060.2" text-anchor="start" class="lg" style="font-size:26px">P1</text>
<text x="936.6" y="1061" text-anchor="start" class="lg" style="font-size:26px">P1</text>
<text x="137.3" y="1091.2" text-anchor="start" class="lg" style="font-size:26px">P2</text>
<text x="936.6" y="1092" text-anchor="start" class="lg" style="font-size:26px">P2</text>
<text x="137.3" y="1122.6" text-anchor="start" class="lg" style="font-size:26px">P3</text>
<text x="936.6" y="1123.4" text-anchor="start" class="lg" style="font-size:26px">P3</text>
<text x="194.2" y="1091.75" text-anchor="start" class="lg" style="font-size:26.5px">Mock-infected cells</text>
<text x="995.2" y="1091.75" text-anchor="start" class="lg" style="font-size:26.5px">HAV-infected cells</text>
</svg>
</body></html>
